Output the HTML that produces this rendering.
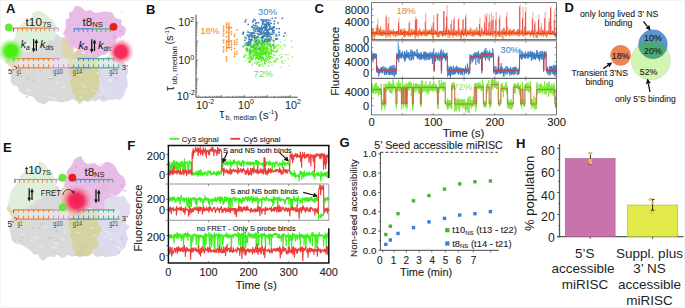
<!DOCTYPE html>
<html><head><meta charset="utf-8"><title>Figure</title>
<style>
html,body{margin:0;padding:0;background:#fff;}
#fig{position:relative;width:685px;height:308px;overflow:hidden;background:#fff;}
svg{position:absolute;left:0;top:0;}
svg text{font-family:"Liberation Sans", sans-serif;}
</style></head><body>
<div id="fig">
<svg width="685" height="308" viewBox="0 0 685 308">
<rect x="0.5" y="0.5" width="684" height="307" fill="none" stroke="#f4f4f4" stroke-width="1"/>
<defs>
<filter id="soft" x="-20%" y="-20%" width="140%" height="140%"><feGaussianBlur stdDeviation="0.7"/></filter>
<radialGradient id="gg"><stop offset="0" stop-color="#46f010"/><stop offset="0.45" stop-color="#4cee18"/><stop offset="0.72" stop-color="#86f06a" stop-opacity="0.6"/><stop offset="1" stop-color="#d0f8c8" stop-opacity="0"/></radialGradient>
<radialGradient id="rg"><stop offset="0" stop-color="#f42658"/><stop offset="0.45" stop-color="#f4305e"/><stop offset="0.74" stop-color="#f6849e" stop-opacity="0.55"/><stop offset="1" stop-color="#fac0cc" stop-opacity="0"/></radialGradient>
<radialGradient id="rg2"><stop offset="0" stop-color="#f01e52"/><stop offset="0.42" stop-color="#f22a5a"/><stop offset="0.7" stop-color="#f46a8a" stop-opacity="0.6"/><stop offset="1" stop-color="#f8b0c0" stop-opacity="0"/></radialGradient>
</defs>
<g transform="translate(0,0) translate(0,6) scale(1,1.0) translate(0,-6)" filter="url(#soft)">
<path d="M12.0,62.0 C11.8,60.4 11.7,58.5 12.5,57.3 C13.4,56.0 16.4,56.0 17.1,54.6 C17.9,53.1 16.4,49.5 17.3,48.6 C18.1,47.6 20.8,49.0 22.3,48.6 C23.8,48.2 24.9,47.2 26.1,46.2 C27.3,45.3 28.1,43.7 29.4,43.0 C30.7,42.3 32.7,42.6 34.2,41.9 C35.6,41.3 36.5,39.7 37.9,39.2 C39.3,38.6 41.1,39.3 42.4,38.7 C43.7,38.0 44.5,35.7 45.8,35.1 C47.0,34.5 48.6,35.0 50.0,34.9 C51.3,34.8 52.5,34.7 53.8,34.6 C55.1,34.5 56.6,33.9 57.7,34.4 C58.8,34.8 59.4,36.7 60.4,37.3 C61.4,37.9 63.1,37.3 63.9,38.1 C64.6,38.9 64.2,41.0 64.9,42.2 C65.5,43.3 67.0,44.0 67.7,45.2 C68.4,46.3 68.4,47.8 69.1,49.0 C69.8,50.3 70.7,52.3 71.8,52.8 C72.9,53.3 74.5,51.7 75.6,52.0 C76.8,52.3 77.6,54.0 78.7,54.5 C79.8,54.9 81.0,54.7 82.3,54.6 C83.5,54.5 84.9,53.7 86.1,53.7 C87.3,53.8 88.4,54.2 89.5,54.7 C90.7,55.1 91.7,55.8 92.8,56.4 C93.8,56.9 94.8,57.4 96.0,57.9 C97.2,58.3 98.7,58.6 100.0,58.8 C101.3,59.0 102.7,59.6 104.0,59.2 C105.3,58.8 106.7,56.5 108.0,56.3 C109.3,56.1 110.8,57.5 112.0,57.9 C113.2,58.4 113.9,58.7 115.1,59.1 C116.4,59.5 118.3,59.7 119.6,60.3 C121.0,60.9 122.2,61.6 123.3,62.6 C124.4,63.5 125.7,64.7 126.4,66.0 C127.1,67.2 128.0,68.6 127.7,69.9 C127.5,71.3 125.0,72.8 124.8,74.1 C124.7,75.5 126.5,76.7 126.9,78.0 C127.2,79.3 127.3,80.8 126.9,81.9 C126.4,83.1 124.5,83.7 124.1,84.9 C123.7,86.1 124.5,87.8 124.5,89.2 C124.4,90.6 124.2,91.8 123.7,93.0 C123.1,94.2 122.2,95.7 121.1,96.3 C120.0,96.9 118.2,95.9 117.0,96.4 C115.8,97.0 115.1,99.1 113.9,99.7 C112.7,100.2 111.1,99.6 109.8,99.8 C108.4,100.0 107.2,100.7 106.0,101.0 C104.8,101.4 103.6,102.0 102.4,101.7 C101.3,101.4 100.3,99.3 99.1,99.2 C97.9,99.2 96.6,101.2 95.4,101.4 C94.3,101.6 93.4,100.5 92.2,100.6 C91.0,100.7 89.7,102.0 88.3,102.0 C86.8,102.0 85.1,100.6 83.7,100.9 C82.3,101.3 81.0,104.1 79.7,104.1 C78.5,104.1 77.5,101.7 76.3,100.9 C75.0,100.2 73.7,99.5 72.4,99.5 C71.0,99.6 69.5,100.9 68.2,101.3 C66.9,101.6 65.8,101.6 64.7,101.8 C63.5,102.0 62.4,102.4 61.2,102.3 C60.0,102.3 58.7,101.6 57.5,101.4 C56.3,101.2 55.3,101.2 53.8,101.2 C52.4,101.2 50.3,100.7 48.7,101.3 C47.0,101.8 45.2,104.2 43.8,104.5 C42.4,104.8 41.5,103.5 40.3,103.0 C39.2,102.6 37.8,102.5 36.8,101.7 C35.8,101.0 35.3,99.3 34.4,98.3 C33.5,97.4 32.4,96.6 31.2,96.1 C30.0,95.6 28.4,95.8 27.1,95.4 C25.8,95.1 24.6,94.5 23.4,93.9 C22.1,93.3 20.3,92.9 19.4,91.7 C18.4,90.5 18.5,87.8 17.4,86.6 C16.4,85.5 14.2,86.0 13.1,85.0 C11.9,83.9 10.9,81.9 10.6,80.3 C10.3,78.6 11.2,76.6 11.3,75.0 C11.3,73.4 10.7,72.1 11.0,70.6 C11.4,69.2 13.2,67.9 13.4,66.5 C13.5,65.0 12.1,63.5 12.0,62.0 Z" fill="#dadada" stroke="none" stroke-width="1" />
<path d="M98.1,62.7 C99.0,62.1 100.5,62.4 101.6,61.8 C102.7,61.3 103.6,59.7 104.8,59.6 C106.0,59.4 107.5,61.1 108.8,60.9 C110.0,60.8 110.9,59.0 112.1,58.7 C113.3,58.4 114.7,58.8 115.8,59.3 C117.0,59.9 118.1,61.4 119.1,61.9 C120.1,62.4 121.0,62.0 121.8,62.6 C122.6,63.2 123.2,64.7 124.1,65.6 C124.9,66.6 126.1,67.4 126.8,68.5 C127.4,69.5 128.2,70.8 128.2,72.0 C128.2,73.3 126.9,74.6 126.7,75.9 C126.6,77.3 127.1,78.6 127.3,80.0 C127.5,81.3 127.8,82.7 127.8,84.0 C127.7,85.3 127.3,86.6 126.8,87.9 C126.3,89.2 125.6,90.5 125.0,91.9 C124.5,93.2 124.3,94.8 123.5,96.1 C122.7,97.4 121.3,99.0 120.1,99.5 C118.8,100.1 117.3,99.3 116.0,99.2 C114.6,99.1 113.2,98.9 111.9,99.1 C110.5,99.2 109.3,99.7 107.9,100.0 C106.6,100.4 105.1,101.3 104.0,101.0 C102.8,100.7 101.9,99.3 101.2,98.3 C100.5,97.3 100.1,96.1 99.8,94.9 C99.4,93.7 99.9,92.1 99.2,91.0 C98.6,89.8 96.1,89.1 95.7,88.0 C95.4,86.8 97.1,85.5 97.2,84.3 C97.4,83.1 96.5,81.8 96.7,80.5 C96.9,79.3 98.3,78.1 98.6,76.9 C98.9,75.7 98.8,74.4 98.8,73.2 C98.8,71.9 98.9,70.7 98.6,69.5 C98.3,68.2 96.8,66.8 96.7,65.7 C96.6,64.5 97.3,63.3 98.1,62.7 Z" fill="#dcdbee" stroke="none" stroke-width="1" />
<path d="M69.3,55.2 C70.2,54.5 71.7,54.4 72.9,53.8 C74.0,53.1 74.9,51.6 76.1,51.1 C77.3,50.6 78.8,50.4 80.1,50.8 C81.3,51.2 82.3,53.1 83.6,53.6 C84.9,54.2 86.5,53.9 87.9,54.2 C89.3,54.5 90.8,55.1 92.0,55.6 C93.2,56.1 94.1,56.3 95.0,57.2 C96.0,58.2 97.4,59.7 97.7,61.1 C98.0,62.5 96.7,64.3 96.9,65.8 C97.0,67.2 98.2,68.5 98.7,69.8 C99.2,71.2 100.0,72.7 100.0,74.0 C100.1,75.3 99.4,76.4 99.2,77.6 C99.0,78.8 99.1,80.0 99.1,81.2 C99.0,82.5 98.9,83.7 98.9,84.9 C98.9,86.1 99.3,87.5 99.0,88.6 C98.6,89.7 97.4,90.4 96.6,91.5 C95.7,92.6 94.9,94.2 94.0,95.3 C93.0,96.5 91.9,97.6 90.7,98.4 C89.6,99.3 88.3,100.3 87.1,100.4 C85.8,100.5 84.7,98.9 83.5,99.2 C82.2,99.4 80.7,101.6 79.5,101.7 C78.4,101.9 77.3,100.7 76.6,99.8 C75.9,98.9 76.0,97.4 75.3,96.3 C74.6,95.2 72.9,94.5 72.4,93.4 C71.8,92.3 72.2,90.8 72.0,89.6 C71.8,88.4 71.5,87.2 71.1,86.0 C70.7,84.7 69.6,83.5 69.7,82.1 C69.7,80.7 71.5,79.2 71.4,77.8 C71.3,76.5 69.2,75.4 68.9,74.1 C68.5,72.8 69.2,71.3 69.4,70.0 C69.6,68.7 70.4,67.3 70.2,66.0 C70.1,64.7 68.9,63.3 68.5,62.0 C68.1,60.7 67.6,59.1 67.7,58.0 C67.8,56.9 68.5,55.9 69.3,55.2 Z" fill="#d5d3a0" stroke="none" stroke-width="1" />
<path d="M61.5,39.3 C62.3,37.9 64.9,36.5 67.0,36.5 C69.1,36.4 73.0,37.9 73.9,38.9 C74.9,40.0 72.5,41.5 72.5,42.7 C72.5,44.0 73.7,45.1 73.9,46.3 C74.1,47.5 73.8,48.6 73.8,49.9 C73.7,51.2 73.9,52.9 73.6,54.1 C73.3,55.4 72.8,56.6 72.0,57.3 C71.2,58.1 69.7,58.6 68.5,58.7 C67.3,58.9 65.9,58.8 64.9,58.0 C63.9,57.3 63.1,55.7 62.5,54.3 C62.0,53.0 61.6,51.6 61.5,50.0 C61.4,48.4 61.9,46.8 61.9,45.0 C61.9,43.2 60.6,40.7 61.5,39.3 Z" fill="#dfd5b2" stroke="none" stroke-width="1" />
<path d="M14.0,41.9 C13.9,40.3 14.1,39.5 14.4,38.2 C14.6,37.0 15.3,35.8 15.6,34.7 C16.0,33.5 15.9,32.5 16.6,31.4 C17.2,30.3 18.9,29.5 19.7,28.3 C20.4,27.1 20.4,25.4 21.2,24.3 C22.1,23.2 23.4,22.4 24.7,21.7 C26.0,21.0 27.7,20.8 28.9,20.1 C30.1,19.4 31.2,18.9 31.9,17.6 C32.7,16.3 32.0,13.6 33.4,12.5 C34.8,11.4 38.2,10.8 40.2,11.0 C42.2,11.3 43.8,12.9 45.4,14.1 C47.0,15.2 48.5,17.1 49.8,18.1 C51.1,19.1 52.4,19.3 53.3,20.2 C54.2,21.1 54.6,22.3 55.2,23.5 C55.7,24.7 56.3,25.8 56.5,27.1 C56.8,28.3 56.9,29.2 56.7,30.9 C56.4,32.5 55.7,35.5 55.0,37.0 C54.3,38.5 53.5,39.3 52.4,39.9 C51.3,40.6 49.6,40.0 48.3,40.8 C47.0,41.6 46.0,43.7 44.6,44.7 C43.2,45.6 41.0,45.5 39.7,46.3 C38.5,47.1 38.3,49.1 37.1,49.5 C36.0,49.8 34.0,48.0 32.8,48.4 C31.6,48.7 31.2,50.9 30.1,51.6 C29.0,52.3 27.4,52.7 26.1,52.7 C24.9,52.6 23.8,51.5 22.5,51.3 C21.2,51.0 19.6,51.6 18.3,51.1 C17.0,50.5 15.5,49.7 14.8,48.2 C14.1,46.7 14.1,43.6 14.0,41.9 Z" fill="#dfefdb" stroke="none" stroke-width="1" />
<path d="M75.0,6.4 C76.1,5.7 78.4,6.1 79.7,6.5 C80.9,6.8 81.7,7.9 82.7,8.6 C83.8,9.4 84.6,10.7 85.9,10.9 C87.2,11.2 89.2,9.8 90.5,10.1 C91.9,10.3 92.5,12.1 94.0,12.5 C95.5,12.9 97.8,12.6 99.8,12.4 C101.8,12.2 103.7,11.5 105.8,11.6 C107.9,11.7 110.9,12.1 112.4,13.0 C113.8,13.8 113.5,15.7 114.2,16.6 C115.0,17.5 115.5,17.9 116.7,18.5 C117.9,19.0 120.7,19.0 121.5,20.0 C122.3,21.0 120.6,23.0 121.3,24.3 C121.9,25.6 124.7,26.3 125.4,27.7 C126.1,29.1 125.9,31.3 125.5,32.7 C125.1,34.0 124.2,35.1 123.1,35.8 C122.0,36.6 120.1,36.5 118.9,37.3 C117.7,38.2 116.6,39.6 115.8,41.0 C115.0,42.4 115.1,44.3 114.0,45.8 C112.8,47.3 109.9,48.6 108.8,49.9 C107.7,51.1 108.1,52.5 107.4,53.3 C106.7,54.1 105.9,54.2 104.7,54.7 C103.5,55.1 101.7,55.3 100.3,55.9 C98.8,56.5 97.6,57.7 96.0,58.0 C94.4,58.2 92.4,57.9 90.7,57.4 C89.1,56.9 87.2,56.0 85.9,55.1 C84.7,54.2 84.5,52.4 83.3,52.1 C82.1,51.7 79.8,53.4 78.7,52.8 C77.7,52.3 77.9,50.0 76.8,49.0 C75.7,48.0 73.6,47.6 72.1,46.8 C70.6,46.0 68.5,45.2 67.7,44.1 C66.9,43.0 67.7,41.6 67.4,40.5 C67.2,39.3 66.7,38.3 65.9,37.2 C65.2,36.1 63.2,35.2 63.1,33.8 C63.0,32.4 65.0,30.7 65.4,29.0 C65.9,27.4 65.8,25.4 65.9,23.9 C65.9,22.4 65.2,21.1 65.8,20.0 C66.4,19.0 68.9,18.8 69.4,17.6 C69.9,16.5 68.2,14.4 68.8,13.2 C69.4,12.0 71.9,11.7 72.9,10.5 C73.9,9.4 73.9,7.0 75.0,6.4 Z" fill="#e7bce6" stroke="none" stroke-width="1" />
</g>
<g transform="translate(0,0) translate(0,6) scale(1,1.0) translate(0,-6)" filter="url(#soft)" opacity="0.6">
<ellipse cx="93.9" cy="90.1" rx="2.4" ry="0.6" fill="#f0f0f0"/>
<ellipse cx="89.8" cy="96.7" rx="1.7" ry="0.8" fill="#c6c6c6"/>
<ellipse cx="80.6" cy="91.2" rx="1.2" ry="0.7" fill="#f0f0f0"/>
<ellipse cx="84.3" cy="71.2" rx="1.1" ry="0.8" fill="#c6c6c6"/>
<ellipse cx="40.0" cy="92.5" rx="2.2" ry="0.7" fill="#f0f0f0"/>
<ellipse cx="32.6" cy="80.7" rx="1.8" ry="1.0" fill="#c6c6c6"/>
<ellipse cx="57.5" cy="82.5" rx="1.5" ry="0.8" fill="#f0f0f0"/>
<ellipse cx="82.6" cy="77.8" rx="1.6" ry="1.0" fill="#c6c6c6"/>
<ellipse cx="49.6" cy="79.7" rx="1.4" ry="0.8" fill="#f0f0f0"/>
<ellipse cx="41.6" cy="78.5" rx="2.1" ry="0.7" fill="#c6c6c6"/>
<ellipse cx="82.4" cy="84.5" rx="1.3" ry="0.8" fill="#f0f0f0"/>
<ellipse cx="52.4" cy="78.9" rx="1.2" ry="1.0" fill="#c6c6c6"/>
<ellipse cx="81.6" cy="74.7" rx="1.1" ry="0.9" fill="#f0f0f0"/>
<ellipse cx="58.4" cy="73.9" rx="1.2" ry="1.3" fill="#c6c6c6"/>
<ellipse cx="101.3" cy="87.8" rx="1.6" ry="1.3" fill="#f0f0f0"/>
<ellipse cx="77.4" cy="87.3" rx="1.4" ry="1.0" fill="#c6c6c6"/>
<ellipse cx="86.5" cy="91.8" rx="2.0" ry="1.2" fill="#f0f0f0"/>
<ellipse cx="26.9" cy="96.8" rx="1.9" ry="0.8" fill="#c6c6c6"/>
<ellipse cx="97.7" cy="73.6" rx="1.2" ry="1.3" fill="#f0f0f0"/>
<ellipse cx="103.3" cy="97.5" rx="1.4" ry="0.9" fill="#c6c6c6"/>
<ellipse cx="50.9" cy="97.3" rx="2.4" ry="1.1" fill="#f0f0f0"/>
<ellipse cx="21.3" cy="76.7" rx="2.0" ry="0.9" fill="#c6c6c6"/>
<ellipse cx="28.3" cy="98.2" rx="1.2" ry="0.7" fill="#f0f0f0"/>
<ellipse cx="76.5" cy="76.7" rx="1.5" ry="0.8" fill="#c6c6c6"/>
<ellipse cx="64.1" cy="87.6" rx="2.3" ry="0.9" fill="#f0f0f0"/>
<ellipse cx="88.6" cy="91.2" rx="1.7" ry="0.7" fill="#c6c6c6"/>
<ellipse cx="110.1" cy="81.0" rx="2.4" ry="0.9" fill="#f0f0f0"/>
<ellipse cx="86.9" cy="91.9" rx="1.7" ry="0.8" fill="#c6c6c6"/>
<ellipse cx="100.7" cy="95.0" rx="1.4" ry="0.8" fill="#f0f0f0"/>
<ellipse cx="40.6" cy="71.1" rx="1.5" ry="0.9" fill="#c6c6c6"/>
<ellipse cx="110.1" cy="79.7" rx="2.1" ry="1.0" fill="#f0f0f0"/>
<ellipse cx="97.2" cy="75.9" rx="1.4" ry="0.7" fill="#c6c6c6"/>
<ellipse cx="85.2" cy="86.9" rx="2.2" ry="0.7" fill="#f0f0f0"/>
<ellipse cx="116.0" cy="78.1" rx="2.4" ry="0.9" fill="#c6c6c6"/>
<ellipse cx="28.5" cy="90.3" rx="2.4" ry="1.3" fill="#f0f0f0"/>
<ellipse cx="51.7" cy="95.7" rx="2.4" ry="0.7" fill="#c6c6c6"/>
<ellipse cx="119.1" cy="74.2" rx="1.1" ry="0.6" fill="#f0f0f0"/>
<ellipse cx="50.0" cy="78.9" rx="2.0" ry="1.0" fill="#c6c6c6"/>
<ellipse cx="81.1" cy="97.2" rx="1.4" ry="0.9" fill="#f0f0f0"/>
<ellipse cx="28.0" cy="78.3" rx="1.8" ry="1.3" fill="#c6c6c6"/>
<ellipse cx="103.2" cy="91.0" rx="1.9" ry="1.1" fill="#f0f0f0"/>
<ellipse cx="61.3" cy="72.1" rx="2.1" ry="0.8" fill="#c6c6c6"/>
<ellipse cx="39.7" cy="77.3" rx="2.1" ry="0.9" fill="#f0f0f0"/>
<ellipse cx="96.9" cy="89.2" rx="2.5" ry="1.3" fill="#c6c6c6"/>
<ellipse cx="54.4" cy="98.7" rx="1.5" ry="1.0" fill="#f0f0f0"/>
<ellipse cx="89.4" cy="54.2" rx="1.8" ry="1.2" fill="#f2d4f0"/>
<ellipse cx="120.5" cy="37.5" rx="1.1" ry="1.0" fill="#d8a8d8"/>
<ellipse cx="108.9" cy="47.4" rx="1.8" ry="1.0" fill="#f2d4f0"/>
<ellipse cx="88.2" cy="33.4" rx="1.6" ry="1.2" fill="#d8a8d8"/>
<ellipse cx="101.6" cy="54.5" rx="1.1" ry="0.8" fill="#f2d4f0"/>
<ellipse cx="101.3" cy="42.6" rx="2.1" ry="0.6" fill="#d8a8d8"/>
<ellipse cx="107.0" cy="45.2" rx="1.2" ry="1.2" fill="#f2d4f0"/>
<ellipse cx="79.2" cy="26.8" rx="1.4" ry="1.1" fill="#d8a8d8"/>
<ellipse cx="121.3" cy="12.2" rx="1.3" ry="0.8" fill="#f2d4f0"/>
<ellipse cx="113.8" cy="35.1" rx="1.9" ry="0.8" fill="#d8a8d8"/>
<ellipse cx="80.0" cy="26.7" rx="1.3" ry="0.7" fill="#f2d4f0"/>
<ellipse cx="102.0" cy="19.3" rx="1.0" ry="0.9" fill="#d8a8d8"/>
<ellipse cx="82.1" cy="49.1" rx="1.5" ry="0.6" fill="#f2d4f0"/>
<ellipse cx="71.9" cy="16.0" rx="1.2" ry="0.9" fill="#d8a8d8"/>
<ellipse cx="112.0" cy="31.9" rx="1.3" ry="0.8" fill="#f2d4f0"/>
<ellipse cx="120.9" cy="30.9" rx="1.8" ry="1.2" fill="#d8a8d8"/>
<ellipse cx="110.2" cy="28.5" rx="1.7" ry="0.9" fill="#f2d4f0"/>
<ellipse cx="74.4" cy="40.9" rx="1.7" ry="0.7" fill="#d8a8d8"/>
<ellipse cx="117.3" cy="36.1" rx="1.8" ry="1.0" fill="#f2d4f0"/>
<ellipse cx="122.4" cy="41.2" rx="1.4" ry="0.6" fill="#d8a8d8"/>
<ellipse cx="93.8" cy="8.2" rx="1.2" ry="0.7" fill="#f2d4f0"/>
<ellipse cx="114.8" cy="36.7" rx="2.1" ry="1.1" fill="#d8a8d8"/>
<ellipse cx="73.5" cy="52.6" rx="1.5" ry="0.8" fill="#f2d4f0"/>
<ellipse cx="101.9" cy="48.1" rx="1.4" ry="1.0" fill="#d8a8d8"/>
<ellipse cx="90.8" cy="31.8" rx="1.1" ry="1.1" fill="#f2d4f0"/>
</g>
<line x1="12.70" y1="28.20" x2="50.50" y2="28.20" stroke="#e8823c" stroke-width="1.2" />
<line x1="50.50" y1="28.20" x2="58.50" y2="28.20" stroke="#d792cc" stroke-width="1.2" />
<line x1="13.40" y1="28.20" x2="13.40" y2="31.40" stroke="#e8823c" stroke-width="1.0" />
<line x1="17.90" y1="28.20" x2="17.90" y2="31.40" stroke="#e8823c" stroke-width="1.0" />
<line x1="22.40" y1="28.20" x2="22.40" y2="31.40" stroke="#e8823c" stroke-width="1.0" />
<line x1="26.90" y1="28.20" x2="26.90" y2="31.40" stroke="#e8823c" stroke-width="1.0" />
<line x1="31.40" y1="28.20" x2="31.40" y2="31.40" stroke="#e8823c" stroke-width="1.0" />
<line x1="35.90" y1="28.20" x2="35.90" y2="31.40" stroke="#e8823c" stroke-width="1.0" />
<line x1="40.40" y1="28.20" x2="40.40" y2="31.40" stroke="#e8823c" stroke-width="1.0" />
<line x1="44.90" y1="28.20" x2="44.90" y2="31.40" stroke="#e8823c" stroke-width="1.0" />
<line x1="49.40" y1="28.20" x2="49.40" y2="31.40" stroke="#e8823c" stroke-width="1.0" />
<line x1="53.90" y1="28.20" x2="53.90" y2="31.40" stroke="#d792cc" stroke-width="1.0" />
<line x1="58.40" y1="28.20" x2="58.40" y2="31.40" stroke="#d792cc" stroke-width="1.0" />
<line x1="73.60" y1="28.80" x2="93.00" y2="28.80" stroke="#4a8ad0" stroke-width="1.2" />
<line x1="93.00" y1="28.80" x2="111.60" y2="28.80" stroke="#4fb08a" stroke-width="1.2" />
<line x1="74.20" y1="28.80" x2="74.20" y2="32.00" stroke="#4a8ad0" stroke-width="1.0" />
<line x1="78.70" y1="28.80" x2="78.70" y2="32.00" stroke="#4a8ad0" stroke-width="1.0" />
<line x1="83.20" y1="28.80" x2="83.20" y2="32.00" stroke="#4a8ad0" stroke-width="1.0" />
<line x1="87.70" y1="28.80" x2="87.70" y2="32.00" stroke="#4a8ad0" stroke-width="1.0" />
<line x1="92.20" y1="28.80" x2="92.20" y2="32.00" stroke="#4a8ad0" stroke-width="1.0" />
<line x1="96.70" y1="28.80" x2="96.70" y2="32.00" stroke="#4fb08a" stroke-width="1.0" />
<line x1="101.20" y1="28.80" x2="101.20" y2="32.00" stroke="#4fb08a" stroke-width="1.0" />
<line x1="105.70" y1="28.80" x2="105.70" y2="32.00" stroke="#4fb08a" stroke-width="1.0" />
<line x1="110.20" y1="28.80" x2="110.20" y2="32.00" stroke="#4fb08a" stroke-width="1.0" />
<line x1="13.40" y1="28.20" x2="13.40" y2="31.40" stroke="#6a5ac0" stroke-width="1" />
<circle cx="8.80" cy="27.40" r="3.90" fill="#66e83a" />
<circle cx="113.50" cy="26.80" r="3.90" fill="#ec1c1c" />
<text x="25.60" y="26.00" font-size="11.8" text-anchor="start" fill="#1a1a1a" font-weight="normal" font-style="normal" >t10</text>
<text x="42.40" y="27.00" font-size="7.6" text-anchor="start" fill="#1a1a1a" font-weight="normal" font-style="normal" >7S</text>
<text x="82.60" y="26.00" font-size="11.8" text-anchor="start" fill="#1a1a1a" font-weight="normal" font-style="normal" >t8</text>
<text x="92.20" y="27.00" font-size="7.6" text-anchor="start" fill="#1a1a1a" font-weight="normal" font-style="normal" >NS</text>
<text x="20.40" y="48.30" font-size="11.0" text-anchor="start" fill="#111" font-weight="normal" font-style="italic" >k</text>
<text x="25.70" y="49.50" font-size="7.2" text-anchor="start" fill="#111" font-weight="normal" font-style="italic" >a</text>
<line x1="33.60" y1="38.90" x2="33.60" y2="49.10" stroke="#111" stroke-width="1.25" />
<path d="M31.80,48.60 L35.40,48.60 L33.60,52.60 Z" fill="#111" stroke="none" stroke-width="1" />
<line x1="36.40" y1="50.80" x2="36.40" y2="42.40" stroke="#111" stroke-width="1.25" />
<path d="M34.60,42.90 L38.20,42.90 L36.40,38.90 Z" fill="#111" stroke="none" stroke-width="1" />
<text x="40.00" y="48.30" font-size="11.0" text-anchor="start" fill="#111" font-weight="normal" font-style="italic" >k</text>
<text x="45.40" y="50.20" font-size="7" fill="#111" font-style="italic" textLength="8.4" lengthAdjust="spacingAndGlyphs">dis</text>
<text x="78.50" y="48.60" font-size="11.0" text-anchor="start" fill="#111" font-weight="normal" font-style="italic" >k</text>
<text x="83.80" y="49.80" font-size="7.2" text-anchor="start" fill="#111" font-weight="normal" font-style="italic" >a</text>
<line x1="91.70" y1="39.20" x2="91.70" y2="49.40" stroke="#111" stroke-width="1.25" />
<path d="M89.90,48.90 L93.50,48.90 L91.70,52.90 Z" fill="#111" stroke="none" stroke-width="1" />
<line x1="94.50" y1="51.10" x2="94.50" y2="42.70" stroke="#111" stroke-width="1.25" />
<path d="M92.70,43.20 L96.30,43.20 L94.50,39.20 Z" fill="#111" stroke="none" stroke-width="1" />
<text x="98.10" y="48.60" font-size="11.0" text-anchor="start" fill="#111" font-weight="normal" font-style="italic" >k</text>
<text x="103.50" y="50.50" font-size="7" fill="#111" font-style="italic" textLength="8.4" lengthAdjust="spacingAndGlyphs">dis</text>
<rect x="17.50" y="58.60" width="102.00" height="9.20" fill="#ffffff" opacity="0.3"/>
<g filter="url(#soft)">
<path d="M7.2,61.2 L17.6,69.8" stroke="#eadab4" stroke-width="4.6" stroke-linecap="round"/>
<ellipse cx="20.4" cy="71.6" rx="4.0" ry="3.0" fill="#eadab4"/>
</g>
<line x1="13.30" y1="58.60" x2="52.40" y2="58.60" stroke="#e8823c" stroke-width="1.3" />
<line x1="52.40" y1="58.60" x2="59.50" y2="58.60" stroke="#d792cc" stroke-width="1.3" />
<line x1="13.60" y1="58.60" x2="13.60" y2="61.20" stroke="#e8823c" stroke-width="1.0" />
<line x1="18.60" y1="58.60" x2="18.60" y2="61.20" stroke="#e8823c" stroke-width="1.0" />
<line x1="23.60" y1="58.60" x2="23.60" y2="61.20" stroke="#e8823c" stroke-width="1.0" />
<line x1="28.60" y1="58.60" x2="28.60" y2="61.20" stroke="#e8823c" stroke-width="1.0" />
<line x1="33.60" y1="58.60" x2="33.60" y2="61.20" stroke="#e8823c" stroke-width="1.0" />
<line x1="38.60" y1="58.60" x2="38.60" y2="61.20" stroke="#e8823c" stroke-width="1.0" />
<line x1="43.60" y1="58.60" x2="43.60" y2="61.20" stroke="#e8823c" stroke-width="1.0" />
<line x1="48.60" y1="58.60" x2="48.60" y2="61.20" stroke="#e8823c" stroke-width="1.0" />
<line x1="53.60" y1="58.60" x2="53.60" y2="61.20" stroke="#d792cc" stroke-width="1.0" />
<line x1="58.60" y1="58.60" x2="58.60" y2="61.20" stroke="#d792cc" stroke-width="1.0" />
<line x1="77.30" y1="58.60" x2="91.60" y2="58.60" stroke="#4a8ad0" stroke-width="1.3" />
<line x1="91.60" y1="58.60" x2="115.00" y2="58.60" stroke="#4fb08a" stroke-width="1.3" />
<line x1="78.50" y1="58.60" x2="78.50" y2="61.20" stroke="#4a8ad0" stroke-width="1.0" />
<line x1="83.50" y1="58.60" x2="83.50" y2="61.20" stroke="#4a8ad0" stroke-width="1.0" />
<line x1="88.50" y1="58.60" x2="88.50" y2="61.20" stroke="#4a8ad0" stroke-width="1.0" />
<line x1="93.50" y1="58.60" x2="93.50" y2="61.20" stroke="#4fb08a" stroke-width="1.0" />
<line x1="98.50" y1="58.60" x2="98.50" y2="61.20" stroke="#4fb08a" stroke-width="1.0" />
<line x1="103.50" y1="58.60" x2="103.50" y2="61.20" stroke="#4fb08a" stroke-width="1.0" />
<line x1="108.50" y1="58.60" x2="108.50" y2="61.20" stroke="#4fb08a" stroke-width="1.0" />
<line x1="113.50" y1="58.60" x2="113.50" y2="61.20" stroke="#4fb08a" stroke-width="1.0" />
<line x1="17.80" y1="67.80" x2="49.60" y2="67.80" stroke="#e8823c" stroke-width="1.3" />
<line x1="49.60" y1="67.80" x2="69.60" y2="67.80" stroke="#d792cc" stroke-width="1.3" />
<line x1="69.60" y1="67.80" x2="90.80" y2="67.80" stroke="#4a8ad0" stroke-width="1.3" />
<line x1="90.80" y1="67.80" x2="119.30" y2="67.80" stroke="#4fb08a" stroke-width="1.3" />
<line x1="18.60" y1="67.80" x2="18.60" y2="64.20" stroke="#e8823c" stroke-width="1.0" />
<line x1="23.60" y1="67.80" x2="23.60" y2="64.20" stroke="#e8823c" stroke-width="1.0" />
<line x1="28.60" y1="67.80" x2="28.60" y2="64.20" stroke="#e8823c" stroke-width="1.0" />
<line x1="33.60" y1="67.80" x2="33.60" y2="64.20" stroke="#e8823c" stroke-width="1.0" />
<line x1="38.60" y1="67.80" x2="38.60" y2="64.20" stroke="#e8823c" stroke-width="1.0" />
<line x1="43.60" y1="67.80" x2="43.60" y2="64.20" stroke="#e8823c" stroke-width="1.0" />
<line x1="48.60" y1="67.80" x2="48.60" y2="64.20" stroke="#e8823c" stroke-width="1.0" />
<line x1="53.60" y1="67.80" x2="53.60" y2="64.20" stroke="#d792cc" stroke-width="1.0" />
<line x1="58.60" y1="67.80" x2="58.60" y2="64.20" stroke="#d792cc" stroke-width="1.0" />
<line x1="63.60" y1="67.80" x2="63.60" y2="64.20" stroke="#d792cc" stroke-width="1.0" />
<line x1="68.60" y1="67.80" x2="68.60" y2="64.20" stroke="#d792cc" stroke-width="1.0" />
<line x1="73.60" y1="67.80" x2="73.60" y2="64.20" stroke="#4a8ad0" stroke-width="1.0" />
<line x1="78.60" y1="67.80" x2="78.60" y2="64.20" stroke="#4a8ad0" stroke-width="1.0" />
<line x1="83.60" y1="67.80" x2="83.60" y2="64.20" stroke="#4a8ad0" stroke-width="1.0" />
<line x1="88.60" y1="67.80" x2="88.60" y2="64.20" stroke="#4a8ad0" stroke-width="1.0" />
<line x1="93.60" y1="67.80" x2="93.60" y2="64.20" stroke="#4fb08a" stroke-width="1.0" />
<line x1="98.60" y1="67.80" x2="98.60" y2="64.20" stroke="#4fb08a" stroke-width="1.0" />
<line x1="103.60" y1="67.80" x2="103.60" y2="64.20" stroke="#4fb08a" stroke-width="1.0" />
<line x1="108.60" y1="67.80" x2="108.60" y2="64.20" stroke="#4fb08a" stroke-width="1.0" />
<line x1="113.60" y1="67.80" x2="113.60" y2="64.20" stroke="#4fb08a" stroke-width="1.0" />
<line x1="118.60" y1="67.80" x2="118.60" y2="64.20" stroke="#4fb08a" stroke-width="1.0" />
<line x1="13.60" y1="58.60" x2="13.60" y2="61.20" stroke="#5a4ab0" stroke-width="1.1" />
<path d="M14.0,66.00 L17.4,67.80 M15.4,69.40 L17.4,67.80" fill="none" stroke="#5a4aa8" stroke-width="1.0" />
<text x="8.0" y="73.80" font-size="7.8" fill="#2a2a2a">5’</text>
<text x="16.4" y="73.60" font-size="6.4" fill="#444" textLength="5.0" lengthAdjust="spacingAndGlyphs">g1</text>
<text x="53.2" y="73.60" font-size="6.4" fill="#444" textLength="9.6" lengthAdjust="spacingAndGlyphs">g10</text>
<text x="72.8" y="73.60" font-size="6.4" fill="#444" textLength="9.4" lengthAdjust="spacingAndGlyphs">g14</text>
<text x="109.2" y="73.60" font-size="6.4" fill="#444" textLength="9.2" lengthAdjust="spacingAndGlyphs">g21</text>
<text x="121.8" y="69.60" font-size="7.8" fill="#2a2a2a">3’</text>
<circle cx="11.0" cy="51.2" r="13.5" fill="url(#gg)"/>
<circle cx="120.8" cy="51.8" r="13.5" fill="url(#rg)"/>
<text x="6.10" y="12.80" font-size="13.0" text-anchor="start" fill="#111" font-weight="bold" font-style="normal" >A</text>
<g transform="translate(0,151.3) translate(0,6) scale(1,1.04) translate(0,-6)" filter="url(#soft)">
<path d="M12.9,62.5 C13.6,61.1 14.0,59.7 14.8,58.4 C15.5,57.1 16.9,56.1 17.5,54.7 C18.0,53.3 17.2,51.0 17.9,49.9 C18.7,48.7 20.7,48.7 21.9,47.9 C23.2,47.1 24.3,45.9 25.5,45.1 C26.8,44.2 27.8,43.2 29.3,42.7 C30.7,42.2 32.7,42.5 34.2,42.1 C35.7,41.6 37.0,40.8 38.3,39.9 C39.6,38.9 40.6,37.3 41.9,36.5 C43.1,35.6 44.3,34.9 45.7,34.6 C47.0,34.3 48.4,34.7 49.9,34.5 C51.3,34.2 53.1,33.1 54.4,33.1 C55.7,33.0 56.9,33.3 57.8,34.1 C58.8,34.9 59.2,37.1 60.3,37.7 C61.3,38.3 63.2,37.3 64.3,37.8 C65.5,38.3 66.6,39.6 67.4,40.7 C68.2,41.8 68.7,43.0 69.0,44.4 C69.3,45.8 68.6,47.8 69.1,49.0 C69.6,50.2 70.9,51.4 72.0,51.8 C73.1,52.3 74.6,51.4 75.8,51.6 C76.9,51.7 78.1,51.9 79.1,52.7 C80.1,53.4 80.8,55.5 81.9,56.2 C82.9,56.9 84.1,57.0 85.4,56.9 C86.6,56.7 88.1,55.5 89.4,55.4 C90.6,55.3 91.7,55.5 92.8,56.2 C93.9,56.9 94.8,58.8 96.0,59.4 C97.2,59.9 98.7,59.6 100.0,59.4 C101.3,59.2 102.7,58.2 104.0,58.0 C105.3,57.9 106.7,58.2 108.0,58.4 C109.3,58.7 110.6,59.7 112.0,59.6 C113.4,59.5 114.8,57.8 116.1,57.8 C117.5,57.9 119.1,58.7 120.1,59.8 C121.0,60.9 120.8,63.4 121.8,64.5 C122.7,65.5 125.2,65.1 125.8,66.0 C126.4,66.9 125.4,68.7 125.5,70.0 C125.5,71.4 126.2,72.7 126.2,74.0 C126.2,75.4 125.5,76.8 125.6,78.1 C125.6,79.4 126.7,80.6 126.5,81.8 C126.3,83.0 124.6,83.8 124.3,85.0 C124.0,86.2 124.9,88.0 124.7,89.3 C124.4,90.6 123.6,91.6 122.9,92.7 C122.3,93.7 121.8,94.9 120.9,95.6 C119.9,96.3 118.5,96.8 117.2,97.0 C115.9,97.2 114.2,96.6 113.0,97.0 C111.7,97.4 110.8,98.5 109.6,99.4 C108.5,100.3 107.1,102.0 105.9,102.2 C104.7,102.4 103.7,100.7 102.5,100.6 C101.3,100.5 100.1,101.7 98.9,101.7 C97.7,101.8 96.7,101.5 95.5,100.9 C94.2,100.4 92.9,98.4 91.6,98.5 C90.4,98.6 89.4,100.9 88.1,101.3 C86.7,101.6 84.9,100.3 83.6,100.4 C82.3,100.5 81.5,101.8 80.3,101.8 C79.1,101.8 77.8,100.5 76.4,100.4 C75.0,100.3 73.3,101.6 71.9,101.5 C70.5,101.4 69.2,99.9 68.0,100.0 C66.8,100.2 65.9,101.8 64.7,102.2 C63.6,102.7 62.5,103.1 61.2,102.7 C60.0,102.3 58.5,100.0 57.3,99.8 C56.0,99.7 55.4,101.5 54.0,101.8 C52.5,102.1 50.5,101.0 48.7,101.7 C46.9,102.3 44.7,105.3 43.2,105.5 C41.8,105.8 41.0,104.4 40.1,103.4 C39.2,102.4 38.8,100.5 37.8,99.8 C36.7,99.1 34.9,99.9 33.8,99.3 C32.7,98.7 32.1,97.2 31.1,96.3 C30.1,95.4 29.0,94.7 28.0,94.0 C26.9,93.2 26.0,92.6 24.8,91.9 C23.6,91.2 22.1,90.4 20.6,89.9 C19.1,89.4 17.3,89.6 15.8,88.9 C14.3,88.1 12.6,86.7 11.8,85.2 C10.9,83.8 11.1,82.0 10.7,80.3 C10.3,78.5 9.5,76.5 9.3,74.9 C9.1,73.2 9.5,72.0 9.6,70.5 C9.8,69.1 9.8,67.6 10.3,66.2 C10.9,64.9 12.2,63.8 12.9,62.5 Z" fill="#dadada" stroke="none" stroke-width="1" />
<path d="M97.7,60.7 C98.5,60.0 100.2,61.0 101.5,61.1 C102.7,61.3 104.1,62.0 105.2,61.6 C106.4,61.2 107.2,59.1 108.3,58.7 C109.4,58.3 110.6,59.3 111.9,59.3 C113.2,59.3 114.8,58.4 116.0,58.7 C117.2,59.0 118.0,60.8 119.2,61.3 C120.4,61.9 122.1,61.3 123.2,61.9 C124.3,62.5 125.5,63.5 125.8,64.8 C126.1,66.0 124.4,68.1 125.0,69.3 C125.6,70.5 129.1,71.0 129.4,72.1 C129.7,73.2 127.5,74.6 127.0,76.0 C126.4,77.3 126.0,78.6 126.2,79.9 C126.5,81.3 128.2,82.7 128.3,84.1 C128.3,85.4 127.1,86.4 126.7,87.8 C126.2,89.2 126.3,91.0 125.5,92.2 C124.8,93.4 123.0,94.2 122.0,95.1 C121.1,96.1 120.8,96.9 119.8,97.8 C118.9,98.7 117.4,100.1 116.1,100.6 C114.9,101.2 113.5,100.9 112.1,101.1 C110.8,101.3 109.4,101.8 108.1,101.7 C106.9,101.6 105.7,101.3 104.7,100.6 C103.7,100.0 102.7,98.9 102.0,97.9 C101.4,96.8 101.4,95.4 100.8,94.4 C100.1,93.3 98.6,92.7 98.0,91.7 C97.4,90.6 97.3,89.2 97.2,88.0 C97.1,86.8 97.5,85.5 97.5,84.3 C97.4,83.1 97.1,81.8 97.0,80.6 C96.9,79.3 97.0,78.1 97.0,76.8 C96.9,75.6 96.6,74.3 96.9,73.1 C97.2,71.9 98.9,70.7 98.9,69.5 C98.9,68.2 97.0,67.1 96.8,65.7 C96.7,64.2 97.0,61.5 97.7,60.7 Z" fill="#dcdbee" stroke="none" stroke-width="1" />
<path d="M68.9,53.8 C69.7,52.8 71.3,52.7 72.5,52.5 C73.8,52.4 75.4,53.0 76.6,52.9 C77.8,52.7 78.4,52.1 79.7,51.8 C81.0,51.6 83.1,50.8 84.4,51.4 C85.7,51.9 86.3,54.5 87.6,55.2 C88.8,55.9 90.4,55.2 92.0,55.4 C93.6,55.7 96.1,55.8 97.1,56.7 C98.1,57.7 98.1,59.5 98.2,61.0 C98.2,62.5 97.1,64.2 97.2,65.7 C97.3,67.2 98.0,68.4 98.7,69.8 C99.4,71.2 101.1,72.9 101.4,74.2 C101.7,75.6 100.9,76.6 100.4,77.8 C100.0,78.9 99.3,80.0 98.6,81.2 C98.0,82.3 96.7,83.3 96.7,84.6 C96.7,85.8 98.5,87.2 98.6,88.6 C98.8,89.9 98.4,91.6 97.5,92.5 C96.6,93.5 94.2,93.3 93.1,94.4 C92.1,95.5 92.2,97.8 91.2,98.9 C90.1,100.0 88.3,100.7 87.0,101.0 C85.7,101.4 84.5,101.0 83.3,101.1 C82.1,101.1 81.0,101.4 79.6,101.3 C78.2,101.2 75.4,101.3 74.8,100.4 C74.1,99.6 76.1,97.3 75.7,96.2 C75.3,95.0 72.7,94.6 72.1,93.5 C71.6,92.4 72.3,90.8 72.3,89.5 C72.3,88.2 72.7,87.1 72.3,85.8 C71.9,84.6 70.3,83.4 70.0,82.1 C69.7,80.7 70.6,79.3 70.5,77.9 C70.4,76.6 69.8,75.3 69.5,74.0 C69.2,72.7 68.8,71.3 68.5,70.0 C68.3,68.7 67.7,67.3 68.0,66.0 C68.2,64.7 70.1,63.3 70.1,62.0 C70.1,60.7 68.3,59.4 68.1,58.0 C67.9,56.6 68.2,54.7 68.9,53.8 Z" fill="#d5d3a0" stroke="none" stroke-width="1" />
<path d="M62.2,40.3 C63.0,38.8 65.5,36.1 67.3,35.9 C69.0,35.7 71.7,37.9 72.7,39.0 C73.8,40.2 73.5,41.4 73.6,42.6 C73.7,43.9 73.0,45.1 73.2,46.4 C73.3,47.6 74.6,48.9 74.4,50.1 C74.3,51.4 72.8,52.4 72.4,53.9 C72.0,55.3 72.7,58.1 72.0,58.7 C71.3,59.4 69.6,57.8 68.5,57.7 C67.4,57.6 66.2,58.5 65.3,57.9 C64.5,57.2 64.1,55.2 63.4,53.9 C62.7,52.6 61.1,51.5 60.9,50.0 C60.8,48.5 62.4,46.7 62.6,45.0 C62.8,43.4 61.4,41.8 62.2,40.3 Z" fill="#dfd5b2" stroke="none" stroke-width="1" />
<path d="M16.2,42.1 C16.5,40.5 16.8,39.7 16.9,38.5 C17.0,37.3 16.9,35.9 17.0,34.8 C17.0,33.7 16.7,32.9 17.1,31.8 C17.5,30.7 18.6,29.4 19.1,28.0 C19.7,26.5 19.8,24.6 20.5,23.3 C21.3,22.1 22.5,21.2 23.7,20.4 C24.9,19.6 26.2,19.0 27.5,18.4 C28.8,17.9 30.4,17.7 31.6,17.2 C32.7,16.7 33.0,16.4 34.5,15.2 C36.0,14.0 38.6,10.4 40.5,10.1 C42.3,9.9 44.4,12.2 45.8,13.7 C47.2,15.1 47.8,17.6 49.0,18.7 C50.2,19.8 52.3,19.4 53.0,20.3 C53.7,21.3 52.8,23.2 53.3,24.3 C53.9,25.4 55.8,26.0 56.4,27.1 C56.9,28.2 56.9,29.3 56.6,30.9 C56.4,32.5 55.7,35.5 54.8,36.8 C53.9,38.1 52.2,37.6 51.3,38.6 C50.4,39.7 50.7,42.1 49.5,42.8 C48.2,43.6 45.3,42.5 43.7,43.1 C42.1,43.7 41.1,45.8 39.8,46.5 C38.6,47.2 37.3,46.8 36.3,47.4 C35.2,48.0 34.6,49.4 33.5,50.2 C32.5,51.0 31.4,51.8 30.1,52.2 C28.9,52.6 27.6,52.7 26.2,52.7 C24.8,52.8 23.0,52.8 21.7,52.4 C20.5,52.0 19.8,51.2 18.7,50.5 C17.6,49.7 15.5,49.5 15.1,48.2 C14.6,46.8 15.8,43.7 16.2,42.1 Z" fill="#dfefdb" stroke="none" stroke-width="1" />
<path d="M75.1,7.3 C76.4,6.4 79.5,4.8 80.8,5.0 C82.1,5.2 82.0,7.5 82.8,8.6 C83.6,9.7 84.5,10.9 85.7,11.5 C86.8,12.2 88.4,12.3 89.8,12.3 C91.2,12.3 92.2,11.2 94.0,11.6 C95.8,11.9 98.5,14.8 100.5,14.6 C102.6,14.4 104.3,10.6 106.3,10.3 C108.3,9.9 111.2,11.6 112.7,12.4 C114.2,13.2 114.6,14.1 115.3,15.0 C116.1,16.0 116.5,17.0 117.2,18.1 C117.8,19.3 118.3,20.7 119.3,21.7 C120.2,22.7 121.7,23.1 122.7,24.1 C123.6,25.1 124.6,26.3 125.1,27.8 C125.6,29.2 125.8,31.3 125.6,32.7 C125.3,34.1 124.4,35.1 123.6,36.2 C122.8,37.3 121.9,38.4 120.9,39.4 C119.8,40.5 118.7,41.8 117.2,42.5 C115.7,43.2 112.8,42.5 111.6,43.9 C110.5,45.3 111.2,49.5 110.3,50.8 C109.3,52.2 106.6,51.3 105.8,52.2 C104.9,53.0 105.9,55.2 105.0,56.0 C104.1,56.8 102.0,56.8 100.5,57.1 C99.0,57.3 97.6,58.0 96.1,57.6 C94.6,57.3 93.1,55.5 91.5,54.9 C89.8,54.4 87.8,54.7 86.2,54.5 C84.7,54.4 83.6,54.2 82.3,54.0 C81.1,53.8 79.6,54.0 78.6,53.2 C77.6,52.4 77.4,50.6 76.4,49.4 C75.4,48.3 74.2,47.1 72.6,46.2 C71.0,45.4 68.1,45.2 67.0,44.3 C66.0,43.4 66.7,41.9 66.2,40.9 C65.8,39.8 64.5,39.0 64.1,37.9 C63.8,36.7 64.0,35.4 64.2,33.9 C64.3,32.5 64.5,30.6 64.9,28.9 C65.2,27.3 66.0,25.6 66.3,24.1 C66.6,22.7 66.4,21.6 66.7,20.4 C67.0,19.3 67.5,18.1 68.3,17.2 C69.1,16.3 70.7,16.1 71.5,15.0 C72.2,13.9 72.5,11.9 73.1,10.6 C73.7,9.4 73.8,8.3 75.1,7.3 Z" fill="#e7bce6" stroke="none" stroke-width="1" />
</g>
<g transform="translate(0,151.3) translate(0,6) scale(1,1.04) translate(0,-6)" filter="url(#soft)" opacity="0.6">
<ellipse cx="119.1" cy="93.0" rx="1.2" ry="0.9" fill="#f0f0f0"/>
<ellipse cx="79.5" cy="89.9" rx="1.4" ry="1.1" fill="#c6c6c6"/>
<ellipse cx="31.4" cy="86.4" rx="1.9" ry="1.1" fill="#f0f0f0"/>
<ellipse cx="80.9" cy="98.4" rx="2.1" ry="1.1" fill="#c6c6c6"/>
<ellipse cx="45.2" cy="73.1" rx="2.4" ry="0.6" fill="#f0f0f0"/>
<ellipse cx="33.3" cy="73.9" rx="1.4" ry="1.2" fill="#c6c6c6"/>
<ellipse cx="109.6" cy="79.3" rx="1.8" ry="1.2" fill="#f0f0f0"/>
<ellipse cx="27.6" cy="81.0" rx="1.8" ry="0.7" fill="#c6c6c6"/>
<ellipse cx="63.1" cy="84.8" rx="1.7" ry="1.1" fill="#f0f0f0"/>
<ellipse cx="21.0" cy="86.2" rx="2.1" ry="1.1" fill="#c6c6c6"/>
<ellipse cx="53.5" cy="92.8" rx="1.9" ry="1.0" fill="#f0f0f0"/>
<ellipse cx="89.7" cy="91.7" rx="1.2" ry="0.9" fill="#c6c6c6"/>
<ellipse cx="117.5" cy="92.2" rx="2.4" ry="0.9" fill="#f0f0f0"/>
<ellipse cx="121.9" cy="84.0" rx="1.6" ry="1.2" fill="#c6c6c6"/>
<ellipse cx="77.8" cy="78.5" rx="2.2" ry="0.6" fill="#f0f0f0"/>
<ellipse cx="54.8" cy="96.5" rx="1.0" ry="1.2" fill="#c6c6c6"/>
<ellipse cx="93.8" cy="95.5" rx="1.2" ry="0.7" fill="#f0f0f0"/>
<ellipse cx="83.0" cy="91.7" rx="2.2" ry="0.8" fill="#c6c6c6"/>
<ellipse cx="56.8" cy="88.6" rx="2.0" ry="1.0" fill="#f0f0f0"/>
<ellipse cx="56.9" cy="85.9" rx="2.3" ry="0.7" fill="#c6c6c6"/>
<ellipse cx="35.3" cy="83.0" rx="1.8" ry="1.0" fill="#f0f0f0"/>
<ellipse cx="40.0" cy="73.5" rx="1.3" ry="0.6" fill="#c6c6c6"/>
<ellipse cx="21.5" cy="98.1" rx="1.4" ry="1.2" fill="#f0f0f0"/>
<ellipse cx="113.3" cy="87.1" rx="1.4" ry="1.0" fill="#c6c6c6"/>
<ellipse cx="41.5" cy="92.0" rx="2.2" ry="0.7" fill="#f0f0f0"/>
<ellipse cx="81.7" cy="96.3" rx="2.5" ry="1.0" fill="#c6c6c6"/>
<ellipse cx="105.5" cy="82.5" rx="2.5" ry="0.8" fill="#f0f0f0"/>
<ellipse cx="41.2" cy="70.2" rx="2.1" ry="1.0" fill="#c6c6c6"/>
<ellipse cx="120.2" cy="95.1" rx="1.6" ry="1.1" fill="#f0f0f0"/>
<ellipse cx="22.0" cy="83.5" rx="2.1" ry="1.0" fill="#c6c6c6"/>
<ellipse cx="106.6" cy="77.5" rx="1.9" ry="0.7" fill="#f0f0f0"/>
<ellipse cx="102.0" cy="97.2" rx="1.4" ry="0.7" fill="#c6c6c6"/>
<ellipse cx="91.7" cy="74.4" rx="1.8" ry="0.8" fill="#f0f0f0"/>
<ellipse cx="87.0" cy="92.1" rx="1.6" ry="1.0" fill="#c6c6c6"/>
<ellipse cx="94.2" cy="81.1" rx="1.9" ry="0.9" fill="#f0f0f0"/>
<ellipse cx="50.3" cy="83.7" rx="2.4" ry="1.0" fill="#c6c6c6"/>
<ellipse cx="119.0" cy="87.1" rx="1.3" ry="0.9" fill="#f0f0f0"/>
<ellipse cx="88.1" cy="79.9" rx="1.3" ry="1.2" fill="#c6c6c6"/>
<ellipse cx="57.3" cy="91.1" rx="1.3" ry="0.6" fill="#f0f0f0"/>
<ellipse cx="118.6" cy="97.7" rx="1.7" ry="1.0" fill="#c6c6c6"/>
<ellipse cx="64.5" cy="77.8" rx="1.2" ry="1.3" fill="#f0f0f0"/>
<ellipse cx="56.7" cy="76.8" rx="1.4" ry="1.3" fill="#c6c6c6"/>
<ellipse cx="22.1" cy="80.2" rx="1.5" ry="0.9" fill="#f0f0f0"/>
<ellipse cx="38.5" cy="74.8" rx="1.6" ry="1.1" fill="#c6c6c6"/>
<ellipse cx="111.3" cy="84.6" rx="2.0" ry="1.2" fill="#f0f0f0"/>
<ellipse cx="120.2" cy="37.7" rx="1.4" ry="0.7" fill="#f2d4f0"/>
<ellipse cx="103.7" cy="37.6" rx="1.8" ry="0.6" fill="#d8a8d8"/>
<ellipse cx="103.5" cy="11.9" rx="2.0" ry="0.9" fill="#f2d4f0"/>
<ellipse cx="124.8" cy="38.1" rx="2.1" ry="0.8" fill="#d8a8d8"/>
<ellipse cx="78.3" cy="46.7" rx="2.1" ry="1.1" fill="#f2d4f0"/>
<ellipse cx="102.7" cy="26.0" rx="2.1" ry="0.7" fill="#d8a8d8"/>
<ellipse cx="81.9" cy="29.9" rx="1.2" ry="1.0" fill="#f2d4f0"/>
<ellipse cx="104.2" cy="33.3" rx="2.0" ry="0.6" fill="#d8a8d8"/>
<ellipse cx="100.0" cy="22.9" rx="1.1" ry="0.8" fill="#f2d4f0"/>
<ellipse cx="102.1" cy="35.7" rx="1.5" ry="0.7" fill="#d8a8d8"/>
<ellipse cx="103.2" cy="12.4" rx="1.2" ry="1.1" fill="#f2d4f0"/>
<ellipse cx="70.9" cy="15.0" rx="1.3" ry="0.8" fill="#d8a8d8"/>
<ellipse cx="111.2" cy="41.1" rx="2.1" ry="1.0" fill="#f2d4f0"/>
<ellipse cx="87.4" cy="48.7" rx="2.2" ry="1.0" fill="#d8a8d8"/>
<ellipse cx="81.6" cy="14.1" rx="1.3" ry="1.0" fill="#f2d4f0"/>
<ellipse cx="121.1" cy="33.2" rx="1.2" ry="1.1" fill="#d8a8d8"/>
<ellipse cx="88.9" cy="14.7" rx="1.0" ry="0.7" fill="#f2d4f0"/>
<ellipse cx="102.4" cy="25.2" rx="1.8" ry="0.8" fill="#d8a8d8"/>
<ellipse cx="111.3" cy="41.7" rx="1.8" ry="0.8" fill="#f2d4f0"/>
<ellipse cx="76.0" cy="14.5" rx="1.1" ry="1.2" fill="#d8a8d8"/>
<ellipse cx="100.9" cy="53.2" rx="1.6" ry="0.8" fill="#f2d4f0"/>
<ellipse cx="100.6" cy="12.7" rx="1.9" ry="0.6" fill="#d8a8d8"/>
<ellipse cx="85.7" cy="42.3" rx="1.9" ry="0.9" fill="#f2d4f0"/>
<ellipse cx="86.1" cy="17.2" rx="2.0" ry="0.9" fill="#d8a8d8"/>
<ellipse cx="96.2" cy="49.7" rx="1.2" ry="1.1" fill="#f2d4f0"/>
</g>
<g filter="url(#soft)">
<path d="M104.1,201.2 C104.5,200.2 105.8,199.0 106.9,198.4 C107.9,197.8 109.4,198.2 110.6,197.6 C111.8,197.1 112.9,195.3 114.0,195.1 C115.2,194.9 116.4,196.3 117.7,196.5 C118.9,196.7 120.2,196.1 121.3,196.2 C122.5,196.2 123.8,195.9 124.7,196.7 C125.7,197.5 126.2,199.6 127.1,201.0 C128.0,202.4 129.7,203.7 130.2,205.0 C130.7,206.3 130.1,207.5 130.1,208.7 C130.1,209.9 130.5,211.3 130.2,212.4 C130.0,213.5 129.6,214.5 128.8,215.4 C128.0,216.2 126.6,217.0 125.5,217.5 C124.3,218.1 123.1,218.1 121.8,218.5 C120.5,218.9 119.0,220.2 117.7,219.9 C116.4,219.7 115.6,217.4 114.2,217.0 C112.9,216.6 110.9,217.7 109.6,217.4 C108.4,217.0 107.7,215.8 107.0,214.9 C106.3,213.9 106.2,212.6 105.7,211.5 C105.2,210.4 104.1,209.3 103.9,208.2 C103.7,207.0 104.4,205.7 104.5,204.5 C104.5,203.3 103.7,202.2 104.1,201.2 Z" fill="#dedcee" stroke="none" stroke-width="1" />
</g>
<g filter="url(#soft)">
<path d="M8.2,206.0 C7.5,204.6 8.6,202.6 8.9,201.0 C9.1,199.4 9.3,197.7 9.7,196.3 C10.0,194.8 10.5,193.5 10.9,192.2 C11.4,190.8 11.6,189.5 12.4,188.4 C13.1,187.2 14.3,186.4 15.2,185.2 C16.1,184.0 16.6,181.7 17.8,181.2 C19.0,180.7 21.0,182.3 22.3,182.1 C23.6,182.0 24.5,180.2 25.7,180.3 C27.0,180.3 28.4,181.5 29.6,182.4 C30.7,183.4 32.3,184.8 32.7,186.0 C33.2,187.2 32.6,188.3 32.3,189.5 C32.0,190.7 31.1,191.8 31.0,193.0 C30.9,194.2 31.3,195.2 31.6,196.5 C31.9,197.8 33.0,199.3 32.9,200.5 C32.8,201.8 31.9,203.0 31.1,204.0 C30.4,205.1 29.4,206.1 28.5,207.0 C27.6,207.8 26.9,208.2 25.7,209.1 C24.5,210.0 22.8,212.0 21.3,212.5 C19.8,213.1 18.1,212.9 16.7,212.3 C15.3,211.8 14.2,210.2 12.8,209.2 C11.4,208.1 8.9,207.4 8.2,206.0 Z" fill="#dfefdb" stroke="none" stroke-width="1" />
</g>
<line x1="14.30" y1="179.50" x2="52.00" y2="179.50" stroke="#e8823c" stroke-width="1.2" />
<line x1="52.00" y1="179.50" x2="59.80" y2="179.50" stroke="#d792cc" stroke-width="1.2" />
<line x1="14.90" y1="179.50" x2="14.90" y2="182.70" stroke="#e8823c" stroke-width="1.0" />
<line x1="19.50" y1="179.50" x2="19.50" y2="182.70" stroke="#e8823c" stroke-width="1.0" />
<line x1="24.10" y1="179.50" x2="24.10" y2="182.70" stroke="#e8823c" stroke-width="1.0" />
<line x1="28.70" y1="179.50" x2="28.70" y2="182.70" stroke="#e8823c" stroke-width="1.0" />
<line x1="33.30" y1="179.50" x2="33.30" y2="182.70" stroke="#e8823c" stroke-width="1.0" />
<line x1="37.90" y1="179.50" x2="37.90" y2="182.70" stroke="#e8823c" stroke-width="1.0" />
<line x1="42.50" y1="179.50" x2="42.50" y2="182.70" stroke="#e8823c" stroke-width="1.0" />
<line x1="47.10" y1="179.50" x2="47.10" y2="182.70" stroke="#e8823c" stroke-width="1.0" />
<line x1="51.70" y1="179.50" x2="51.70" y2="182.70" stroke="#e8823c" stroke-width="1.0" />
<line x1="56.30" y1="179.50" x2="56.30" y2="182.70" stroke="#d792cc" stroke-width="1.0" />
<line x1="75.40" y1="179.50" x2="95.00" y2="179.50" stroke="#4a8ad0" stroke-width="1.2" />
<line x1="95.00" y1="179.50" x2="113.00" y2="179.50" stroke="#4fb08a" stroke-width="1.2" />
<line x1="76.00" y1="179.50" x2="76.00" y2="182.70" stroke="#4a8ad0" stroke-width="1.0" />
<line x1="80.60" y1="179.50" x2="80.60" y2="182.70" stroke="#4a8ad0" stroke-width="1.0" />
<line x1="85.20" y1="179.50" x2="85.20" y2="182.70" stroke="#4a8ad0" stroke-width="1.0" />
<line x1="89.80" y1="179.50" x2="89.80" y2="182.70" stroke="#4a8ad0" stroke-width="1.0" />
<line x1="94.40" y1="179.50" x2="94.40" y2="182.70" stroke="#4a8ad0" stroke-width="1.0" />
<line x1="99.00" y1="179.50" x2="99.00" y2="182.70" stroke="#4fb08a" stroke-width="1.0" />
<line x1="103.60" y1="179.50" x2="103.60" y2="182.70" stroke="#4fb08a" stroke-width="1.0" />
<line x1="108.20" y1="179.50" x2="108.20" y2="182.70" stroke="#4fb08a" stroke-width="1.0" />
<line x1="112.80" y1="179.50" x2="112.80" y2="182.70" stroke="#4fb08a" stroke-width="1.0" />
<line x1="14.90" y1="179.50" x2="14.90" y2="182.70" stroke="#6a5ac0" stroke-width="1" />
<text x="25.00" y="173.90" font-size="11.8" text-anchor="start" fill="#1a1a1a" font-weight="normal" font-style="normal" >t10</text>
<text x="41.80" y="174.90" font-size="7.6" text-anchor="start" fill="#1a1a1a" font-weight="normal" font-style="normal" >7S</text>
<text x="84.40" y="176.00" font-size="11.8" text-anchor="start" fill="#1a1a1a" font-weight="normal" font-style="normal" >t8</text>
<text x="94.00" y="177.00" font-size="7.6" text-anchor="start" fill="#1a1a1a" font-weight="normal" font-style="normal" >NS</text>
<rect x="17.50" y="209.90" width="102.00" height="9.20" fill="#ffffff" opacity="0.3"/>
<g filter="url(#soft)">
<path d="M8.8,208.5 L18.2,221.8" stroke="#eadab4" stroke-width="4.6" stroke-linecap="round"/>
<ellipse cx="21.2" cy="223.4" rx="4.2" ry="3.2" fill="#eadab4"/>
</g>
<line x1="13.30" y1="209.90" x2="52.40" y2="209.90" stroke="#e8823c" stroke-width="1.3" />
<line x1="52.40" y1="209.90" x2="59.50" y2="209.90" stroke="#d792cc" stroke-width="1.3" />
<line x1="13.60" y1="209.90" x2="13.60" y2="212.50" stroke="#e8823c" stroke-width="1.0" />
<line x1="18.60" y1="209.90" x2="18.60" y2="212.50" stroke="#e8823c" stroke-width="1.0" />
<line x1="23.60" y1="209.90" x2="23.60" y2="212.50" stroke="#e8823c" stroke-width="1.0" />
<line x1="28.60" y1="209.90" x2="28.60" y2="212.50" stroke="#e8823c" stroke-width="1.0" />
<line x1="33.60" y1="209.90" x2="33.60" y2="212.50" stroke="#e8823c" stroke-width="1.0" />
<line x1="38.60" y1="209.90" x2="38.60" y2="212.50" stroke="#e8823c" stroke-width="1.0" />
<line x1="43.60" y1="209.90" x2="43.60" y2="212.50" stroke="#e8823c" stroke-width="1.0" />
<line x1="48.60" y1="209.90" x2="48.60" y2="212.50" stroke="#e8823c" stroke-width="1.0" />
<line x1="53.60" y1="209.90" x2="53.60" y2="212.50" stroke="#d792cc" stroke-width="1.0" />
<line x1="58.60" y1="209.90" x2="58.60" y2="212.50" stroke="#d792cc" stroke-width="1.0" />
<line x1="77.30" y1="209.90" x2="91.60" y2="209.90" stroke="#4a8ad0" stroke-width="1.3" />
<line x1="91.60" y1="209.90" x2="115.00" y2="209.90" stroke="#4fb08a" stroke-width="1.3" />
<line x1="78.50" y1="209.90" x2="78.50" y2="212.50" stroke="#4a8ad0" stroke-width="1.0" />
<line x1="83.50" y1="209.90" x2="83.50" y2="212.50" stroke="#4a8ad0" stroke-width="1.0" />
<line x1="88.50" y1="209.90" x2="88.50" y2="212.50" stroke="#4a8ad0" stroke-width="1.0" />
<line x1="93.50" y1="209.90" x2="93.50" y2="212.50" stroke="#4fb08a" stroke-width="1.0" />
<line x1="98.50" y1="209.90" x2="98.50" y2="212.50" stroke="#4fb08a" stroke-width="1.0" />
<line x1="103.50" y1="209.90" x2="103.50" y2="212.50" stroke="#4fb08a" stroke-width="1.0" />
<line x1="108.50" y1="209.90" x2="108.50" y2="212.50" stroke="#4fb08a" stroke-width="1.0" />
<line x1="113.50" y1="209.90" x2="113.50" y2="212.50" stroke="#4fb08a" stroke-width="1.0" />
<line x1="17.80" y1="219.10" x2="49.60" y2="219.10" stroke="#e8823c" stroke-width="1.3" />
<line x1="49.60" y1="219.10" x2="69.60" y2="219.10" stroke="#d792cc" stroke-width="1.3" />
<line x1="69.60" y1="219.10" x2="90.80" y2="219.10" stroke="#4a8ad0" stroke-width="1.3" />
<line x1="90.80" y1="219.10" x2="119.30" y2="219.10" stroke="#4fb08a" stroke-width="1.3" />
<line x1="18.60" y1="219.10" x2="18.60" y2="215.50" stroke="#e8823c" stroke-width="1.0" />
<line x1="23.60" y1="219.10" x2="23.60" y2="215.50" stroke="#e8823c" stroke-width="1.0" />
<line x1="28.60" y1="219.10" x2="28.60" y2="215.50" stroke="#e8823c" stroke-width="1.0" />
<line x1="33.60" y1="219.10" x2="33.60" y2="215.50" stroke="#e8823c" stroke-width="1.0" />
<line x1="38.60" y1="219.10" x2="38.60" y2="215.50" stroke="#e8823c" stroke-width="1.0" />
<line x1="43.60" y1="219.10" x2="43.60" y2="215.50" stroke="#e8823c" stroke-width="1.0" />
<line x1="48.60" y1="219.10" x2="48.60" y2="215.50" stroke="#e8823c" stroke-width="1.0" />
<line x1="53.60" y1="219.10" x2="53.60" y2="215.50" stroke="#d792cc" stroke-width="1.0" />
<line x1="58.60" y1="219.10" x2="58.60" y2="215.50" stroke="#d792cc" stroke-width="1.0" />
<line x1="63.60" y1="219.10" x2="63.60" y2="215.50" stroke="#d792cc" stroke-width="1.0" />
<line x1="68.60" y1="219.10" x2="68.60" y2="215.50" stroke="#d792cc" stroke-width="1.0" />
<line x1="73.60" y1="219.10" x2="73.60" y2="215.50" stroke="#4a8ad0" stroke-width="1.0" />
<line x1="78.60" y1="219.10" x2="78.60" y2="215.50" stroke="#4a8ad0" stroke-width="1.0" />
<line x1="83.60" y1="219.10" x2="83.60" y2="215.50" stroke="#4a8ad0" stroke-width="1.0" />
<line x1="88.60" y1="219.10" x2="88.60" y2="215.50" stroke="#4a8ad0" stroke-width="1.0" />
<line x1="93.60" y1="219.10" x2="93.60" y2="215.50" stroke="#4fb08a" stroke-width="1.0" />
<line x1="98.60" y1="219.10" x2="98.60" y2="215.50" stroke="#4fb08a" stroke-width="1.0" />
<line x1="103.60" y1="219.10" x2="103.60" y2="215.50" stroke="#4fb08a" stroke-width="1.0" />
<line x1="108.60" y1="219.10" x2="108.60" y2="215.50" stroke="#4fb08a" stroke-width="1.0" />
<line x1="113.60" y1="219.10" x2="113.60" y2="215.50" stroke="#4fb08a" stroke-width="1.0" />
<line x1="118.60" y1="219.10" x2="118.60" y2="215.50" stroke="#4fb08a" stroke-width="1.0" />
<line x1="13.60" y1="209.90" x2="13.60" y2="212.50" stroke="#5a4ab0" stroke-width="1.1" />
<path d="M14.0,217.30 L17.4,219.10 M15.4,220.70 L17.4,219.10" fill="none" stroke="#5a4aa8" stroke-width="1.0" />
<text x="7.4" y="226.50" font-size="8.2" fill="#2a2a2a">5’</text>
<text x="17.599999999999998" y="226.30" font-size="6.4" fill="#444" textLength="5.0" lengthAdjust="spacingAndGlyphs">g1</text>
<text x="53.2" y="226.30" font-size="6.4" fill="#444" textLength="9.6" lengthAdjust="spacingAndGlyphs">g10</text>
<text x="72.8" y="226.30" font-size="6.4" fill="#444" textLength="9.4" lengthAdjust="spacingAndGlyphs">g14</text>
<text x="109.2" y="226.30" font-size="6.4" fill="#444" textLength="9.2" lengthAdjust="spacingAndGlyphs">g21</text>
<text x="121.8" y="220.90" font-size="7.8" fill="#2a2a2a">3’</text>
<g filter="url(#soft)">
<path d="M61.0,189.0 C61.8,187.3 64.8,186.5 66.0,187.0 C67.2,187.5 68.2,190.0 68.0,192.0 C67.8,194.0 66.2,198.2 65.0,199.0 C63.8,199.8 61.7,198.7 61.0,197.0 C60.3,195.3 60.2,190.7 61.0,189.0 Z" fill="#e8d8b4" stroke="none" stroke-width="1" />
</g>
<circle cx="76.6" cy="200.8" r="16.5" fill="url(#rg2)"/>
<circle cx="62.40" cy="177.70" r="3.90" fill="#66e83a" />
<circle cx="72.30" cy="177.70" r="3.90" fill="#ec1c1c" />
<circle cx="62.70" cy="207.30" r="3.90" fill="#66e83a" />
<line x1="29.20" y1="188.20" x2="29.20" y2="198.30" stroke="#111" stroke-width="1.25" />
<path d="M27.40,197.80 L31.00,197.80 L29.20,201.80 Z" fill="#111" stroke="none" stroke-width="1" />
<line x1="32.00" y1="200.00" x2="32.00" y2="191.70" stroke="#111" stroke-width="1.25" />
<path d="M30.20,192.20 L33.80,192.20 L32.00,188.20 Z" fill="#111" stroke="none" stroke-width="1" />
<line x1="96.00" y1="189.60" x2="96.00" y2="200.10" stroke="#111" stroke-width="1.25" />
<path d="M94.20,199.60 L97.80,199.60 L96.00,203.60 Z" fill="#111" stroke="none" stroke-width="1" />
<line x1="98.80" y1="201.80" x2="98.80" y2="193.10" stroke="#111" stroke-width="1.25" />
<path d="M97.00,193.60 L100.60,193.60 L98.80,189.60 Z" fill="#111" stroke="none" stroke-width="1" />
<text x="40.8" y="195.5" font-size="8.6" fill="#1a1a1a" textLength="20.2" lengthAdjust="spacingAndGlyphs">FRET</text>
<path d="M62.8,195 C63.5,189.5 70,187.5 72.8,192" fill="none" stroke="#222" stroke-width="0.8" />
<path d="M71.0,191.2 L74.2,194.2 L74.4,190.4 Z" fill="#5a1a3a" stroke="none" stroke-width="1" />
<text x="3.00" y="151.90" font-size="13.0" text-anchor="start" fill="#111" font-weight="bold" font-style="normal" >E</text>
<text x="146.10" y="13.80" font-size="13.0" text-anchor="start" fill="#111" font-weight="bold" font-style="normal" >B</text>
<line x1="196.00" y1="14.60" x2="196.00" y2="97.20" stroke="#333" stroke-width="0.9" />
<line x1="196.00" y1="97.20" x2="297.60" y2="97.20" stroke="#333" stroke-width="0.9" />
<line x1="198.60" y1="97.20" x2="198.60" y2="94.80" stroke="#555" stroke-width="0.6" />
<line x1="196.00" y1="91.94" x2="197.40" y2="91.94" stroke="#555" stroke-width="0.6" />
<line x1="205.52" y1="97.20" x2="205.52" y2="95.80" stroke="#555" stroke-width="0.6" />
<line x1="196.00" y1="88.63" x2="197.40" y2="88.63" stroke="#555" stroke-width="0.6" />
<line x1="209.57" y1="97.20" x2="209.57" y2="95.80" stroke="#555" stroke-width="0.6" />
<line x1="196.00" y1="86.28" x2="197.40" y2="86.28" stroke="#555" stroke-width="0.6" />
<line x1="212.45" y1="97.20" x2="212.45" y2="95.80" stroke="#555" stroke-width="0.6" />
<line x1="196.00" y1="84.46" x2="197.40" y2="84.46" stroke="#555" stroke-width="0.6" />
<line x1="214.68" y1="97.20" x2="214.68" y2="95.80" stroke="#555" stroke-width="0.6" />
<line x1="196.00" y1="82.97" x2="197.40" y2="82.97" stroke="#555" stroke-width="0.6" />
<line x1="216.50" y1="97.20" x2="216.50" y2="95.80" stroke="#555" stroke-width="0.6" />
<line x1="196.00" y1="81.71" x2="197.40" y2="81.71" stroke="#555" stroke-width="0.6" />
<line x1="218.04" y1="97.20" x2="218.04" y2="95.80" stroke="#555" stroke-width="0.6" />
<line x1="196.00" y1="80.62" x2="197.40" y2="80.62" stroke="#555" stroke-width="0.6" />
<line x1="219.37" y1="97.20" x2="219.37" y2="95.80" stroke="#555" stroke-width="0.6" />
<line x1="196.00" y1="79.66" x2="197.40" y2="79.66" stroke="#555" stroke-width="0.6" />
<line x1="220.55" y1="97.20" x2="220.55" y2="95.80" stroke="#555" stroke-width="0.6" />
<line x1="196.00" y1="78.80" x2="198.40" y2="78.80" stroke="#555" stroke-width="0.6" />
<line x1="221.60" y1="97.20" x2="221.60" y2="94.80" stroke="#555" stroke-width="0.6" />
<line x1="196.00" y1="73.14" x2="197.40" y2="73.14" stroke="#555" stroke-width="0.6" />
<line x1="228.52" y1="97.20" x2="228.52" y2="95.80" stroke="#555" stroke-width="0.6" />
<line x1="196.00" y1="69.83" x2="197.40" y2="69.83" stroke="#555" stroke-width="0.6" />
<line x1="232.57" y1="97.20" x2="232.57" y2="95.80" stroke="#555" stroke-width="0.6" />
<line x1="196.00" y1="67.48" x2="197.40" y2="67.48" stroke="#555" stroke-width="0.6" />
<line x1="235.45" y1="97.20" x2="235.45" y2="95.80" stroke="#555" stroke-width="0.6" />
<line x1="196.00" y1="65.66" x2="197.40" y2="65.66" stroke="#555" stroke-width="0.6" />
<line x1="237.68" y1="97.20" x2="237.68" y2="95.80" stroke="#555" stroke-width="0.6" />
<line x1="196.00" y1="64.17" x2="197.40" y2="64.17" stroke="#555" stroke-width="0.6" />
<line x1="239.50" y1="97.20" x2="239.50" y2="95.80" stroke="#555" stroke-width="0.6" />
<line x1="196.00" y1="62.91" x2="197.40" y2="62.91" stroke="#555" stroke-width="0.6" />
<line x1="241.04" y1="97.20" x2="241.04" y2="95.80" stroke="#555" stroke-width="0.6" />
<line x1="196.00" y1="61.82" x2="197.40" y2="61.82" stroke="#555" stroke-width="0.6" />
<line x1="242.37" y1="97.20" x2="242.37" y2="95.80" stroke="#555" stroke-width="0.6" />
<line x1="196.00" y1="60.86" x2="197.40" y2="60.86" stroke="#555" stroke-width="0.6" />
<line x1="243.55" y1="97.20" x2="243.55" y2="95.80" stroke="#555" stroke-width="0.6" />
<line x1="196.00" y1="60.00" x2="198.40" y2="60.00" stroke="#555" stroke-width="0.6" />
<line x1="244.60" y1="97.20" x2="244.60" y2="94.80" stroke="#555" stroke-width="0.6" />
<line x1="196.00" y1="54.34" x2="197.40" y2="54.34" stroke="#555" stroke-width="0.6" />
<line x1="251.52" y1="97.20" x2="251.52" y2="95.80" stroke="#555" stroke-width="0.6" />
<line x1="196.00" y1="51.03" x2="197.40" y2="51.03" stroke="#555" stroke-width="0.6" />
<line x1="255.57" y1="97.20" x2="255.57" y2="95.80" stroke="#555" stroke-width="0.6" />
<line x1="196.00" y1="48.68" x2="197.40" y2="48.68" stroke="#555" stroke-width="0.6" />
<line x1="258.45" y1="97.20" x2="258.45" y2="95.80" stroke="#555" stroke-width="0.6" />
<line x1="196.00" y1="46.86" x2="197.40" y2="46.86" stroke="#555" stroke-width="0.6" />
<line x1="260.68" y1="97.20" x2="260.68" y2="95.80" stroke="#555" stroke-width="0.6" />
<line x1="196.00" y1="45.37" x2="197.40" y2="45.37" stroke="#555" stroke-width="0.6" />
<line x1="262.50" y1="97.20" x2="262.50" y2="95.80" stroke="#555" stroke-width="0.6" />
<line x1="196.00" y1="44.11" x2="197.40" y2="44.11" stroke="#555" stroke-width="0.6" />
<line x1="264.04" y1="97.20" x2="264.04" y2="95.80" stroke="#555" stroke-width="0.6" />
<line x1="196.00" y1="43.02" x2="197.40" y2="43.02" stroke="#555" stroke-width="0.6" />
<line x1="265.37" y1="97.20" x2="265.37" y2="95.80" stroke="#555" stroke-width="0.6" />
<line x1="196.00" y1="42.06" x2="197.40" y2="42.06" stroke="#555" stroke-width="0.6" />
<line x1="266.55" y1="97.20" x2="266.55" y2="95.80" stroke="#555" stroke-width="0.6" />
<line x1="196.00" y1="41.20" x2="198.40" y2="41.20" stroke="#555" stroke-width="0.6" />
<line x1="267.60" y1="97.20" x2="267.60" y2="94.80" stroke="#555" stroke-width="0.6" />
<line x1="196.00" y1="35.54" x2="197.40" y2="35.54" stroke="#555" stroke-width="0.6" />
<line x1="274.52" y1="97.20" x2="274.52" y2="95.80" stroke="#555" stroke-width="0.6" />
<line x1="196.00" y1="32.23" x2="197.40" y2="32.23" stroke="#555" stroke-width="0.6" />
<line x1="278.57" y1="97.20" x2="278.57" y2="95.80" stroke="#555" stroke-width="0.6" />
<line x1="196.00" y1="29.88" x2="197.40" y2="29.88" stroke="#555" stroke-width="0.6" />
<line x1="281.45" y1="97.20" x2="281.45" y2="95.80" stroke="#555" stroke-width="0.6" />
<line x1="196.00" y1="28.06" x2="197.40" y2="28.06" stroke="#555" stroke-width="0.6" />
<line x1="283.68" y1="97.20" x2="283.68" y2="95.80" stroke="#555" stroke-width="0.6" />
<line x1="196.00" y1="26.57" x2="197.40" y2="26.57" stroke="#555" stroke-width="0.6" />
<line x1="285.50" y1="97.20" x2="285.50" y2="95.80" stroke="#555" stroke-width="0.6" />
<line x1="196.00" y1="25.31" x2="197.40" y2="25.31" stroke="#555" stroke-width="0.6" />
<line x1="287.04" y1="97.20" x2="287.04" y2="95.80" stroke="#555" stroke-width="0.6" />
<line x1="196.00" y1="24.22" x2="197.40" y2="24.22" stroke="#555" stroke-width="0.6" />
<line x1="288.37" y1="97.20" x2="288.37" y2="95.80" stroke="#555" stroke-width="0.6" />
<line x1="196.00" y1="23.26" x2="197.40" y2="23.26" stroke="#555" stroke-width="0.6" />
<line x1="289.55" y1="97.20" x2="289.55" y2="95.80" stroke="#555" stroke-width="0.6" />
<line x1="196.00" y1="22.40" x2="198.40" y2="22.40" stroke="#555" stroke-width="0.6" />
<line x1="290.60" y1="97.20" x2="290.60" y2="94.80" stroke="#555" stroke-width="0.6" />
<text x="194.20" y="26.20" font-size="10.8" fill="#222" stroke="none" text-anchor="end">10<tspan font-size="7" dy="-4.2">2</tspan></text>
<text x="194.20" y="63.90" font-size="10.8" fill="#222" stroke="none" text-anchor="end">10<tspan font-size="7" dy="-4.2">0</tspan></text>
<text x="195.00" y="99.60" font-size="10.8" fill="#222" stroke="none" text-anchor="end">10<tspan font-size="7" dy="-4.2">-2</tspan></text>
<text x="196.0" y="108.6" font-size="10.8" fill="#222" stroke="none">10<tspan font-size="7" dy="-4.2">-2</tspan></text>
<text x="238.0" y="108.6" font-size="10.8" fill="#222" stroke="none">10<tspan font-size="7" dy="-4.2">0</tspan></text>
<text x="285.0" y="108.6" font-size="10.8" fill="#222" stroke="none">10<tspan font-size="7" dy="-4.2">2</tspan></text>
<text x="219.6" y="117.6" font-size="12" fill="#222" stroke="none">τ</text>
<text x="225.6" y="119.8" font-size="7.2" fill="#222" stroke="none" textLength="31.2" lengthAdjust="spacingAndGlyphs">b, median</text>
<text x="258.8" y="119.1" font-size="11.8" fill="#222" stroke="none">(s<tspan font-size="6.2" dy="-4.8">-1</tspan><tspan dy="4.8">)</tspan></text>
<g transform="translate(173.6,91.0) rotate(-90)">
<text x="0" y="0" font-size="12" fill="#222" stroke="none">τ</text>
<text x="6.4" y="2.9" font-size="8" fill="#222" stroke="none" textLength="38.4" lengthAdjust="spacingAndGlyphs">ub, median</text>
<text x="46.4" y="-0.2" font-size="11" fill="#222" stroke="none">(s<tspan font-size="6" dy="-4.4">-1</tspan><tspan dy="4.4">)</tspan></text>
</g>
<rect x="222.8" y="25.8" width="1.5" height="1.5" fill="#eb8a2e"/>
<rect x="222.8" y="28.1" width="1.5" height="1.5" fill="#eb8a2e"/>
<rect x="222.8" y="30.4" width="1.5" height="1.5" fill="#eb8a2e"/>
<rect x="222.8" y="32.6" width="1.5" height="1.5" fill="#eb8a2e"/>
<rect x="222.8" y="34.9" width="1.5" height="1.5" fill="#eb8a2e"/>
<rect x="222.8" y="39.5" width="1.5" height="1.5" fill="#eb8a2e"/>
<rect x="222.8" y="41.8" width="1.5" height="1.5" fill="#eb8a2e"/>
<rect x="222.8" y="46.4" width="1.5" height="1.5" fill="#eb8a2e"/>
<rect x="222.8" y="48.7" width="1.5" height="1.5" fill="#eb8a2e"/>
<rect x="222.8" y="51.0" width="1.5" height="1.5" fill="#eb8a2e"/>
<rect x="225.8" y="22.1" width="1.5" height="1.5" fill="#eb8a2e"/>
<rect x="225.8" y="24.1" width="1.5" height="1.5" fill="#eb8a2e"/>
<rect x="225.8" y="26.1" width="1.5" height="1.5" fill="#eb8a2e"/>
<rect x="225.8" y="30.1" width="1.5" height="1.5" fill="#eb8a2e"/>
<rect x="225.8" y="32.0" width="1.5" height="1.5" fill="#eb8a2e"/>
<rect x="225.8" y="36.0" width="1.5" height="1.5" fill="#eb8a2e"/>
<rect x="225.8" y="40.0" width="1.5" height="1.5" fill="#eb8a2e"/>
<rect x="225.8" y="42.0" width="1.5" height="1.5" fill="#eb8a2e"/>
<rect x="225.8" y="44.0" width="1.5" height="1.5" fill="#eb8a2e"/>
<rect x="225.8" y="46.0" width="1.5" height="1.5" fill="#eb8a2e"/>
<rect x="225.8" y="48.0" width="1.5" height="1.5" fill="#eb8a2e"/>
<rect x="225.8" y="50.0" width="1.5" height="1.5" fill="#eb8a2e"/>
<rect x="225.8" y="56.0" width="1.5" height="1.5" fill="#eb8a2e"/>
<rect x="225.8" y="58.0" width="1.5" height="1.5" fill="#eb8a2e"/>
<rect x="225.8" y="60.0" width="1.5" height="1.5" fill="#eb8a2e"/>
<rect x="228.1" y="22.8" width="1.5" height="1.5" fill="#eb8a2e"/>
<rect x="228.1" y="24.2" width="1.5" height="1.5" fill="#eb8a2e"/>
<rect x="228.1" y="25.8" width="1.5" height="1.5" fill="#eb8a2e"/>
<rect x="228.1" y="27.2" width="1.5" height="1.5" fill="#eb8a2e"/>
<rect x="228.1" y="28.8" width="1.5" height="1.5" fill="#eb8a2e"/>
<rect x="228.1" y="30.2" width="1.5" height="1.5" fill="#eb8a2e"/>
<rect x="228.1" y="31.8" width="1.5" height="1.5" fill="#eb8a2e"/>
<rect x="228.1" y="33.2" width="1.5" height="1.5" fill="#eb8a2e"/>
<rect x="228.1" y="34.8" width="1.5" height="1.5" fill="#eb8a2e"/>
<rect x="228.1" y="36.2" width="1.5" height="1.5" fill="#eb8a2e"/>
<rect x="228.1" y="37.8" width="1.5" height="1.5" fill="#eb8a2e"/>
<rect x="228.1" y="39.2" width="1.5" height="1.5" fill="#eb8a2e"/>
<rect x="228.1" y="40.8" width="1.5" height="1.5" fill="#eb8a2e"/>
<rect x="228.1" y="42.2" width="1.5" height="1.5" fill="#eb8a2e"/>
<rect x="228.1" y="43.8" width="1.5" height="1.5" fill="#eb8a2e"/>
<rect x="228.1" y="45.2" width="1.5" height="1.5" fill="#eb8a2e"/>
<rect x="228.1" y="46.8" width="1.5" height="1.5" fill="#eb8a2e"/>
<rect x="230.7" y="26.8" width="1.5" height="1.5" fill="#eb8a2e"/>
<rect x="230.7" y="31.1" width="1.5" height="1.5" fill="#eb8a2e"/>
<rect x="230.7" y="33.4" width="1.5" height="1.5" fill="#eb8a2e"/>
<rect x="230.7" y="40.0" width="1.5" height="1.5" fill="#eb8a2e"/>
<rect x="230.7" y="42.2" width="1.5" height="1.5" fill="#eb8a2e"/>
<rect x="230.7" y="44.4" width="1.5" height="1.5" fill="#eb8a2e"/>
<rect x="230.7" y="46.6" width="1.5" height="1.5" fill="#eb8a2e"/>
<rect x="230.7" y="48.8" width="1.5" height="1.5" fill="#eb8a2e"/>
<rect x="233.8" y="33.8" width="1.5" height="1.5" fill="#eb8a2e"/>
<rect x="233.8" y="35.8" width="1.5" height="1.5" fill="#eb8a2e"/>
<rect x="233.8" y="39.8" width="1.5" height="1.5" fill="#eb8a2e"/>
<rect x="233.8" y="41.8" width="1.5" height="1.5" fill="#eb8a2e"/>
<rect x="233.8" y="43.8" width="1.5" height="1.5" fill="#eb8a2e"/>
<rect x="233.8" y="47.8" width="1.5" height="1.5" fill="#eb8a2e"/>
<rect x="233.8" y="51.8" width="1.5" height="1.5" fill="#eb8a2e"/>
<rect x="233.8" y="53.8" width="1.5" height="1.5" fill="#eb8a2e"/>
<rect x="233.8" y="55.8" width="1.5" height="1.5" fill="#eb8a2e"/>
<rect x="236.2" y="29.2" width="1.5" height="1.5" fill="#eb8a2e"/>
<rect x="236.2" y="38.8" width="1.5" height="1.5" fill="#eb8a2e"/>
<rect x="236.2" y="41.2" width="1.5" height="1.5" fill="#eb8a2e"/>
<rect x="236.2" y="43.6" width="1.5" height="1.5" fill="#eb8a2e"/>
<rect x="236.2" y="50.8" width="1.5" height="1.5" fill="#eb8a2e"/>
<rect x="236.2" y="53.2" width="1.5" height="1.5" fill="#eb8a2e"/>
<rect x="226.00" y="27.40" width="5.00" height="1.20" fill="#eb8a2e" />
<rect x="226.50" y="40.80" width="4.00" height="1.20" fill="#eb8a2e" />
<rect x="226.50" y="47.00" width="4.00" height="1.20" fill="#eb8a2e" />
<rect x="246.6" y="30.0" width="1.3" height="1.3" fill="#96f06c"/>
<rect x="253.7" y="47.2" width="1.3" height="1.3" fill="#96f06c"/>
<rect x="256.6" y="41.9" width="1.3" height="1.3" fill="#96f06c"/>
<rect x="274.4" y="57.8" width="1.3" height="1.3" fill="#96f06c"/>
<rect x="273.1" y="40.7" width="1.3" height="1.3" fill="#96f06c"/>
<rect x="265.1" y="47.4" width="1.3" height="1.3" fill="#96f06c"/>
<rect x="247.1" y="57.1" width="1.3" height="1.3" fill="#96f06c"/>
<rect x="265.2" y="44.8" width="1.3" height="1.3" fill="#96f06c"/>
<rect x="281.2" y="56.0" width="1.3" height="1.3" fill="#96f06c"/>
<rect x="274.5" y="59.9" width="1.3" height="1.3" fill="#96f06c"/>
<rect x="272.8" y="37.7" width="1.3" height="1.3" fill="#96f06c"/>
<rect x="259.5" y="58.2" width="1.3" height="1.3" fill="#96f06c"/>
<rect x="255.0" y="49.5" width="1.3" height="1.3" fill="#96f06c"/>
<rect x="268.9" y="62.1" width="1.3" height="1.3" fill="#96f06c"/>
<rect x="279.8" y="57.2" width="1.3" height="1.3" fill="#96f06c"/>
<rect x="261.9" y="57.4" width="1.3" height="1.3" fill="#96f06c"/>
<rect x="270.5" y="47.7" width="1.3" height="1.3" fill="#96f06c"/>
<rect x="280.5" y="53.6" width="1.3" height="1.3" fill="#96f06c"/>
<rect x="255.1" y="60.5" width="1.3" height="1.3" fill="#96f06c"/>
<rect x="261.1" y="54.5" width="1.3" height="1.3" fill="#96f06c"/>
<rect x="245.9" y="48.9" width="1.3" height="1.3" fill="#96f06c"/>
<rect x="252.8" y="40.4" width="1.3" height="1.3" fill="#96f06c"/>
<rect x="262.3" y="51.2" width="1.3" height="1.3" fill="#96f06c"/>
<rect x="277.4" y="48.0" width="1.3" height="1.3" fill="#96f06c"/>
<rect x="270.3" y="36.9" width="1.3" height="1.3" fill="#96f06c"/>
<rect x="266.5" y="45.4" width="1.3" height="1.3" fill="#96f06c"/>
<rect x="270.1" y="50.7" width="1.3" height="1.3" fill="#96f06c"/>
<rect x="247.5" y="32.4" width="1.3" height="1.3" fill="#96f06c"/>
<rect x="251.9" y="55.7" width="1.3" height="1.3" fill="#96f06c"/>
<rect x="269.2" y="52.7" width="1.3" height="1.3" fill="#96f06c"/>
<rect x="256.6" y="46.1" width="1.3" height="1.3" fill="#96f06c"/>
<rect x="256.8" y="52.2" width="1.3" height="1.3" fill="#96f06c"/>
<rect x="262.0" y="38.4" width="1.3" height="1.3" fill="#96f06c"/>
<rect x="253.5" y="50.3" width="1.3" height="1.3" fill="#96f06c"/>
<rect x="264.9" y="48.4" width="1.3" height="1.3" fill="#96f06c"/>
<rect x="291.3" y="46.7" width="1.3" height="1.3" fill="#96f06c"/>
<rect x="265.5" y="40.1" width="1.3" height="1.3" fill="#96f06c"/>
<rect x="259.7" y="53.7" width="1.3" height="1.3" fill="#96f06c"/>
<rect x="270.8" y="47.6" width="1.3" height="1.3" fill="#96f06c"/>
<rect x="268.8" y="49.5" width="1.3" height="1.3" fill="#96f06c"/>
<rect x="291.7" y="56.5" width="1.3" height="1.3" fill="#96f06c"/>
<rect x="263.3" y="33.4" width="1.3" height="1.3" fill="#96f06c"/>
<rect x="248.7" y="61.2" width="1.3" height="1.3" fill="#96f06c"/>
<rect x="274.4" y="50.3" width="1.3" height="1.3" fill="#96f06c"/>
<rect x="273.1" y="47.8" width="1.3" height="1.3" fill="#96f06c"/>
<rect x="247.7" y="51.5" width="1.3" height="1.3" fill="#96f06c"/>
<rect x="281.2" y="48.5" width="1.3" height="1.3" fill="#96f06c"/>
<rect x="276.6" y="44.2" width="1.3" height="1.3" fill="#96f06c"/>
<rect x="249.8" y="61.6" width="1.3" height="1.3" fill="#96f06c"/>
<rect x="282.8" y="62.8" width="1.3" height="1.3" fill="#96f06c"/>
<rect x="258.7" y="38.6" width="1.3" height="1.3" fill="#96f06c"/>
<rect x="250.0" y="47.0" width="1.3" height="1.3" fill="#96f06c"/>
<rect x="271.0" y="53.6" width="1.3" height="1.3" fill="#96f06c"/>
<rect x="246.8" y="50.8" width="1.3" height="1.3" fill="#96f06c"/>
<rect x="264.2" y="49.8" width="1.3" height="1.3" fill="#96f06c"/>
<rect x="263.7" y="47.2" width="1.3" height="1.3" fill="#96f06c"/>
<rect x="271.1" y="50.1" width="1.3" height="1.3" fill="#96f06c"/>
<rect x="266.7" y="42.8" width="1.3" height="1.3" fill="#96f06c"/>
<rect x="268.7" y="47.9" width="1.3" height="1.3" fill="#96f06c"/>
<rect x="260.8" y="57.3" width="1.3" height="1.3" fill="#96f06c"/>
<rect x="262.1" y="48.1" width="1.3" height="1.3" fill="#96f06c"/>
<rect x="266.5" y="48.9" width="1.3" height="1.3" fill="#96f06c"/>
<rect x="258.6" y="32.9" width="1.3" height="1.3" fill="#96f06c"/>
<rect x="286.1" y="34.8" width="1.3" height="1.3" fill="#96f06c"/>
<rect x="259.9" y="54.9" width="1.3" height="1.3" fill="#96f06c"/>
<rect x="268.6" y="54.1" width="1.3" height="1.3" fill="#96f06c"/>
<rect x="273.2" y="60.4" width="1.3" height="1.3" fill="#96f06c"/>
<rect x="251.8" y="51.0" width="1.3" height="1.3" fill="#96f06c"/>
<rect x="259.7" y="44.1" width="1.3" height="1.3" fill="#96f06c"/>
<rect x="267.4" y="62.1" width="1.3" height="1.3" fill="#96f06c"/>
<rect x="255.5" y="42.6" width="1.3" height="1.3" fill="#96f06c"/>
<rect x="272.7" y="53.9" width="1.3" height="1.3" fill="#96f06c"/>
<rect x="287.5" y="58.3" width="1.3" height="1.3" fill="#96f06c"/>
<rect x="266.8" y="46.0" width="1.3" height="1.3" fill="#96f06c"/>
<rect x="266.6" y="47.4" width="1.3" height="1.3" fill="#96f06c"/>
<rect x="247.6" y="49.1" width="1.3" height="1.3" fill="#96f06c"/>
<rect x="261.9" y="46.9" width="1.3" height="1.3" fill="#96f06c"/>
<rect x="258.8" y="64.2" width="1.3" height="1.3" fill="#96f06c"/>
<rect x="272.4" y="57.4" width="1.3" height="1.3" fill="#96f06c"/>
<rect x="256.7" y="39.8" width="1.3" height="1.3" fill="#96f06c"/>
<rect x="260.6" y="51.2" width="1.3" height="1.3" fill="#96f06c"/>
<rect x="259.9" y="47.3" width="1.3" height="1.3" fill="#96f06c"/>
<rect x="275.5" y="51.7" width="1.3" height="1.3" fill="#96f06c"/>
<rect x="252.2" y="45.1" width="1.3" height="1.3" fill="#96f06c"/>
<rect x="256.1" y="50.6" width="1.3" height="1.3" fill="#96f06c"/>
<rect x="250.0" y="47.4" width="1.3" height="1.3" fill="#96f06c"/>
<rect x="272.3" y="49.3" width="1.3" height="1.3" fill="#96f06c"/>
<rect x="253.0" y="43.5" width="1.3" height="1.3" fill="#96f06c"/>
<rect x="265.5" y="53.3" width="1.3" height="1.3" fill="#96f06c"/>
<rect x="274.0" y="47.7" width="1.3" height="1.3" fill="#96f06c"/>
<rect x="248.2" y="61.8" width="1.3" height="1.3" fill="#96f06c"/>
<rect x="267.6" y="52.7" width="1.3" height="1.3" fill="#96f06c"/>
<rect x="267.7" y="39.7" width="1.3" height="1.3" fill="#96f06c"/>
<rect x="260.2" y="51.3" width="1.3" height="1.3" fill="#96f06c"/>
<rect x="276.4" y="49.5" width="1.3" height="1.3" fill="#96f06c"/>
<rect x="268.2" y="60.6" width="1.3" height="1.3" fill="#96f06c"/>
<rect x="281.1" y="61.1" width="1.3" height="1.3" fill="#96f06c"/>
<rect x="275.3" y="36.6" width="1.3" height="1.3" fill="#96f06c"/>
<rect x="274.2" y="54.4" width="1.3" height="1.3" fill="#96f06c"/>
<rect x="257.7" y="54.3" width="1.3" height="1.3" fill="#96f06c"/>
<rect x="269.0" y="44.8" width="1.3" height="1.3" fill="#96f06c"/>
<rect x="262.5" y="46.6" width="1.3" height="1.3" fill="#96f06c"/>
<rect x="266.8" y="45.2" width="1.3" height="1.3" fill="#96f06c"/>
<rect x="270.5" y="31.7" width="1.3" height="1.3" fill="#96f06c"/>
<rect x="260.6" y="33.8" width="1.3" height="1.3" fill="#96f06c"/>
<rect x="258.2" y="53.7" width="1.3" height="1.3" fill="#96f06c"/>
<rect x="264.3" y="48.0" width="1.3" height="1.3" fill="#96f06c"/>
<rect x="264.8" y="63.1" width="1.3" height="1.3" fill="#96f06c"/>
<rect x="250.7" y="57.0" width="1.3" height="1.3" fill="#96f06c"/>
<rect x="245.8" y="44.8" width="1.3" height="1.3" fill="#96f06c"/>
<rect x="266.0" y="41.3" width="1.3" height="1.3" fill="#96f06c"/>
<rect x="266.5" y="55.6" width="1.3" height="1.3" fill="#96f06c"/>
<rect x="249.7" y="48.3" width="1.3" height="1.3" fill="#96f06c"/>
<rect x="259.5" y="31.5" width="1.3" height="1.3" fill="#96f06c"/>
<rect x="261.8" y="41.8" width="1.3" height="1.3" fill="#96f06c"/>
<rect x="280.1" y="41.1" width="1.3" height="1.3" fill="#96f06c"/>
<rect x="284.4" y="44.2" width="1.3" height="1.3" fill="#96f06c"/>
<rect x="287.3" y="53.9" width="1.3" height="1.3" fill="#96f06c"/>
<rect x="269.4" y="56.3" width="1.3" height="1.3" fill="#96f06c"/>
<rect x="274.8" y="61.6" width="1.3" height="1.3" fill="#96f06c"/>
<rect x="284.8" y="45.9" width="1.3" height="1.3" fill="#96f06c"/>
<rect x="259.4" y="55.8" width="1.3" height="1.3" fill="#96f06c"/>
<rect x="268.5" y="50.0" width="1.3" height="1.3" fill="#96f06c"/>
<rect x="259.8" y="43.2" width="1.3" height="1.3" fill="#96f06c"/>
<rect x="260.6" y="52.5" width="1.3" height="1.3" fill="#96f06c"/>
<rect x="242.8" y="55.6" width="1.3" height="1.3" fill="#96f06c"/>
<rect x="246.5" y="47.6" width="1.3" height="1.3" fill="#96f06c"/>
<rect x="256.4" y="45.7" width="1.3" height="1.3" fill="#96f06c"/>
<rect x="251.4" y="38.6" width="1.3" height="1.3" fill="#96f06c"/>
<rect x="261.2" y="39.2" width="1.3" height="1.3" fill="#96f06c"/>
<rect x="256.1" y="44.0" width="1.3" height="1.3" fill="#96f06c"/>
<rect x="260.8" y="51.7" width="1.3" height="1.3" fill="#96f06c"/>
<rect x="245.9" y="49.0" width="1.3" height="1.3" fill="#96f06c"/>
<rect x="249.4" y="48.6" width="1.3" height="1.3" fill="#96f06c"/>
<rect x="268.2" y="53.3" width="1.3" height="1.3" fill="#96f06c"/>
<rect x="269.1" y="42.6" width="1.3" height="1.3" fill="#96f06c"/>
<rect x="274.5" y="44.9" width="1.3" height="1.3" fill="#96f06c"/>
<rect x="268.1" y="55.3" width="1.3" height="1.3" fill="#96f06c"/>
<rect x="260.3" y="37.4" width="1.3" height="1.3" fill="#96f06c"/>
<rect x="271.3" y="38.9" width="1.3" height="1.3" fill="#96f06c"/>
<rect x="253.2" y="39.0" width="1.3" height="1.3" fill="#96f06c"/>
<rect x="274.0" y="47.5" width="1.3" height="1.3" fill="#96f06c"/>
<rect x="288.7" y="65.1" width="1.3" height="1.3" fill="#96f06c"/>
<rect x="257.1" y="49.6" width="1.3" height="1.3" fill="#96f06c"/>
<rect x="270.0" y="57.0" width="1.3" height="1.3" fill="#96f06c"/>
<rect x="264.3" y="39.1" width="1.3" height="1.3" fill="#96f06c"/>
<rect x="272.9" y="54.4" width="1.3" height="1.3" fill="#96f06c"/>
<rect x="247.9" y="45.6" width="1.3" height="1.3" fill="#96f06c"/>
<rect x="267.1" y="48.9" width="1.3" height="1.3" fill="#96f06c"/>
<rect x="270.2" y="56.1" width="1.3" height="1.3" fill="#96f06c"/>
<rect x="270.4" y="47.9" width="1.3" height="1.3" fill="#96f06c"/>
<rect x="247.7" y="54.4" width="1.3" height="1.3" fill="#96f06c"/>
<rect x="280.7" y="66.7" width="1.3" height="1.3" fill="#96f06c"/>
<rect x="263.5" y="48.6" width="1.3" height="1.3" fill="#96f06c"/>
<rect x="281.2" y="61.8" width="1.3" height="1.3" fill="#96f06c"/>
<rect x="267.9" y="55.3" width="1.3" height="1.3" fill="#96f06c"/>
<rect x="254.7" y="54.1" width="1.3" height="1.3" fill="#96f06c"/>
<rect x="253.9" y="47.6" width="1.3" height="1.3" fill="#96f06c"/>
<rect x="262.4" y="44.7" width="1.3" height="1.3" fill="#96f06c"/>
<rect x="267.8" y="48.3" width="1.3" height="1.3" fill="#96f06c"/>
<rect x="259.1" y="52.7" width="1.3" height="1.3" fill="#96f06c"/>
<rect x="272.1" y="56.5" width="1.3" height="1.3" fill="#96f06c"/>
<rect x="254.1" y="49.1" width="1.3" height="1.3" fill="#96f06c"/>
<rect x="259.8" y="41.0" width="1.3" height="1.3" fill="#96f06c"/>
<rect x="245.8" y="48.0" width="1.3" height="1.3" fill="#96f06c"/>
<rect x="262.6" y="46.8" width="1.3" height="1.3" fill="#96f06c"/>
<rect x="259.0" y="65.7" width="1.3" height="1.3" fill="#96f06c"/>
<rect x="252.5" y="47.4" width="1.3" height="1.3" fill="#96f06c"/>
<rect x="254.6" y="47.7" width="1.3" height="1.3" fill="#96f06c"/>
<rect x="263.4" y="58.7" width="1.3" height="1.3" fill="#96f06c"/>
<rect x="246.8" y="48.7" width="1.3" height="1.3" fill="#96f06c"/>
<rect x="283.2" y="44.3" width="1.3" height="1.3" fill="#96f06c"/>
<rect x="261.7" y="40.9" width="1.3" height="1.3" fill="#96f06c"/>
<rect x="277.9" y="44.6" width="1.3" height="1.3" fill="#96f06c"/>
<rect x="264.7" y="57.9" width="1.3" height="1.3" fill="#96f06c"/>
<rect x="274.7" y="46.4" width="1.3" height="1.3" fill="#96f06c"/>
<rect x="268.6" y="32.7" width="1.3" height="1.3" fill="#96f06c"/>
<rect x="277.2" y="50.5" width="1.3" height="1.3" fill="#96f06c"/>
<rect x="276.8" y="58.4" width="1.3" height="1.3" fill="#96f06c"/>
<rect x="260.3" y="47.5" width="1.3" height="1.3" fill="#96f06c"/>
<rect x="253.3" y="30.2" width="1.3" height="1.3" fill="#96f06c"/>
<rect x="262.2" y="50.2" width="1.3" height="1.3" fill="#96f06c"/>
<rect x="250.8" y="55.3" width="1.3" height="1.3" fill="#96f06c"/>
<rect x="265.0" y="52.9" width="1.3" height="1.3" fill="#96f06c"/>
<rect x="254.6" y="33.0" width="1.3" height="1.3" fill="#96f06c"/>
<rect x="273.1" y="54.3" width="1.3" height="1.3" fill="#96f06c"/>
<rect x="262.5" y="45.1" width="1.3" height="1.3" fill="#96f06c"/>
<rect x="260.5" y="47.6" width="1.3" height="1.3" fill="#96f06c"/>
<rect x="257.7" y="30.7" width="1.3" height="1.3" fill="#96f06c"/>
<rect x="273.2" y="35.4" width="1.3" height="1.3" fill="#96f06c"/>
<rect x="259.8" y="46.1" width="1.3" height="1.3" fill="#96f06c"/>
<rect x="266.9" y="34.3" width="1.3" height="1.3" fill="#96f06c"/>
<rect x="278.3" y="54.8" width="1.3" height="1.3" fill="#96f06c"/>
<rect x="273.1" y="60.3" width="1.3" height="1.3" fill="#96f06c"/>
<rect x="267.8" y="60.7" width="1.3" height="1.3" fill="#96f06c"/>
<rect x="277.8" y="44.1" width="1.3" height="1.3" fill="#96f06c"/>
<rect x="262.8" y="51.5" width="1.3" height="1.3" fill="#96f06c"/>
<rect x="256.3" y="63.2" width="1.3" height="1.3" fill="#96f06c"/>
<rect x="256.1" y="63.1" width="1.3" height="1.3" fill="#96f06c"/>
<rect x="264.1" y="33.9" width="1.3" height="1.3" fill="#96f06c"/>
<rect x="290.6" y="40.2" width="1.3" height="1.3" fill="#96f06c"/>
<rect x="271.4" y="64.4" width="1.3" height="1.3" fill="#96f06c"/>
<rect x="257.6" y="37.9" width="1.3" height="1.3" fill="#96f06c"/>
<rect x="276.5" y="49.6" width="1.3" height="1.3" fill="#96f06c"/>
<rect x="249.3" y="39.3" width="1.3" height="1.3" fill="#96f06c"/>
<rect x="259.3" y="57.7" width="1.3" height="1.3" fill="#96f06c"/>
<rect x="260.6" y="54.9" width="1.3" height="1.3" fill="#96f06c"/>
<rect x="283.8" y="60.4" width="1.3" height="1.3" fill="#96f06c"/>
<rect x="281.3" y="60.1" width="1.3" height="1.3" fill="#96f06c"/>
<rect x="244.7" y="60.0" width="1.3" height="1.3" fill="#96f06c"/>
<rect x="267.9" y="47.9" width="1.3" height="1.3" fill="#96f06c"/>
<rect x="251.0" y="34.7" width="1.3" height="1.3" fill="#96f06c"/>
<rect x="250.7" y="48.8" width="1.3" height="1.3" fill="#96f06c"/>
<rect x="249.9" y="41.7" width="1.3" height="1.3" fill="#96f06c"/>
<rect x="256.6" y="55.0" width="1.3" height="1.3" fill="#96f06c"/>
<rect x="260.5" y="47.7" width="1.3" height="1.3" fill="#96f06c"/>
<rect x="279.9" y="46.1" width="1.3" height="1.3" fill="#96f06c"/>
<rect x="271.2" y="39.5" width="1.3" height="1.3" fill="#96f06c"/>
<rect x="267.9" y="50.1" width="1.3" height="1.3" fill="#96f06c"/>
<rect x="266.1" y="44.8" width="1.3" height="1.3" fill="#96f06c"/>
<rect x="251.6" y="46.3" width="1.3" height="1.3" fill="#96f06c"/>
<rect x="258.4" y="58.3" width="1.3" height="1.3" fill="#96f06c"/>
<rect x="274.9" y="38.2" width="1.3" height="1.3" fill="#96f06c"/>
<rect x="271.5" y="44.7" width="1.3" height="1.3" fill="#96f06c"/>
<rect x="269.5" y="44.7" width="1.3" height="1.3" fill="#96f06c"/>
<rect x="246.3" y="58.1" width="1.3" height="1.3" fill="#96f06c"/>
<rect x="269.4" y="38.0" width="1.3" height="1.3" fill="#96f06c"/>
<rect x="249.8" y="45.7" width="1.3" height="1.3" fill="#96f06c"/>
<rect x="271.4" y="62.2" width="1.3" height="1.3" fill="#96f06c"/>
<rect x="259.7" y="61.4" width="1.3" height="1.3" fill="#96f06c"/>
<rect x="278.0" y="45.1" width="1.3" height="1.3" fill="#96f06c"/>
<rect x="244.0" y="56.7" width="1.3" height="1.3" fill="#96f06c"/>
<rect x="281.2" y="56.1" width="1.3" height="1.3" fill="#96f06c"/>
<rect x="284.3" y="39.6" width="1.3" height="1.3" fill="#96f06c"/>
<rect x="266.4" y="46.6" width="1.3" height="1.3" fill="#96f06c"/>
<rect x="285.0" y="54.1" width="1.3" height="1.3" fill="#96f06c"/>
<rect x="253.2" y="56.1" width="1.3" height="1.3" fill="#96f06c"/>
<rect x="258.4" y="51.3" width="1.3" height="1.3" fill="#96f06c"/>
<rect x="267.9" y="41.2" width="1.3" height="1.3" fill="#52ea22"/>
<rect x="256.9" y="42.9" width="1.3" height="1.3" fill="#52ea22"/>
<rect x="260.7" y="59.3" width="1.3" height="1.3" fill="#52ea22"/>
<rect x="272.8" y="40.2" width="1.3" height="1.3" fill="#52ea22"/>
<rect x="255.1" y="54.6" width="1.3" height="1.3" fill="#52ea22"/>
<rect x="269.7" y="52.9" width="1.3" height="1.3" fill="#52ea22"/>
<rect x="253.9" y="52.2" width="1.3" height="1.3" fill="#52ea22"/>
<rect x="258.9" y="49.3" width="1.3" height="1.3" fill="#52ea22"/>
<rect x="254.0" y="52.7" width="1.3" height="1.3" fill="#52ea22"/>
<rect x="261.1" y="50.0" width="1.3" height="1.3" fill="#52ea22"/>
<rect x="257.5" y="43.0" width="1.3" height="1.3" fill="#52ea22"/>
<rect x="255.7" y="57.5" width="1.3" height="1.3" fill="#52ea22"/>
<rect x="257.7" y="42.1" width="1.3" height="1.3" fill="#52ea22"/>
<rect x="268.1" y="53.6" width="1.3" height="1.3" fill="#52ea22"/>
<rect x="273.3" y="50.9" width="1.3" height="1.3" fill="#52ea22"/>
<rect x="255.9" y="42.1" width="1.3" height="1.3" fill="#52ea22"/>
<rect x="268.0" y="65.4" width="1.3" height="1.3" fill="#52ea22"/>
<rect x="253.4" y="46.7" width="1.3" height="1.3" fill="#52ea22"/>
<rect x="263.1" y="45.7" width="1.3" height="1.3" fill="#52ea22"/>
<rect x="257.2" y="48.5" width="1.3" height="1.3" fill="#52ea22"/>
<rect x="260.3" y="56.8" width="1.3" height="1.3" fill="#52ea22"/>
<rect x="259.2" y="55.8" width="1.3" height="1.3" fill="#52ea22"/>
<rect x="256.1" y="52.4" width="1.3" height="1.3" fill="#52ea22"/>
<rect x="244.5" y="42.1" width="1.3" height="1.3" fill="#52ea22"/>
<rect x="264.4" y="47.1" width="1.3" height="1.3" fill="#52ea22"/>
<rect x="262.9" y="53.6" width="1.3" height="1.3" fill="#52ea22"/>
<rect x="268.0" y="55.2" width="1.3" height="1.3" fill="#52ea22"/>
<rect x="265.9" y="49.9" width="1.3" height="1.3" fill="#52ea22"/>
<rect x="254.3" y="46.3" width="1.3" height="1.3" fill="#52ea22"/>
<rect x="255.7" y="43.9" width="1.3" height="1.3" fill="#52ea22"/>
<rect x="255.3" y="50.0" width="1.3" height="1.3" fill="#52ea22"/>
<rect x="260.7" y="48.5" width="1.3" height="1.3" fill="#52ea22"/>
<rect x="245.9" y="50.1" width="1.3" height="1.3" fill="#52ea22"/>
<rect x="260.5" y="56.8" width="1.3" height="1.3" fill="#52ea22"/>
<rect x="262.9" y="46.8" width="1.3" height="1.3" fill="#52ea22"/>
<rect x="254.1" y="62.2" width="1.3" height="1.3" fill="#52ea22"/>
<rect x="264.1" y="61.1" width="1.3" height="1.3" fill="#52ea22"/>
<rect x="273.5" y="45.8" width="1.3" height="1.3" fill="#52ea22"/>
<rect x="261.6" y="53.2" width="1.3" height="1.3" fill="#52ea22"/>
<rect x="262.8" y="53.6" width="1.3" height="1.3" fill="#52ea22"/>
<rect x="260.4" y="51.5" width="1.3" height="1.3" fill="#52ea22"/>
<rect x="248.8" y="49.5" width="1.3" height="1.3" fill="#52ea22"/>
<rect x="253.9" y="51.2" width="1.3" height="1.3" fill="#52ea22"/>
<rect x="255.8" y="54.1" width="1.3" height="1.3" fill="#52ea22"/>
<rect x="264.6" y="52.3" width="1.3" height="1.3" fill="#52ea22"/>
<rect x="261.1" y="51.0" width="1.3" height="1.3" fill="#52ea22"/>
<rect x="256.0" y="49.5" width="1.3" height="1.3" fill="#52ea22"/>
<rect x="255.6" y="52.8" width="1.3" height="1.3" fill="#52ea22"/>
<rect x="259.1" y="53.9" width="1.3" height="1.3" fill="#52ea22"/>
<rect x="250.0" y="55.6" width="1.3" height="1.3" fill="#52ea22"/>
<rect x="253.8" y="46.2" width="1.3" height="1.3" fill="#52ea22"/>
<rect x="257.7" y="47.2" width="1.3" height="1.3" fill="#52ea22"/>
<rect x="261.0" y="47.2" width="1.3" height="1.3" fill="#52ea22"/>
<rect x="251.7" y="45.6" width="1.3" height="1.3" fill="#52ea22"/>
<rect x="267.9" y="50.8" width="1.3" height="1.3" fill="#52ea22"/>
<rect x="251.1" y="50.5" width="1.3" height="1.3" fill="#52ea22"/>
<rect x="248.4" y="60.9" width="1.3" height="1.3" fill="#52ea22"/>
<rect x="248.6" y="53.3" width="1.3" height="1.3" fill="#52ea22"/>
<rect x="262.7" y="42.1" width="1.3" height="1.3" fill="#52ea22"/>
<rect x="261.0" y="56.3" width="1.3" height="1.3" fill="#52ea22"/>
<rect x="262.2" y="52.0" width="1.3" height="1.3" fill="#52ea22"/>
<rect x="265.5" y="51.4" width="1.3" height="1.3" fill="#52ea22"/>
<rect x="261.3" y="49.8" width="1.3" height="1.3" fill="#52ea22"/>
<rect x="263.3" y="45.0" width="1.3" height="1.3" fill="#52ea22"/>
<rect x="264.4" y="47.6" width="1.3" height="1.3" fill="#52ea22"/>
<rect x="251.6" y="52.6" width="1.3" height="1.3" fill="#52ea22"/>
<rect x="270.5" y="56.1" width="1.3" height="1.3" fill="#52ea22"/>
<rect x="255.5" y="54.5" width="1.3" height="1.3" fill="#52ea22"/>
<rect x="255.9" y="49.8" width="1.3" height="1.3" fill="#52ea22"/>
<rect x="259.6" y="37.1" width="1.3" height="1.3" fill="#52ea22"/>
<rect x="260.3" y="44.5" width="1.3" height="1.3" fill="#52ea22"/>
<rect x="254.3" y="41.9" width="1.3" height="1.3" fill="#52ea22"/>
<rect x="248.7" y="45.0" width="1.3" height="1.3" fill="#52ea22"/>
<rect x="264.6" y="60.2" width="1.3" height="1.3" fill="#52ea22"/>
<rect x="258.8" y="56.8" width="1.3" height="1.3" fill="#52ea22"/>
<rect x="257.2" y="39.4" width="1.3" height="1.3" fill="#52ea22"/>
<rect x="260.0" y="53.1" width="1.3" height="1.3" fill="#52ea22"/>
<rect x="256.1" y="52.3" width="1.3" height="1.3" fill="#52ea22"/>
<rect x="262.9" y="45.5" width="1.3" height="1.3" fill="#52ea22"/>
<rect x="249.0" y="49.2" width="1.3" height="1.3" fill="#52ea22"/>
<rect x="257.6" y="48.5" width="1.3" height="1.3" fill="#52ea22"/>
<rect x="265.7" y="60.5" width="1.3" height="1.3" fill="#52ea22"/>
<rect x="256.2" y="54.6" width="1.3" height="1.3" fill="#52ea22"/>
<rect x="265.4" y="54.6" width="1.3" height="1.3" fill="#52ea22"/>
<rect x="266.1" y="48.2" width="1.3" height="1.3" fill="#52ea22"/>
<rect x="264.0" y="62.2" width="1.3" height="1.3" fill="#52ea22"/>
<rect x="264.5" y="46.9" width="1.3" height="1.3" fill="#52ea22"/>
<rect x="263.1" y="57.8" width="1.3" height="1.3" fill="#52ea22"/>
<rect x="261.5" y="47.2" width="1.3" height="1.3" fill="#52ea22"/>
<rect x="269.5" y="43.3" width="1.3" height="1.3" fill="#52ea22"/>
<rect x="262.4" y="50.4" width="1.3" height="1.3" fill="#52ea22"/>
<rect x="250.9" y="57.6" width="1.3" height="1.3" fill="#52ea22"/>
<rect x="261.4" y="43.7" width="1.3" height="1.3" fill="#52ea22"/>
<rect x="263.1" y="48.0" width="1.3" height="1.3" fill="#52ea22"/>
<rect x="246.1" y="46.5" width="1.3" height="1.3" fill="#52ea22"/>
<rect x="260.8" y="54.2" width="1.3" height="1.3" fill="#52ea22"/>
<rect x="260.1" y="50.8" width="1.3" height="1.3" fill="#52ea22"/>
<rect x="262.2" y="49.3" width="1.3" height="1.3" fill="#52ea22"/>
<rect x="267.0" y="51.4" width="1.3" height="1.3" fill="#52ea22"/>
<rect x="261.0" y="53.6" width="1.3" height="1.3" fill="#52ea22"/>
<rect x="251.8" y="46.4" width="1.3" height="1.3" fill="#52ea22"/>
<rect x="269.4" y="52.4" width="1.3" height="1.3" fill="#52ea22"/>
<rect x="257.1" y="52.5" width="1.3" height="1.3" fill="#52ea22"/>
<rect x="255.7" y="52.1" width="1.3" height="1.3" fill="#52ea22"/>
<rect x="254.5" y="52.1" width="1.3" height="1.3" fill="#52ea22"/>
<rect x="248.3" y="58.2" width="1.3" height="1.3" fill="#52ea22"/>
<rect x="255.5" y="41.3" width="1.3" height="1.3" fill="#52ea22"/>
<rect x="257.5" y="48.3" width="1.3" height="1.3" fill="#52ea22"/>
<rect x="260.0" y="43.9" width="1.3" height="1.3" fill="#52ea22"/>
<rect x="250.3" y="52.5" width="1.3" height="1.3" fill="#52ea22"/>
<rect x="256.9" y="51.6" width="1.3" height="1.3" fill="#52ea22"/>
<rect x="246.7" y="43.8" width="1.3" height="1.3" fill="#52ea22"/>
<rect x="262.1" y="50.3" width="1.3" height="1.3" fill="#52ea22"/>
<rect x="270.1" y="46.4" width="1.3" height="1.3" fill="#52ea22"/>
<rect x="253.8" y="45.3" width="1.3" height="1.3" fill="#52ea22"/>
<rect x="258.8" y="50.2" width="1.3" height="1.3" fill="#52ea22"/>
<rect x="264.7" y="51.3" width="1.3" height="1.3" fill="#52ea22"/>
<rect x="253.9" y="51.7" width="1.3" height="1.3" fill="#52ea22"/>
<rect x="276.9" y="57.9" width="1.3" height="1.3" fill="#52ea22"/>
<rect x="253.0" y="54.1" width="1.3" height="1.3" fill="#52ea22"/>
<rect x="257.8" y="61.7" width="1.3" height="1.3" fill="#52ea22"/>
<rect x="265.3" y="55.7" width="1.3" height="1.3" fill="#52ea22"/>
<rect x="260.3" y="50.3" width="1.3" height="1.3" fill="#52ea22"/>
<rect x="261.3" y="58.0" width="1.3" height="1.3" fill="#52ea22"/>
<rect x="262.6" y="48.5" width="1.3" height="1.3" fill="#52ea22"/>
<rect x="267.7" y="51.6" width="1.3" height="1.3" fill="#52ea22"/>
<rect x="258.5" y="45.9" width="1.3" height="1.3" fill="#52ea22"/>
<rect x="255.2" y="46.8" width="1.3" height="1.3" fill="#52ea22"/>
<rect x="262.9" y="49.3" width="1.3" height="1.3" fill="#52ea22"/>
<rect x="266.1" y="53.0" width="1.3" height="1.3" fill="#52ea22"/>
<rect x="261.5" y="36.1" width="1.3" height="1.3" fill="#52ea22"/>
<rect x="257.4" y="53.6" width="1.3" height="1.3" fill="#52ea22"/>
<rect x="269.9" y="61.2" width="1.3" height="1.3" fill="#52ea22"/>
<rect x="268.7" y="43.8" width="1.3" height="1.3" fill="#52ea22"/>
<rect x="244.1" y="53.8" width="1.3" height="1.3" fill="#52ea22"/>
<rect x="259.2" y="56.1" width="1.3" height="1.3" fill="#52ea22"/>
<rect x="258.1" y="51.8" width="1.3" height="1.3" fill="#52ea22"/>
<rect x="248.8" y="53.1" width="1.3" height="1.3" fill="#52ea22"/>
<rect x="256.0" y="52.5" width="1.3" height="1.3" fill="#52ea22"/>
<rect x="262.1" y="49.8" width="1.3" height="1.3" fill="#52ea22"/>
<rect x="261.2" y="50.4" width="1.3" height="1.3" fill="#52ea22"/>
<rect x="264.2" y="53.4" width="1.3" height="1.3" fill="#52ea22"/>
<rect x="255.3" y="47.1" width="1.3" height="1.3" fill="#52ea22"/>
<rect x="270.9" y="49.9" width="1.3" height="1.3" fill="#52ea22"/>
<rect x="265.7" y="52.8" width="1.3" height="1.3" fill="#52ea22"/>
<rect x="255.2" y="46.2" width="1.3" height="1.3" fill="#52ea22"/>
<rect x="259.8" y="52.0" width="1.3" height="1.3" fill="#52ea22"/>
<rect x="263.2" y="43.2" width="1.3" height="1.3" fill="#52ea22"/>
<rect x="255.0" y="49.9" width="1.3" height="1.3" fill="#52ea22"/>
<rect x="269.9" y="36.8" width="1.3" height="1.3" fill="#52ea22"/>
<rect x="262.0" y="47.4" width="1.3" height="1.3" fill="#52ea22"/>
<rect x="261.9" y="47.6" width="1.3" height="1.3" fill="#52ea22"/>
<rect x="261.5" y="59.6" width="1.3" height="1.3" fill="#52ea22"/>
<rect x="261.4" y="53.0" width="1.3" height="1.3" fill="#52ea22"/>
<rect x="261.5" y="46.1" width="1.3" height="1.3" fill="#52ea22"/>
<rect x="262.7" y="49.3" width="1.3" height="1.3" fill="#52ea22"/>
<rect x="253.5" y="50.3" width="1.3" height="1.3" fill="#52ea22"/>
<rect x="257.5" y="54.9" width="1.3" height="1.3" fill="#52ea22"/>
<rect x="258.7" y="47.4" width="1.3" height="1.3" fill="#52ea22"/>
<rect x="268.9" y="56.2" width="1.3" height="1.3" fill="#52ea22"/>
<rect x="267.6" y="54.0" width="1.3" height="1.3" fill="#52ea22"/>
<rect x="258.3" y="48.1" width="1.3" height="1.3" fill="#52ea22"/>
<rect x="257.1" y="56.0" width="1.3" height="1.3" fill="#52ea22"/>
<rect x="259.8" y="41.9" width="1.3" height="1.3" fill="#52ea22"/>
<rect x="258.7" y="42.3" width="1.3" height="1.3" fill="#52ea22"/>
<rect x="260.1" y="43.5" width="1.3" height="1.3" fill="#52ea22"/>
<rect x="250.4" y="51.2" width="1.3" height="1.3" fill="#52ea22"/>
<rect x="258.5" y="40.9" width="1.3" height="1.3" fill="#52ea22"/>
<rect x="264.1" y="63.0" width="1.3" height="1.3" fill="#52ea22"/>
<rect x="248.9" y="61.1" width="1.3" height="1.3" fill="#52ea22"/>
<rect x="254.3" y="47.6" width="1.3" height="1.3" fill="#52ea22"/>
<rect x="257.8" y="42.1" width="1.3" height="1.3" fill="#52ea22"/>
<rect x="267.8" y="53.4" width="1.3" height="1.3" fill="#52ea22"/>
<rect x="253.9" y="48.9" width="1.3" height="1.3" fill="#52ea22"/>
<rect x="248.7" y="48.5" width="1.3" height="1.3" fill="#52ea22"/>
<rect x="265.4" y="40.6" width="1.3" height="1.3" fill="#52ea22"/>
<rect x="256.0" y="51.4" width="1.3" height="1.3" fill="#52ea22"/>
<rect x="266.1" y="58.3" width="1.3" height="1.3" fill="#52ea22"/>
<rect x="255.9" y="46.2" width="1.3" height="1.3" fill="#52ea22"/>
<rect x="262.1" y="48.4" width="1.3" height="1.3" fill="#52ea22"/>
<rect x="256.9" y="56.8" width="1.3" height="1.3" fill="#52ea22"/>
<rect x="270.5" y="52.0" width="1.3" height="1.3" fill="#52ea22"/>
<rect x="257.7" y="53.8" width="1.3" height="1.3" fill="#52ea22"/>
<rect x="246.2" y="50.4" width="1.3" height="1.3" fill="#52ea22"/>
<rect x="251.8" y="64.4" width="1.3" height="1.3" fill="#52ea22"/>
<rect x="263.9" y="51.3" width="1.3" height="1.3" fill="#52ea22"/>
<rect x="257.7" y="35.9" width="1.3" height="1.3" fill="#52ea22"/>
<rect x="263.8" y="60.0" width="1.3" height="1.3" fill="#52ea22"/>
<rect x="254.0" y="54.5" width="1.3" height="1.3" fill="#52ea22"/>
<rect x="263.9" y="41.5" width="1.3" height="1.3" fill="#52ea22"/>
<rect x="265.4" y="58.4" width="1.3" height="1.3" fill="#52ea22"/>
<rect x="260.6" y="50.1" width="1.3" height="1.3" fill="#52ea22"/>
<rect x="264.4" y="41.6" width="1.3" height="1.3" fill="#52ea22"/>
<rect x="259.6" y="56.6" width="1.3" height="1.3" fill="#52ea22"/>
<rect x="250.6" y="56.3" width="1.3" height="1.3" fill="#52ea22"/>
<rect x="256.2" y="38.4" width="1.3" height="1.3" fill="#52ea22"/>
<rect x="258.3" y="44.9" width="1.3" height="1.3" fill="#52ea22"/>
<rect x="261.2" y="43.7" width="1.3" height="1.3" fill="#52ea22"/>
<rect x="266.1" y="46.2" width="1.3" height="1.3" fill="#52ea22"/>
<rect x="261.4" y="47.1" width="1.3" height="1.3" fill="#52ea22"/>
<rect x="256.8" y="57.4" width="1.3" height="1.3" fill="#52ea22"/>
<rect x="260.5" y="48.2" width="1.3" height="1.3" fill="#52ea22"/>
<rect x="250.5" y="57.2" width="1.3" height="1.3" fill="#52ea22"/>
<rect x="264.0" y="48.6" width="1.3" height="1.3" fill="#52ea22"/>
<rect x="260.7" y="44.5" width="1.3" height="1.3" fill="#52ea22"/>
<rect x="252.1" y="45.7" width="1.3" height="1.3" fill="#52ea22"/>
<rect x="261.4" y="52.2" width="1.3" height="1.3" fill="#52ea22"/>
<rect x="253.9" y="54.8" width="1.3" height="1.3" fill="#52ea22"/>
<rect x="264.3" y="51.5" width="1.3" height="1.3" fill="#52ea22"/>
<rect x="266.1" y="48.8" width="1.3" height="1.3" fill="#52ea22"/>
<rect x="258.2" y="53.2" width="1.3" height="1.3" fill="#52ea22"/>
<rect x="258.8" y="55.1" width="1.3" height="1.3" fill="#52ea22"/>
<rect x="250.5" y="58.8" width="1.3" height="1.3" fill="#52ea22"/>
<rect x="253.7" y="49.5" width="1.3" height="1.3" fill="#52ea22"/>
<rect x="249.6" y="54.0" width="1.3" height="1.3" fill="#52ea22"/>
<rect x="267.7" y="56.7" width="1.3" height="1.3" fill="#52ea22"/>
<rect x="264.7" y="41.5" width="1.3" height="1.3" fill="#52ea22"/>
<rect x="253.7" y="47.8" width="1.3" height="1.3" fill="#52ea22"/>
<rect x="252.6" y="57.0" width="1.3" height="1.3" fill="#52ea22"/>
<rect x="260.3" y="50.4" width="1.3" height="1.3" fill="#52ea22"/>
<rect x="262.3" y="45.0" width="1.3" height="1.3" fill="#52ea22"/>
<rect x="252.8" y="45.4" width="1.3" height="1.3" fill="#52ea22"/>
<rect x="262.4" y="52.5" width="1.3" height="1.3" fill="#52ea22"/>
<rect x="262.9" y="56.8" width="1.3" height="1.3" fill="#52ea22"/>
<rect x="249.8" y="47.2" width="1.3" height="1.3" fill="#52ea22"/>
<rect x="260.0" y="42.7" width="1.3" height="1.3" fill="#52ea22"/>
<rect x="255.4" y="56.4" width="1.3" height="1.3" fill="#52ea22"/>
<rect x="266.5" y="56.7" width="1.3" height="1.3" fill="#52ea22"/>
<rect x="259.3" y="49.3" width="1.3" height="1.3" fill="#52ea22"/>
<rect x="266.3" y="48.3" width="1.3" height="1.3" fill="#52ea22"/>
<rect x="261.3" y="58.2" width="1.3" height="1.3" fill="#52ea22"/>
<rect x="256.5" y="47.0" width="1.3" height="1.3" fill="#52ea22"/>
<rect x="258.9" y="54.0" width="1.3" height="1.3" fill="#52ea22"/>
<rect x="262.3" y="51.4" width="1.3" height="1.3" fill="#52ea22"/>
<rect x="262.8" y="41.2" width="1.3" height="1.3" fill="#52ea22"/>
<rect x="253.2" y="51.4" width="1.3" height="1.3" fill="#52ea22"/>
<rect x="252.7" y="42.7" width="1.3" height="1.3" fill="#52ea22"/>
<rect x="250.8" y="45.2" width="1.3" height="1.3" fill="#52ea22"/>
<rect x="257.8" y="44.6" width="1.3" height="1.3" fill="#52ea22"/>
<rect x="260.6" y="60.3" width="1.3" height="1.3" fill="#52ea22"/>
<rect x="258.0" y="57.9" width="1.3" height="1.3" fill="#52ea22"/>
<rect x="261.0" y="44.0" width="1.3" height="1.3" fill="#52ea22"/>
<rect x="257.3" y="44.8" width="1.3" height="1.3" fill="#52ea22"/>
<rect x="264.2" y="43.8" width="1.3" height="1.3" fill="#52ea22"/>
<rect x="268.0" y="53.9" width="1.3" height="1.3" fill="#52ea22"/>
<rect x="245.2" y="55.0" width="1.3" height="1.3" fill="#52ea22"/>
<rect x="269.6" y="45.9" width="1.3" height="1.3" fill="#52ea22"/>
<rect x="265.7" y="40.1" width="1.3" height="1.3" fill="#52ea22"/>
<rect x="260.7" y="40.9" width="1.3" height="1.3" fill="#52ea22"/>
<rect x="262.3" y="40.1" width="1.3" height="1.3" fill="#52ea22"/>
<rect x="274.6" y="47.0" width="1.3" height="1.3" fill="#52ea22"/>
<rect x="264.6" y="51.1" width="1.3" height="1.3" fill="#52ea22"/>
<rect x="256.8" y="54.1" width="1.3" height="1.3" fill="#52ea22"/>
<rect x="270.2" y="43.3" width="1.3" height="1.3" fill="#52ea22"/>
<rect x="262.8" y="52.5" width="1.3" height="1.3" fill="#52ea22"/>
<rect x="249.3" y="59.9" width="1.3" height="1.3" fill="#52ea22"/>
<rect x="272.3" y="45.0" width="1.3" height="1.3" fill="#52ea22"/>
<rect x="270.8" y="50.8" width="1.3" height="1.3" fill="#52ea22"/>
<rect x="257.9" y="59.2" width="1.3" height="1.3" fill="#52ea22"/>
<rect x="260.5" y="52.4" width="1.3" height="1.3" fill="#52ea22"/>
<rect x="269.3" y="58.0" width="1.3" height="1.3" fill="#52ea22"/>
<rect x="265.1" y="42.4" width="1.3" height="1.3" fill="#52ea22"/>
<rect x="248.3" y="57.0" width="1.3" height="1.3" fill="#52ea22"/>
<rect x="252.7" y="51.4" width="1.3" height="1.3" fill="#52ea22"/>
<rect x="251.7" y="49.4" width="1.3" height="1.3" fill="#52ea22"/>
<rect x="250.3" y="60.0" width="1.3" height="1.3" fill="#52ea22"/>
<rect x="252.1" y="49.8" width="1.3" height="1.3" fill="#52ea22"/>
<rect x="257.7" y="57.5" width="1.3" height="1.3" fill="#52ea22"/>
<rect x="249.3" y="50.3" width="1.3" height="1.3" fill="#52ea22"/>
<rect x="257.6" y="53.6" width="1.3" height="1.3" fill="#52ea22"/>
<rect x="262.2" y="47.8" width="1.3" height="1.3" fill="#52ea22"/>
<rect x="260.6" y="48.3" width="1.3" height="1.3" fill="#52ea22"/>
<rect x="262.2" y="49.9" width="1.3" height="1.3" fill="#52ea22"/>
<rect x="254.5" y="50.3" width="1.3" height="1.3" fill="#52ea22"/>
<rect x="261.5" y="63.6" width="1.3" height="1.3" fill="#52ea22"/>
<rect x="255.7" y="52.3" width="1.3" height="1.3" fill="#52ea22"/>
<rect x="268.9" y="38.4" width="1.3" height="1.3" fill="#52ea22"/>
<rect x="247.1" y="43.6" width="1.3" height="1.3" fill="#52ea22"/>
<rect x="258.2" y="64.7" width="1.3" height="1.3" fill="#52ea22"/>
<rect x="261.7" y="57.5" width="1.3" height="1.3" fill="#52ea22"/>
<rect x="257.5" y="36.2" width="1.3" height="1.3" fill="#52ea22"/>
<rect x="243.3" y="56.4" width="1.3" height="1.3" fill="#52ea22"/>
<rect x="260.3" y="43.0" width="1.3" height="1.3" fill="#52ea22"/>
<rect x="266.6" y="41.6" width="1.3" height="1.3" fill="#52ea22"/>
<rect x="266.7" y="58.9" width="1.3" height="1.3" fill="#52ea22"/>
<rect x="253.8" y="44.1" width="1.3" height="1.3" fill="#52ea22"/>
<rect x="264.7" y="44.1" width="1.3" height="1.3" fill="#52ea22"/>
<rect x="264.9" y="43.6" width="1.3" height="1.3" fill="#52ea22"/>
<rect x="264.5" y="51.0" width="1.3" height="1.3" fill="#52ea22"/>
<rect x="256.1" y="45.3" width="1.3" height="1.3" fill="#52ea22"/>
<rect x="260.6" y="39.5" width="1.3" height="1.3" fill="#52ea22"/>
<rect x="257.1" y="48.2" width="1.3" height="1.3" fill="#52ea22"/>
<rect x="263.6" y="43.2" width="1.3" height="1.3" fill="#52ea22"/>
<rect x="270.7" y="48.7" width="1.3" height="1.3" fill="#52ea22"/>
<rect x="251.3" y="58.5" width="1.3" height="1.3" fill="#52ea22"/>
<rect x="270.3" y="49.4" width="1.3" height="1.3" fill="#52ea22"/>
<rect x="252.9" y="50.6" width="1.3" height="1.3" fill="#52ea22"/>
<rect x="254.3" y="48.7" width="1.3" height="1.3" fill="#52ea22"/>
<rect x="269.6" y="52.8" width="1.3" height="1.3" fill="#52ea22"/>
<rect x="260.0" y="52.5" width="1.3" height="1.3" fill="#52ea22"/>
<rect x="268.5" y="32.3" width="1.6" height="1.6" fill="#3f7db8"/>
<rect x="275.2" y="33.8" width="1.6" height="1.6" fill="#3f7db8"/>
<rect x="269.1" y="27.1" width="1.6" height="1.6" fill="#3f7db8"/>
<rect x="264.9" y="33.6" width="1.6" height="1.6" fill="#3f7db8"/>
<rect x="254.9" y="22.5" width="1.6" height="1.6" fill="#3f7db8"/>
<rect x="266.1" y="40.6" width="1.6" height="1.6" fill="#3f7db8"/>
<rect x="253.4" y="34.7" width="1.6" height="1.6" fill="#3f7db8"/>
<rect x="271.8" y="33.3" width="1.6" height="1.6" fill="#3f7db8"/>
<rect x="242.6" y="45.7" width="1.6" height="1.6" fill="#3f7db8"/>
<rect x="253.6" y="36.1" width="1.6" height="1.6" fill="#3f7db8"/>
<rect x="254.7" y="24.7" width="1.6" height="1.6" fill="#3f7db8"/>
<rect x="266.0" y="32.1" width="1.6" height="1.6" fill="#3f7db8"/>
<rect x="268.1" y="35.6" width="1.6" height="1.6" fill="#3f7db8"/>
<rect x="262.4" y="32.4" width="1.6" height="1.6" fill="#3f7db8"/>
<rect x="251.3" y="25.9" width="1.6" height="1.6" fill="#3f7db8"/>
<rect x="264.9" y="38.4" width="1.6" height="1.6" fill="#3f7db8"/>
<rect x="258.6" y="27.2" width="1.6" height="1.6" fill="#3f7db8"/>
<rect x="258.1" y="33.9" width="1.6" height="1.6" fill="#3f7db8"/>
<rect x="249.4" y="50.6" width="1.6" height="1.6" fill="#3f7db8"/>
<rect x="262.4" y="36.6" width="1.6" height="1.6" fill="#3f7db8"/>
<rect x="258.8" y="27.5" width="1.6" height="1.6" fill="#3f7db8"/>
<rect x="262.9" y="26.4" width="1.6" height="1.6" fill="#3f7db8"/>
<rect x="273.5" y="29.8" width="1.6" height="1.6" fill="#3f7db8"/>
<rect x="270.1" y="38.0" width="1.6" height="1.6" fill="#3f7db8"/>
<rect x="270.3" y="22.4" width="1.6" height="1.6" fill="#3f7db8"/>
<rect x="266.5" y="36.7" width="1.6" height="1.6" fill="#3f7db8"/>
<rect x="261.1" y="28.1" width="1.6" height="1.6" fill="#3f7db8"/>
<rect x="252.2" y="20.4" width="1.6" height="1.6" fill="#3f7db8"/>
<rect x="247.4" y="23.7" width="1.6" height="1.6" fill="#3f7db8"/>
<rect x="253.4" y="32.4" width="1.6" height="1.6" fill="#3f7db8"/>
<rect x="261.9" y="23.4" width="1.6" height="1.6" fill="#3f7db8"/>
<rect x="267.1" y="33.3" width="1.6" height="1.6" fill="#3f7db8"/>
<rect x="255.1" y="39.7" width="1.6" height="1.6" fill="#3f7db8"/>
<rect x="266.3" y="33.6" width="1.6" height="1.6" fill="#3f7db8"/>
<rect x="252.3" y="35.6" width="1.6" height="1.6" fill="#3f7db8"/>
<rect x="263.0" y="30.7" width="1.6" height="1.6" fill="#3f7db8"/>
<rect x="248.5" y="34.1" width="1.6" height="1.6" fill="#3f7db8"/>
<rect x="246.7" y="44.1" width="1.6" height="1.6" fill="#3f7db8"/>
<rect x="260.0" y="27.5" width="1.6" height="1.6" fill="#3f7db8"/>
<rect x="275.7" y="35.2" width="1.6" height="1.6" fill="#3f7db8"/>
<rect x="251.9" y="34.9" width="1.6" height="1.6" fill="#3f7db8"/>
<rect x="266.5" y="22.4" width="1.6" height="1.6" fill="#3f7db8"/>
<rect x="275.0" y="38.5" width="1.6" height="1.6" fill="#3f7db8"/>
<rect x="257.7" y="21.9" width="1.6" height="1.6" fill="#3f7db8"/>
<rect x="256.6" y="43.6" width="1.6" height="1.6" fill="#3f7db8"/>
<rect x="260.3" y="27.9" width="1.6" height="1.6" fill="#3f7db8"/>
<rect x="268.3" y="23.7" width="1.6" height="1.6" fill="#3f7db8"/>
<rect x="255.4" y="39.7" width="1.6" height="1.6" fill="#3f7db8"/>
<rect x="253.0" y="46.7" width="1.6" height="1.6" fill="#3f7db8"/>
<rect x="264.5" y="34.9" width="1.6" height="1.6" fill="#3f7db8"/>
<rect x="262.0" y="41.8" width="1.6" height="1.6" fill="#3f7db8"/>
<rect x="254.1" y="40.7" width="1.6" height="1.6" fill="#3f7db8"/>
<rect x="256.6" y="33.1" width="1.6" height="1.6" fill="#3f7db8"/>
<rect x="257.3" y="35.9" width="1.6" height="1.6" fill="#3f7db8"/>
<rect x="244.1" y="39.6" width="1.6" height="1.6" fill="#3f7db8"/>
<rect x="268.1" y="21.6" width="1.6" height="1.6" fill="#3f7db8"/>
<rect x="267.2" y="30.4" width="1.6" height="1.6" fill="#3f7db8"/>
<rect x="263.5" y="23.3" width="1.6" height="1.6" fill="#3f7db8"/>
<rect x="253.6" y="27.2" width="1.6" height="1.6" fill="#3f7db8"/>
<rect x="250.9" y="39.1" width="1.6" height="1.6" fill="#3f7db8"/>
<rect x="278.2" y="31.5" width="1.6" height="1.6" fill="#3f7db8"/>
<rect x="269.0" y="27.7" width="1.6" height="1.6" fill="#3f7db8"/>
<rect x="263.5" y="32.2" width="1.6" height="1.6" fill="#3f7db8"/>
<rect x="254.3" y="19.5" width="1.6" height="1.6" fill="#3f7db8"/>
<rect x="261.0" y="32.4" width="1.6" height="1.6" fill="#3f7db8"/>
<rect x="244.4" y="21.1" width="1.6" height="1.6" fill="#3f7db8"/>
<rect x="255.3" y="27.6" width="1.6" height="1.6" fill="#3f7db8"/>
<rect x="248.2" y="38.3" width="1.6" height="1.6" fill="#3f7db8"/>
<rect x="257.2" y="30.2" width="1.6" height="1.6" fill="#3f7db8"/>
<rect x="261.0" y="42.9" width="1.6" height="1.6" fill="#3f7db8"/>
<rect x="263.6" y="25.6" width="1.6" height="1.6" fill="#3f7db8"/>
<rect x="253.2" y="18.7" width="1.6" height="1.6" fill="#3f7db8"/>
<rect x="267.6" y="22.1" width="1.6" height="1.6" fill="#3f7db8"/>
<rect x="255.7" y="37.1" width="1.6" height="1.6" fill="#3f7db8"/>
<rect x="250.7" y="34.0" width="1.6" height="1.6" fill="#3f7db8"/>
<rect x="271.1" y="27.9" width="1.6" height="1.6" fill="#3f7db8"/>
<rect x="265.0" y="38.7" width="1.6" height="1.6" fill="#3f7db8"/>
<rect x="261.2" y="39.6" width="1.6" height="1.6" fill="#3f7db8"/>
<rect x="267.4" y="23.6" width="1.6" height="1.6" fill="#3f7db8"/>
<rect x="265.8" y="23.8" width="1.6" height="1.6" fill="#3f7db8"/>
<rect x="247.2" y="42.1" width="1.6" height="1.6" fill="#3f7db8"/>
<rect x="264.8" y="29.0" width="1.6" height="1.6" fill="#3f7db8"/>
<rect x="264.7" y="24.0" width="1.6" height="1.6" fill="#3f7db8"/>
<rect x="266.1" y="23.4" width="1.6" height="1.6" fill="#3f7db8"/>
<rect x="265.3" y="27.8" width="1.6" height="1.6" fill="#3f7db8"/>
<rect x="250.7" y="34.9" width="1.6" height="1.6" fill="#3f7db8"/>
<rect x="252.9" y="29.0" width="1.6" height="1.6" fill="#3f7db8"/>
<rect x="269.4" y="19.5" width="1.6" height="1.6" fill="#3f7db8"/>
<rect x="258.2" y="41.6" width="1.6" height="1.6" fill="#3f7db8"/>
<rect x="271.5" y="17.6" width="1.6" height="1.6" fill="#3f7db8"/>
<rect x="261.0" y="33.0" width="1.6" height="1.6" fill="#3f7db8"/>
<rect x="245.0" y="19.1" width="1.6" height="1.6" fill="#3f7db8"/>
<rect x="264.0" y="24.0" width="1.6" height="1.6" fill="#3f7db8"/>
<rect x="255.5" y="24.9" width="1.6" height="1.6" fill="#3f7db8"/>
<rect x="272.4" y="44.3" width="1.6" height="1.6" fill="#3f7db8"/>
<rect x="267.7" y="19.5" width="1.6" height="1.6" fill="#3f7db8"/>
<rect x="263.7" y="35.3" width="1.6" height="1.6" fill="#3f7db8"/>
<rect x="265.7" y="25.8" width="1.6" height="1.6" fill="#3f7db8"/>
<rect x="263.4" y="27.4" width="1.6" height="1.6" fill="#3f7db8"/>
<rect x="276.5" y="38.1" width="1.6" height="1.6" fill="#3f7db8"/>
<rect x="256.1" y="27.6" width="1.6" height="1.6" fill="#3f7db8"/>
<rect x="268.5" y="24.0" width="1.6" height="1.6" fill="#3f7db8"/>
<rect x="253.4" y="44.3" width="1.6" height="1.6" fill="#3f7db8"/>
<rect x="260.3" y="18.8" width="1.6" height="1.6" fill="#3f7db8"/>
<rect x="262.0" y="36.4" width="1.6" height="1.6" fill="#3f7db8"/>
<rect x="271.8" y="31.2" width="1.6" height="1.6" fill="#3f7db8"/>
<rect x="260.7" y="32.6" width="1.6" height="1.6" fill="#3f7db8"/>
<rect x="262.0" y="21.9" width="1.6" height="1.6" fill="#3f7db8"/>
<rect x="264.9" y="28.4" width="1.6" height="1.6" fill="#3f7db8"/>
<rect x="250.2" y="34.8" width="1.6" height="1.6" fill="#3f7db8"/>
<rect x="276.1" y="38.2" width="1.6" height="1.6" fill="#3f7db8"/>
<rect x="248.3" y="35.2" width="1.6" height="1.6" fill="#3f7db8"/>
<rect x="261.0" y="28.0" width="1.6" height="1.6" fill="#3f7db8"/>
<rect x="274.7" y="17.2" width="1.6" height="1.6" fill="#3f7db8"/>
<rect x="262.4" y="20.8" width="1.6" height="1.6" fill="#3f7db8"/>
<rect x="262.8" y="20.9" width="1.6" height="1.6" fill="#3f7db8"/>
<rect x="265.9" y="21.3" width="1.6" height="1.6" fill="#3f7db8"/>
<rect x="271.9" y="29.2" width="1.6" height="1.6" fill="#3f7db8"/>
<rect x="268.0" y="28.8" width="1.6" height="1.6" fill="#3f7db8"/>
<rect x="265.8" y="23.4" width="1.6" height="1.6" fill="#3f7db8"/>
<rect x="270.0" y="36.3" width="1.6" height="1.6" fill="#3f7db8"/>
<rect x="266.5" y="40.4" width="1.6" height="1.6" fill="#3f7db8"/>
<rect x="272.9" y="39.9" width="1.6" height="1.6" fill="#3f7db8"/>
<rect x="268.3" y="28.5" width="1.6" height="1.6" fill="#3f7db8"/>
<rect x="248.4" y="43.6" width="1.6" height="1.6" fill="#3f7db8"/>
<rect x="266.7" y="22.2" width="1.6" height="1.6" fill="#3f7db8"/>
<rect x="265.8" y="34.1" width="1.6" height="1.6" fill="#3f7db8"/>
<rect x="269.1" y="40.3" width="1.6" height="1.6" fill="#3f7db8"/>
<rect x="247.3" y="31.4" width="1.6" height="1.6" fill="#3f7db8"/>
<rect x="281.5" y="17.5" width="1.6" height="1.6" fill="#3f7db8"/>
<rect x="261.4" y="37.5" width="1.6" height="1.6" fill="#3f7db8"/>
<rect x="264.3" y="39.0" width="1.6" height="1.6" fill="#3f7db8"/>
<rect x="272.1" y="30.3" width="1.6" height="1.6" fill="#3f7db8"/>
<rect x="260.9" y="27.2" width="1.6" height="1.6" fill="#3f7db8"/>
<rect x="248.8" y="50.3" width="1.6" height="1.6" fill="#3f7db8"/>
<rect x="245.9" y="42.5" width="1.6" height="1.6" fill="#3f7db8"/>
<rect x="242.6" y="31.6" width="1.6" height="1.6" fill="#3f7db8"/>
<rect x="251.6" y="32.5" width="1.6" height="1.6" fill="#3f7db8"/>
<rect x="242.6" y="32.1" width="1.6" height="1.6" fill="#3f7db8"/>
<rect x="249.1" y="41.1" width="1.6" height="1.6" fill="#3f7db8"/>
<rect x="267.8" y="38.8" width="1.6" height="1.6" fill="#3f7db8"/>
<rect x="269.9" y="45.5" width="1.6" height="1.6" fill="#3f7db8"/>
<rect x="254.1" y="34.9" width="1.6" height="1.6" fill="#3f7db8"/>
<rect x="264.8" y="39.1" width="1.6" height="1.6" fill="#3f7db8"/>
<rect x="271.5" y="26.8" width="1.6" height="1.6" fill="#3f7db8"/>
<rect x="266.9" y="34.2" width="1.6" height="1.6" fill="#3f7db8"/>
<rect x="272.9" y="27.1" width="1.6" height="1.6" fill="#3f7db8"/>
<rect x="248.6" y="38.6" width="1.6" height="1.6" fill="#3f7db8"/>
<rect x="268.3" y="35.2" width="1.6" height="1.6" fill="#3f7db8"/>
<rect x="271.0" y="28.3" width="1.6" height="1.6" fill="#3f7db8"/>
<rect x="261.4" y="28.6" width="1.6" height="1.6" fill="#3f7db8"/>
<rect x="263.3" y="19.2" width="1.6" height="1.6" fill="#3f7db8"/>
<rect x="265.1" y="19.5" width="1.6" height="1.6" fill="#3f7db8"/>
<rect x="263.6" y="33.2" width="1.6" height="1.6" fill="#3f7db8"/>
<rect x="248.2" y="44.4" width="1.6" height="1.6" fill="#3f7db8"/>
<rect x="261.1" y="29.9" width="1.6" height="1.6" fill="#3f7db8"/>
<rect x="255.1" y="43.1" width="1.6" height="1.6" fill="#3f7db8"/>
<rect x="264.2" y="29.3" width="1.6" height="1.6" fill="#3f7db8"/>
<rect x="268.6" y="39.0" width="1.6" height="1.6" fill="#3f7db8"/>
<rect x="269.0" y="28.5" width="1.6" height="1.6" fill="#3f7db8"/>
<rect x="251.2" y="32.0" width="1.6" height="1.6" fill="#3f7db8"/>
<rect x="268.8" y="23.4" width="1.6" height="1.6" fill="#3f7db8"/>
<rect x="278.4" y="27.9" width="1.6" height="1.6" fill="#3f7db8"/>
<rect x="252.9" y="31.7" width="1.6" height="1.6" fill="#3f7db8"/>
<rect x="263.7" y="40.2" width="1.6" height="1.6" fill="#3f7db8"/>
<rect x="267.8" y="38.6" width="1.6" height="1.6" fill="#3f7db8"/>
<rect x="266.2" y="28.7" width="1.6" height="1.6" fill="#3f7db8"/>
<rect x="269.4" y="25.5" width="1.6" height="1.6" fill="#3f7db8"/>
<rect x="256.6" y="30.8" width="1.6" height="1.6" fill="#3f7db8"/>
<rect x="273.2" y="31.9" width="1.6" height="1.6" fill="#3f7db8"/>
<rect x="269.0" y="33.1" width="1.6" height="1.6" fill="#3f7db8"/>
<rect x="244.5" y="44.1" width="1.6" height="1.6" fill="#3f7db8"/>
<rect x="258.8" y="27.8" width="1.6" height="1.6" fill="#3f7db8"/>
<rect x="265.0" y="25.1" width="1.6" height="1.6" fill="#3f7db8"/>
<rect x="249.4" y="42.3" width="1.6" height="1.6" fill="#3f7db8"/>
<rect x="259.4" y="31.3" width="1.6" height="1.6" fill="#3f7db8"/>
<rect x="248.5" y="36.3" width="1.6" height="1.6" fill="#3f7db8"/>
<rect x="261.0" y="36.2" width="1.6" height="1.6" fill="#3f7db8"/>
<rect x="263.7" y="40.7" width="1.6" height="1.6" fill="#3f7db8"/>
<rect x="250.3" y="39.1" width="1.6" height="1.6" fill="#3f7db8"/>
<rect x="247.0" y="44.3" width="1.6" height="1.6" fill="#3f7db8"/>
<rect x="261.1" y="32.9" width="1.6" height="1.6" fill="#3f7db8"/>
<rect x="261.8" y="23.0" width="1.6" height="1.6" fill="#3f7db8"/>
<rect x="278.3" y="34.1" width="1.6" height="1.6" fill="#3f7db8"/>
<rect x="254.3" y="30.6" width="1.6" height="1.6" fill="#3f7db8"/>
<rect x="250.3" y="34.8" width="1.6" height="1.6" fill="#3f7db8"/>
<rect x="261.1" y="19.9" width="1.6" height="1.6" fill="#3f7db8"/>
<rect x="269.5" y="33.7" width="1.6" height="1.6" fill="#3f7db8"/>
<rect x="258.1" y="39.6" width="1.6" height="1.6" fill="#3f7db8"/>
<rect x="265.2" y="31.8" width="1.6" height="1.6" fill="#3f7db8"/>
<rect x="262.1" y="19.2" width="1.6" height="1.6" fill="#3f7db8"/>
<rect x="267.4" y="31.2" width="1.6" height="1.6" fill="#3f7db8"/>
<rect x="266.8" y="38.9" width="1.6" height="1.6" fill="#3f7db8"/>
<rect x="254.4" y="38.5" width="1.6" height="1.6" fill="#3f7db8"/>
<rect x="254.9" y="47.6" width="1.6" height="1.6" fill="#3f7db8"/>
<rect x="264.4" y="32.4" width="1.6" height="1.6" fill="#3f7db8"/>
<rect x="259.7" y="27.6" width="1.6" height="1.6" fill="#3f7db8"/>
<rect x="258.8" y="28.3" width="1.6" height="1.6" fill="#3f7db8"/>
<rect x="258.4" y="29.3" width="1.6" height="1.6" fill="#3f7db8"/>
<rect x="250.4" y="32.7" width="1.6" height="1.6" fill="#3f7db8"/>
<rect x="284.3" y="32.3" width="1.6" height="1.6" fill="#3f7db8"/>
<rect x="247.6" y="35.8" width="1.6" height="1.6" fill="#3f7db8"/>
<rect x="260.4" y="33.3" width="1.6" height="1.6" fill="#3f7db8"/>
<rect x="260.9" y="25.2" width="1.6" height="1.6" fill="#3f7db8"/>
<rect x="266.3" y="30.5" width="1.6" height="1.6" fill="#3f7db8"/>
<rect x="247.8" y="43.6" width="1.6" height="1.6" fill="#3f7db8"/>
<rect x="265.4" y="27.1" width="1.6" height="1.6" fill="#3f7db8"/>
<rect x="266.8" y="34.6" width="1.6" height="1.6" fill="#3f7db8"/>
<rect x="270.9" y="33.6" width="1.6" height="1.6" fill="#3f7db8"/>
<rect x="260.6" y="29.9" width="1.6" height="1.6" fill="#3f7db8"/>
<rect x="246.5" y="34.4" width="1.6" height="1.6" fill="#3f7db8"/>
<rect x="247.5" y="42.4" width="1.6" height="1.6" fill="#3f7db8"/>
<rect x="266.9" y="43.2" width="1.6" height="1.6" fill="#3f7db8"/>
<rect x="255.6" y="22.0" width="1.6" height="1.6" fill="#3f7db8"/>
<rect x="250.1" y="44.1" width="1.6" height="1.6" fill="#3f7db8"/>
<rect x="268.0" y="32.1" width="1.6" height="1.6" fill="#3f7db8"/>
<rect x="257.9" y="29.7" width="1.6" height="1.6" fill="#3f7db8"/>
<rect x="259.9" y="30.9" width="1.6" height="1.6" fill="#3f7db8"/>
<rect x="253.5" y="37.2" width="1.6" height="1.6" fill="#3f7db8"/>
<rect x="250.7" y="46.4" width="1.6" height="1.6" fill="#3f7db8"/>
<rect x="255.0" y="29.0" width="1.6" height="1.6" fill="#3f7db8"/>
<rect x="254.3" y="24.9" width="1.6" height="1.6" fill="#3f7db8"/>
<rect x="266.4" y="35.8" width="1.6" height="1.6" fill="#3f7db8"/>
<rect x="266.6" y="22.2" width="1.6" height="1.6" fill="#3f7db8"/>
<rect x="273.3" y="26.0" width="1.6" height="1.6" fill="#3f7db8"/>
<rect x="259.9" y="32.4" width="1.6" height="1.6" fill="#3f7db8"/>
<rect x="250.1" y="41.6" width="1.6" height="1.6" fill="#3f7db8"/>
<rect x="262.3" y="27.5" width="1.6" height="1.6" fill="#3f7db8"/>
<rect x="250.1" y="40.0" width="1.6" height="1.6" fill="#3f7db8"/>
<rect x="245.5" y="37.7" width="1.6" height="1.6" fill="#3f7db8"/>
<rect x="268.4" y="38.6" width="1.6" height="1.6" fill="#3f7db8"/>
<rect x="273.2" y="26.0" width="1.6" height="1.6" fill="#3f7db8"/>
<rect x="251.2" y="36.4" width="1.6" height="1.6" fill="#3f7db8"/>
<rect x="246.4" y="48.6" width="1.6" height="1.6" fill="#3f7db8"/>
<rect x="247.5" y="44.0" width="1.6" height="1.6" fill="#3f7db8"/>
<rect x="262.1" y="35.4" width="1.6" height="1.6" fill="#3f7db8"/>
<rect x="254.5" y="36.8" width="1.6" height="1.6" fill="#3f7db8"/>
<rect x="257.3" y="41.0" width="1.6" height="1.6" fill="#3f7db8"/>
<rect x="251.9" y="21.1" width="1.6" height="1.6" fill="#3f7db8"/>
<rect x="273.6" y="20.3" width="1.6" height="1.6" fill="#3f7db8"/>
<rect x="258.0" y="30.2" width="1.6" height="1.6" fill="#3f7db8"/>
<rect x="283.1" y="35.3" width="1.6" height="1.6" fill="#3f7db8"/>
<rect x="258.6" y="47.8" width="1.6" height="1.6" fill="#3f7db8"/>
<rect x="258.8" y="33.6" width="1.6" height="1.6" fill="#3f7db8"/>
<rect x="252.6" y="26.8" width="1.6" height="1.6" fill="#3f7db8"/>
<rect x="257.0" y="27.9" width="1.6" height="1.6" fill="#3f7db8"/>
<rect x="256.3" y="36.0" width="1.6" height="1.6" fill="#3f7db8"/>
<rect x="251.5" y="26.4" width="1.6" height="1.6" fill="#3f7db8"/>
<rect x="264.6" y="26.9" width="1.6" height="1.6" fill="#3f7db8"/>
<rect x="266.9" y="31.8" width="1.6" height="1.6" fill="#3f7db8"/>
<rect x="265.6" y="29.4" width="1.6" height="1.6" fill="#3f7db8"/>
<rect x="250.9" y="38.5" width="1.6" height="1.6" fill="#3f7db8"/>
<rect x="247.8" y="40.5" width="1.6" height="1.6" fill="#3f7db8"/>
<rect x="266.2" y="29.7" width="1.6" height="1.6" fill="#3f7db8"/>
<rect x="242.3" y="33.3" width="1.6" height="1.6" fill="#3f7db8"/>
<rect x="264.6" y="23.9" width="1.6" height="1.6" fill="#3f7db8"/>
<rect x="264.3" y="20.5" width="1.6" height="1.6" fill="#3f7db8"/>
<rect x="252.7" y="24.4" width="1.6" height="1.6" fill="#3f7db8"/>
<rect x="268.8" y="40.5" width="1.6" height="1.6" fill="#3f7db8"/>
<rect x="257.8" y="42.1" width="1.6" height="1.6" fill="#3f7db8"/>
<rect x="249.4" y="38.8" width="1.6" height="1.6" fill="#3f7db8"/>
<rect x="244.3" y="36.5" width="1.6" height="1.6" fill="#3f7db8"/>
<rect x="256.9" y="26.2" width="1.6" height="1.6" fill="#3f7db8"/>
<rect x="266.1" y="32.5" width="1.6" height="1.6" fill="#3f7db8"/>
<rect x="255.2" y="40.7" width="1.6" height="1.6" fill="#3f7db8"/>
<rect x="265.7" y="24.8" width="1.6" height="1.6" fill="#3f7db8"/>
<rect x="266.3" y="26.2" width="1.6" height="1.6" fill="#3f7db8"/>
<rect x="262.5" y="35.0" width="1.6" height="1.6" fill="#3f7db8"/>
<rect x="270.6" y="28.4" width="1.6" height="1.6" fill="#3f7db8"/>
<rect x="275.8" y="27.8" width="1.6" height="1.6" fill="#3f7db8"/>
<rect x="259.0" y="29.8" width="1.6" height="1.6" fill="#3f7db8"/>
<rect x="268.3" y="24.8" width="1.6" height="1.6" fill="#3f7db8"/>
<rect x="265.5" y="23.9" width="1.6" height="1.6" fill="#3f7db8"/>
<rect x="261.2" y="36.5" width="1.6" height="1.6" fill="#3f7db8"/>
<rect x="266.0" y="19.0" width="1.6" height="1.6" fill="#3f7db8"/>
<rect x="249.3" y="32.0" width="1.6" height="1.6" fill="#3f7db8"/>
<rect x="262.2" y="36.0" width="1.6" height="1.6" fill="#3f7db8"/>
<rect x="273.4" y="23.0" width="1.6" height="1.6" fill="#3f7db8"/>
<rect x="277.1" y="22.1" width="1.6" height="1.6" fill="#3f7db8"/>
<rect x="257.7" y="30.6" width="1.6" height="1.6" fill="#3f7db8"/>
<rect x="258.6" y="55.4" width="1.3" height="1.3" fill="#52ea22"/>
<rect x="265.0" y="48.4" width="1.3" height="1.3" fill="#52ea22"/>
<rect x="259.7" y="64.5" width="1.3" height="1.3" fill="#52ea22"/>
<rect x="261.9" y="49.4" width="1.3" height="1.3" fill="#52ea22"/>
<rect x="272.9" y="50.6" width="1.3" height="1.3" fill="#52ea22"/>
<rect x="251.5" y="54.4" width="1.3" height="1.3" fill="#52ea22"/>
<rect x="252.9" y="47.6" width="1.3" height="1.3" fill="#52ea22"/>
<rect x="261.2" y="49.8" width="1.3" height="1.3" fill="#52ea22"/>
<rect x="253.8" y="47.3" width="1.3" height="1.3" fill="#52ea22"/>
<rect x="255.0" y="57.3" width="1.3" height="1.3" fill="#52ea22"/>
<rect x="254.1" y="47.2" width="1.3" height="1.3" fill="#52ea22"/>
<rect x="272.9" y="47.3" width="1.3" height="1.3" fill="#52ea22"/>
<rect x="269.1" y="58.1" width="1.3" height="1.3" fill="#52ea22"/>
<rect x="258.0" y="42.3" width="1.3" height="1.3" fill="#52ea22"/>
<rect x="262.1" y="54.4" width="1.3" height="1.3" fill="#52ea22"/>
<rect x="265.6" y="50.9" width="1.3" height="1.3" fill="#52ea22"/>
<rect x="267.2" y="58.6" width="1.3" height="1.3" fill="#52ea22"/>
<rect x="251.8" y="58.8" width="1.3" height="1.3" fill="#52ea22"/>
<rect x="260.2" y="47.2" width="1.3" height="1.3" fill="#52ea22"/>
<rect x="256.8" y="61.4" width="1.3" height="1.3" fill="#52ea22"/>
<rect x="265.7" y="40.1" width="1.3" height="1.3" fill="#52ea22"/>
<rect x="259.6" y="49.7" width="1.3" height="1.3" fill="#52ea22"/>
<rect x="257.8" y="47.5" width="1.3" height="1.3" fill="#52ea22"/>
<rect x="249.1" y="55.5" width="1.3" height="1.3" fill="#52ea22"/>
<rect x="252.6" y="48.4" width="1.3" height="1.3" fill="#52ea22"/>
<rect x="254.9" y="46.3" width="1.3" height="1.3" fill="#52ea22"/>
<rect x="264.1" y="52.7" width="1.3" height="1.3" fill="#52ea22"/>
<rect x="254.4" y="45.0" width="1.3" height="1.3" fill="#52ea22"/>
<rect x="255.8" y="56.1" width="1.3" height="1.3" fill="#52ea22"/>
<rect x="259.9" y="51.9" width="1.3" height="1.3" fill="#52ea22"/>
<rect x="256.8" y="49.0" width="1.3" height="1.3" fill="#52ea22"/>
<rect x="260.5" y="39.8" width="1.3" height="1.3" fill="#52ea22"/>
<rect x="270.0" y="45.9" width="1.3" height="1.3" fill="#52ea22"/>
<rect x="255.1" y="58.3" width="1.3" height="1.3" fill="#52ea22"/>
<rect x="260.5" y="50.7" width="1.3" height="1.3" fill="#52ea22"/>
<rect x="255.0" y="41.4" width="1.3" height="1.3" fill="#52ea22"/>
<rect x="260.3" y="57.4" width="1.3" height="1.3" fill="#52ea22"/>
<rect x="252.9" y="58.4" width="1.3" height="1.3" fill="#52ea22"/>
<rect x="251.3" y="46.2" width="1.3" height="1.3" fill="#52ea22"/>
<rect x="262.4" y="50.5" width="1.3" height="1.3" fill="#52ea22"/>
<rect x="263.7" y="46.2" width="1.3" height="1.3" fill="#52ea22"/>
<rect x="252.0" y="39.7" width="1.3" height="1.3" fill="#52ea22"/>
<rect x="250.8" y="44.3" width="1.3" height="1.3" fill="#52ea22"/>
<rect x="249.3" y="52.3" width="1.3" height="1.3" fill="#52ea22"/>
<rect x="254.5" y="39.0" width="1.3" height="1.3" fill="#52ea22"/>
<rect x="275.9" y="45.7" width="1.3" height="1.3" fill="#52ea22"/>
<rect x="250.5" y="57.7" width="1.3" height="1.3" fill="#52ea22"/>
<rect x="266.9" y="43.8" width="1.3" height="1.3" fill="#52ea22"/>
<rect x="249.0" y="44.7" width="1.3" height="1.3" fill="#52ea22"/>
<rect x="266.7" y="48.7" width="1.3" height="1.3" fill="#52ea22"/>
<rect x="253.5" y="50.3" width="1.3" height="1.3" fill="#52ea22"/>
<rect x="267.2" y="42.4" width="1.3" height="1.3" fill="#52ea22"/>
<rect x="256.4" y="42.5" width="1.3" height="1.3" fill="#52ea22"/>
<rect x="273.8" y="61.0" width="1.3" height="1.3" fill="#52ea22"/>
<rect x="265.5" y="49.7" width="1.3" height="1.3" fill="#52ea22"/>
<rect x="263.5" y="38.3" width="1.3" height="1.3" fill="#52ea22"/>
<rect x="260.9" y="42.8" width="1.3" height="1.3" fill="#52ea22"/>
<rect x="250.0" y="46.4" width="1.3" height="1.3" fill="#52ea22"/>
<rect x="256.6" y="53.8" width="1.3" height="1.3" fill="#52ea22"/>
<rect x="263.8" y="52.0" width="1.3" height="1.3" fill="#52ea22"/>
<rect x="252.6" y="54.4" width="1.3" height="1.3" fill="#52ea22"/>
<rect x="258.2" y="57.3" width="1.3" height="1.3" fill="#52ea22"/>
<rect x="252.8" y="34.5" width="1.3" height="1.3" fill="#52ea22"/>
<rect x="255.8" y="63.0" width="1.3" height="1.3" fill="#52ea22"/>
<rect x="262.2" y="49.4" width="1.3" height="1.3" fill="#52ea22"/>
<rect x="265.0" y="53.4" width="1.3" height="1.3" fill="#52ea22"/>
<rect x="262.1" y="47.5" width="1.3" height="1.3" fill="#52ea22"/>
<rect x="259.5" y="51.7" width="1.3" height="1.3" fill="#52ea22"/>
<rect x="254.6" y="44.0" width="1.3" height="1.3" fill="#52ea22"/>
<rect x="259.9" y="56.1" width="1.3" height="1.3" fill="#52ea22"/>
<rect x="263.4" y="53.4" width="1.3" height="1.3" fill="#52ea22"/>
<rect x="262.4" y="65.5" width="1.3" height="1.3" fill="#52ea22"/>
<rect x="260.8" y="56.5" width="1.3" height="1.3" fill="#52ea22"/>
<rect x="272.3" y="50.8" width="1.3" height="1.3" fill="#52ea22"/>
<rect x="260.8" y="56.6" width="1.3" height="1.3" fill="#52ea22"/>
<rect x="270.5" y="52.3" width="1.3" height="1.3" fill="#52ea22"/>
<rect x="261.5" y="51.0" width="1.3" height="1.3" fill="#52ea22"/>
<rect x="250.8" y="57.0" width="1.3" height="1.3" fill="#52ea22"/>
<rect x="257.3" y="40.5" width="1.3" height="1.3" fill="#52ea22"/>
<rect x="258.0" y="40.5" width="1.3" height="1.3" fill="#52ea22"/>
<rect x="252.2" y="50.6" width="1.3" height="1.3" fill="#52ea22"/>
<rect x="252.8" y="56.7" width="1.3" height="1.3" fill="#52ea22"/>
<rect x="249.0" y="52.1" width="1.3" height="1.3" fill="#52ea22"/>
<rect x="262.8" y="59.0" width="1.3" height="1.3" fill="#52ea22"/>
<rect x="265.3" y="51.9" width="1.3" height="1.3" fill="#52ea22"/>
<rect x="259.6" y="50.2" width="1.3" height="1.3" fill="#52ea22"/>
<rect x="266.8" y="46.7" width="1.3" height="1.3" fill="#52ea22"/>
<rect x="262.6" y="50.0" width="1.3" height="1.3" fill="#52ea22"/>
<rect x="260.7" y="49.0" width="1.3" height="1.3" fill="#52ea22"/>
<rect x="273.6" y="46.7" width="1.3" height="1.3" fill="#52ea22"/>
<rect x="260.8" y="52.2" width="1.3" height="1.3" fill="#52ea22"/>
<rect x="263.2" y="53.2" width="1.3" height="1.3" fill="#52ea22"/>
<rect x="262.0" y="56.3" width="1.3" height="1.3" fill="#52ea22"/>
<rect x="248.8" y="50.6" width="1.3" height="1.3" fill="#52ea22"/>
<rect x="250.7" y="51.9" width="1.3" height="1.3" fill="#52ea22"/>
<rect x="251.0" y="45.0" width="1.3" height="1.3" fill="#52ea22"/>
<rect x="258.7" y="58.7" width="1.3" height="1.3" fill="#52ea22"/>
<rect x="263.0" y="52.3" width="1.3" height="1.3" fill="#52ea22"/>
<rect x="268.6" y="45.1" width="1.3" height="1.3" fill="#52ea22"/>
<rect x="244.9" y="48.1" width="1.3" height="1.3" fill="#52ea22"/>
<rect x="257.2" y="57.7" width="1.3" height="1.3" fill="#52ea22"/>
<rect x="273.6" y="42.9" width="1.3" height="1.3" fill="#52ea22"/>
<rect x="275.9" y="59.7" width="1.3" height="1.3" fill="#52ea22"/>
<rect x="264.8" y="52.7" width="1.3" height="1.3" fill="#52ea22"/>
<rect x="275.6" y="51.0" width="1.3" height="1.3" fill="#52ea22"/>
<rect x="255.9" y="51.4" width="1.3" height="1.3" fill="#52ea22"/>
<rect x="249.8" y="53.3" width="1.3" height="1.3" fill="#52ea22"/>
<rect x="258.3" y="52.5" width="1.3" height="1.3" fill="#52ea22"/>
<rect x="261.5" y="44.4" width="1.3" height="1.3" fill="#52ea22"/>
<rect x="268.0" y="44.7" width="1.3" height="1.3" fill="#52ea22"/>
<rect x="265.1" y="41.3" width="1.3" height="1.3" fill="#52ea22"/>
<rect x="261.6" y="45.8" width="1.3" height="1.3" fill="#52ea22"/>
<rect x="259.4" y="46.8" width="1.3" height="1.3" fill="#52ea22"/>
<rect x="244.3" y="44.1" width="1.3" height="1.3" fill="#52ea22"/>
<rect x="259.6" y="54.2" width="1.3" height="1.3" fill="#52ea22"/>
<text x="200.20" y="33.60" font-size="9.6" text-anchor="start" fill="#e88a30" font-weight="normal" font-style="normal" stroke="none">18%</text>
<text x="257.80" y="15.20" font-size="9.6" text-anchor="start" fill="#4682bb" font-weight="normal" font-style="normal" stroke="none">30%</text>
<text x="253.60" y="77.20" font-size="9.6" text-anchor="start" fill="#7ada45" font-weight="normal" font-style="normal" stroke="none">72%</text>
<text x="314.40" y="13.40" font-size="13.0" text-anchor="start" fill="#111" font-weight="bold" font-style="normal" >C</text>
<text x="369.20" y="13.80" font-size="11.0" text-anchor="end" fill="#222" font-weight="normal" font-style="normal"  stroke="#222" stroke-width="0.1">8000</text>
<text x="369.20" y="26.40" font-size="11.0" text-anchor="end" fill="#222" font-weight="normal" font-style="normal"  stroke="#222" stroke-width="0.1">4000</text>
<text x="369.20" y="43.50" font-size="11.0" text-anchor="end" fill="#222" font-weight="normal" font-style="normal"  stroke="#222" stroke-width="0.1">0</text>
<text x="369.20" y="51.70" font-size="11.0" text-anchor="end" fill="#222" font-weight="normal" font-style="normal"  stroke="#222" stroke-width="0.1">8000</text>
<text x="369.20" y="66.10" font-size="11.0" text-anchor="end" fill="#222" font-weight="normal" font-style="normal"  stroke="#222" stroke-width="0.1">4000</text>
<text x="369.20" y="76.50" font-size="11.0" text-anchor="end" fill="#222" font-weight="normal" font-style="normal"  stroke="#222" stroke-width="0.1">0</text>
<text x="369.20" y="95.60" font-size="11.0" text-anchor="end" fill="#222" font-weight="normal" font-style="normal"  stroke="#222" stroke-width="0.1">4000</text>
<text x="369.20" y="110.00" font-size="11.0" text-anchor="end" fill="#222" font-weight="normal" font-style="normal"  stroke="#222" stroke-width="0.1">0</text>
<polyline points="371.60,36.88 371.73,28.14 371.86,35.26 372.00,31.92 372.13,32.14 372.26,32.59 372.39,29.16 372.53,32.56 372.66,31.36 372.79,39.31 372.92,33.43 373.05,32.33 373.19,32.47 373.32,31.73 373.45,28.96 373.58,32.26 373.72,33.92 373.85,32.55 373.98,34.82 374.11,32.62 374.24,33.05 374.38,38.86 374.51,34.04 374.64,32.04 374.77,32.65 374.91,34.03 375.04,36.68 375.17,32.49 375.30,32.54 375.43,34.90 375.57,31.32 375.70,32.45 375.83,34.68 375.96,34.10 376.10,33.17 376.23,34.27 376.36,27.63 376.49,34.94 376.63,31.18 376.76,29.83 376.89,33.53 377.02,34.33 377.15,32.15 377.29,30.95 377.42,33.05 377.55,32.90 377.68,35.67 377.82,33.16 377.95,33.37 378.08,35.11 378.21,32.61 378.34,27.42 378.48,34.11 378.61,34.11 378.74,32.59 378.87,31.51 379.01,33.44 379.14,28.26 379.27,34.31 379.40,35.91 379.53,29.89 379.67,33.12 379.80,33.51 379.93,34.44 380.06,29.14 380.20,31.26 380.33,34.35 380.46,35.20 380.59,26.53 380.72,32.05 380.86,33.62 380.99,31.84 381.12,36.02 381.25,30.74 381.39,33.67 381.52,31.01 381.65,35.67 381.78,32.96 381.91,30.93 382.05,29.74 382.18,36.20 382.31,34.43 382.44,34.43 382.58,35.16 382.71,33.66 382.84,31.79 382.97,31.48 383.10,31.48 383.24,35.60 383.37,30.23 383.50,31.87 383.63,29.71 383.77,33.43 383.90,34.09 384.03,30.63 384.16,29.71 384.29,32.99 384.43,35.31 384.56,34.44 384.69,33.41 384.82,32.40 384.96,33.56 385.09,32.54 385.22,33.98 385.35,31.49 385.48,33.26 385.62,32.79 385.75,34.03 385.88,33.43 386.01,37.85 386.15,35.85 386.28,35.84 386.41,29.12 386.54,32.35 386.68,31.84 386.81,30.69 386.94,27.78 387.07,35.23 387.20,35.03 387.34,30.53 387.47,31.14 387.60,31.48 387.73,33.08 387.87,34.22 388.00,36.89 388.13,32.62 388.26,34.46 388.39,32.39 388.53,32.63 388.66,34.41 388.79,35.60 388.92,30.95 389.06,32.63 389.19,31.45 389.32,35.86 389.45,34.25 389.58,32.42 389.72,29.89 389.85,33.92 389.98,31.67 390.11,31.23 390.25,36.13 390.38,37.68 390.51,32.53 390.64,31.94 390.77,30.77 390.91,30.46 391.04,34.00 391.17,34.62 391.30,33.02 391.44,33.63 391.57,33.22 391.70,33.26 391.83,30.10 391.96,32.13 392.10,33.21 392.23,31.51 392.36,32.09 392.49,31.44 392.63,32.37 392.76,34.62 392.89,32.23 393.02,32.71 393.15,34.55 393.29,34.23 393.42,36.22 393.55,29.03 393.68,34.63 393.82,32.08 393.95,33.26 394.08,34.59 394.21,35.06 394.34,34.97 394.48,33.29 394.61,32.57 394.74,32.46 394.87,32.73 395.01,34.52 395.14,31.95 395.27,37.11 395.40,34.94 395.53,37.13 395.67,32.95 395.80,32.27 395.93,33.32 396.06,34.40 396.20,31.88 396.33,33.72 396.46,32.97 396.59,36.07 396.73,31.74 396.86,34.99 396.99,31.78 397.12,31.17 397.25,31.65 397.39,30.74 397.52,33.28 397.65,34.52 397.78,33.31 397.92,34.19 398.05,36.10 398.18,33.51 398.31,33.37 398.44,34.03 398.58,29.94 398.71,34.44 398.84,25.89 398.97,34.24 399.11,32.97 399.24,35.14 399.37,32.87 399.50,31.44 399.63,35.44 399.77,31.94 399.90,32.66 400.03,33.08 400.16,32.74 400.30,32.64 400.43,31.42 400.56,32.64 400.69,28.94 400.82,32.70 400.96,32.31 401.09,35.13 401.22,35.41 401.35,29.29 401.49,33.28 401.62,32.76 401.75,31.01 401.88,34.01 402.01,32.12 402.15,29.64 402.28,33.68 402.41,32.72 402.54,33.20 402.68,30.66 402.81,34.17 402.94,34.40 403.07,30.82 403.20,31.75 403.34,32.85 403.47,31.92 403.60,36.31 403.73,33.40 403.87,31.08 404.00,28.08 404.13,35.08 404.26,37.36 404.39,32.66 404.53,29.87 404.66,33.98 404.79,32.92 404.92,37.33 405.06,31.99 405.19,34.41 405.32,33.30 405.45,34.18 405.58,30.76 405.72,36.36 405.85,32.77 405.98,34.90 406.11,31.22 406.25,31.61 406.38,34.07 406.51,34.87 406.64,34.43 406.78,33.07 406.91,34.36 407.04,33.05 407.17,34.59 407.30,34.13 407.44,32.81 407.57,32.19 407.70,35.44 407.83,33.45 407.97,32.32 408.10,34.37 408.23,36.61 408.36,32.60 408.49,32.82 408.63,32.74 408.76,35.32 408.89,29.51 409.02,33.70 409.16,35.27 409.29,31.45 409.42,35.78 409.55,34.02 409.68,31.96 409.82,33.39 409.95,32.71 410.08,31.93 410.21,36.47 410.35,31.30 410.48,36.50 410.61,32.85 410.74,34.89 410.87,33.08 411.01,28.74 411.14,31.91 411.27,33.36 411.40,30.81 411.54,30.44 411.67,33.70 411.80,31.77 411.93,29.78 412.06,31.70 412.20,34.64 412.33,32.10 412.46,34.78 412.59,35.90 412.73,33.06 412.86,30.85 412.99,29.32 413.12,32.95 413.25,34.67 413.39,33.51 413.52,34.04 413.65,32.16 413.78,33.57 413.92,32.10 414.05,32.38 414.18,30.54 414.31,30.01 414.44,32.08 414.58,30.90 414.71,31.18 414.84,34.27 414.97,32.80 415.11,38.54 415.24,36.67 415.37,31.80 415.50,34.48 415.64,33.68 415.77,31.70 415.90,37.19 416.03,31.53 416.16,27.19 416.30,34.51 416.43,31.83 416.56,35.82 416.69,31.77 416.83,30.76 416.96,35.94 417.09,30.96 417.22,33.39 417.35,35.01 417.49,33.22 417.62,32.85 417.75,33.19 417.88,34.59 418.02,31.47 418.15,34.16 418.28,34.10 418.41,37.43 418.54,30.10 418.68,31.26 418.81,34.40 418.94,32.25 419.07,30.26 419.21,33.39 419.34,35.22 419.47,31.75 419.60,32.82 419.73,28.15 419.87,31.31 420.00,35.92 420.13,31.71 420.26,31.67 420.40,30.69 420.53,34.10 420.66,33.34 420.79,30.74 420.92,34.27 421.06,33.49 421.19,34.43 421.32,31.78 421.45,36.30 421.59,33.87 421.72,32.78 421.85,32.01 421.98,32.53 422.11,33.47 422.25,32.49 422.38,31.13 422.51,34.10 422.64,35.56 422.78,34.55 422.91,32.88 423.04,29.37 423.17,29.88 423.30,34.50 423.44,33.31 423.57,34.06 423.70,32.10 423.83,32.28 423.97,31.21 424.10,35.59 424.23,33.30 424.36,32.06 424.49,30.47 424.63,32.71 424.76,35.74 424.89,33.88 425.02,31.62 425.16,35.72 425.29,35.71 425.42,34.86 425.55,34.50 425.69,35.20 425.82,34.03 425.95,34.47 426.08,31.52 426.21,35.85 426.35,33.44 426.48,36.85 426.61,29.12 426.74,34.34 426.88,34.86 427.01,32.35 427.14,30.51 427.27,34.42 427.40,34.10 427.54,31.97 427.67,32.73 427.80,34.94 427.93,35.43 428.07,33.19 428.20,33.15 428.33,33.38 428.46,34.97 428.59,31.00 428.73,30.47 428.86,33.24 428.99,30.90 429.12,31.88 429.26,33.16 429.39,33.92 429.52,30.96 429.65,34.52 429.78,29.63 429.92,34.04 430.05,30.00 430.18,30.58 430.31,34.22 430.45,32.23 430.58,31.49 430.71,32.15 430.84,33.88 430.97,32.90 431.11,32.94 431.24,35.00 431.37,31.64 431.50,33.94 431.64,30.41 431.77,35.22 431.90,34.88 432.03,35.45 432.16,32.94 432.30,28.79 432.43,34.62 432.56,32.25 432.69,37.60 432.83,34.38 432.96,31.67 433.09,32.84 433.22,32.77 433.35,38.46 433.49,37.92 433.62,32.81 433.75,33.03 433.88,28.66 434.02,33.40 434.15,32.99 434.28,30.96 434.41,34.49 434.54,30.03 434.68,32.59 434.81,33.26 434.94,30.63 435.07,34.63 435.21,35.01 435.34,30.37 435.47,30.33 435.60,34.14 435.74,32.94 435.87,30.70 436.00,32.44 436.13,32.80 436.26,32.73 436.40,34.57 436.53,33.73 436.66,36.36 436.79,35.61 436.93,34.29 437.06,35.05 437.19,35.09 437.32,34.34 437.45,30.67 437.59,34.63 437.72,33.14 437.85,37.29 437.98,33.18 438.12,37.39 438.25,33.63 438.38,36.19 438.51,33.71 438.64,32.49 438.78,33.59 438.91,32.16 439.04,33.31 439.17,32.99 439.31,35.93 439.44,36.65 439.57,32.23 439.70,33.07 439.83,32.62 439.97,34.28 440.10,30.76 440.23,31.68 440.36,32.92 440.50,34.04 440.63,32.91 440.76,32.05 440.89,31.35 441.02,34.53 441.16,35.74 441.29,33.61 441.42,33.36 441.55,33.84 441.69,31.21 441.82,32.41 441.95,32.49 442.08,33.56 442.21,33.63 442.35,30.69 442.48,35.14 442.61,36.22 442.74,31.74 442.88,33.76 443.01,36.69 443.14,34.49 443.27,30.19 443.40,36.06 443.54,32.11 443.67,32.19 443.80,33.15 443.93,32.26 444.07,32.73 444.20,34.70 444.33,31.36 444.46,34.45 444.59,32.08 444.73,29.74 444.86,35.47 444.99,34.10 445.12,32.96 445.26,35.21 445.39,29.56 445.52,32.86 445.65,36.28 445.79,34.86 445.92,28.77 446.05,26.67 446.18,28.86 446.31,35.02 446.45,32.10 446.58,32.59 446.71,34.16 446.84,31.32 446.98,33.40 447.11,34.50 447.24,33.89 447.37,33.75 447.50,31.86 447.64,33.98 447.77,32.19 447.90,35.48 448.03,37.88 448.17,31.59 448.30,28.87 448.43,32.19 448.56,33.72 448.69,35.00 448.83,35.05 448.96,31.51 449.09,31.49 449.22,35.41 449.36,30.92 449.49,35.07 449.62,32.57 449.75,34.46 449.88,37.79 450.02,34.48 450.15,34.56 450.28,31.12 450.41,33.57 450.55,33.03 450.68,33.59 450.81,35.34 450.94,32.48 451.07,31.65 451.21,31.62 451.34,32.41 451.47,34.43 451.60,31.45 451.74,35.20 451.87,33.55 452.00,32.57 452.13,30.47 452.26,29.78 452.40,34.31 452.53,29.65 452.66,36.02 452.79,36.13 452.93,33.64 453.06,33.93 453.19,37.59 453.32,35.34 453.45,31.29 453.59,32.97 453.72,32.70 453.85,32.71 453.98,28.51 454.12,34.44 454.25,31.53 454.38,33.31 454.51,32.74 454.65,34.66 454.78,32.44 454.91,29.66 455.04,34.01 455.17,35.67 455.31,32.39 455.44,35.60 455.57,33.50 455.70,31.99 455.84,35.90 455.97,31.44 456.10,34.93 456.23,32.05 456.36,33.33 456.50,30.66 456.63,31.41 456.76,36.85 456.89,33.36 457.03,33.07 457.16,32.16 457.29,33.85 457.42,30.35 457.55,30.87 457.69,32.70 457.82,31.41 457.95,31.67 458.08,32.86 458.22,32.74 458.35,32.58 458.48,36.16 458.61,33.50 458.74,35.34 458.88,32.95 459.01,32.04 459.14,30.24 459.27,32.34 459.41,28.55 459.54,31.89 459.67,34.45 459.80,36.08 459.93,34.83 460.07,31.36 460.20,33.94 460.33,31.50 460.46,34.56 460.60,32.79 460.73,37.95 460.86,37.89 460.99,34.75 461.12,40.52 461.26,29.42 461.39,32.37 461.52,37.21 461.65,36.28 461.79,31.95 461.92,33.15 462.05,30.27 462.18,32.62 462.31,34.69 462.45,32.84 462.58,30.30 462.71,30.33 462.84,33.70 462.98,34.52 463.11,34.13 463.24,33.49 463.37,30.58 463.50,36.35 463.64,32.89 463.77,32.72 463.90,34.39 464.03,28.89 464.17,32.88 464.30,32.74 464.43,33.71 464.56,35.56 464.70,33.90 464.83,29.52 464.96,32.36 465.09,33.39 465.22,33.28 465.36,30.57 465.49,29.84 465.62,34.04 465.75,33.65 465.89,32.96 466.02,29.72 466.15,36.37 466.28,27.49 466.41,32.31 466.55,36.97 466.68,32.70 466.81,33.44 466.94,30.76 467.08,35.58 467.21,30.54 467.34,33.48 467.47,33.26 467.60,31.00 467.74,34.69 467.87,30.31 468.00,31.70 468.13,35.15 468.27,32.22 468.40,33.89 468.53,34.76 468.66,32.44 468.79,31.97 468.93,32.02 469.06,32.95 469.19,34.54 469.32,29.07 469.46,33.77 469.59,33.54 469.72,31.40 469.85,34.64 469.98,31.03 470.12,35.24 470.25,35.83 470.38,30.92 470.51,32.90 470.65,29.99 470.78,32.03 470.91,27.61 471.04,32.31 471.17,31.98 471.31,33.25 471.44,36.01 471.57,33.54 471.70,32.39 471.84,32.90 471.97,32.54 472.10,31.42 472.23,29.58 472.36,33.13 472.50,36.10 472.63,33.90 472.76,31.99 472.89,36.13 473.03,32.18 473.16,31.82 473.29,30.70 473.42,31.17 473.55,32.53 473.69,36.80 473.82,32.61 473.95,31.04 474.08,31.85 474.22,32.58 474.35,29.75 474.48,33.24 474.61,34.33 474.75,33.61 474.88,35.72 475.01,30.55 475.14,29.77 475.27,35.44 475.41,35.08 475.54,30.07 475.67,32.22 475.80,33.28 475.94,34.04 476.07,33.40 476.20,32.05 476.33,33.37 476.46,33.30 476.60,32.91 476.73,29.48 476.86,27.31 476.99,31.50 477.13,29.89 477.26,33.48 477.39,34.36 477.52,33.50 477.65,32.30 477.79,33.13 477.92,35.22 478.05,31.62 478.18,34.75 478.32,34.34 478.45,33.50 478.58,35.76 478.71,31.64 478.84,34.79 478.98,31.23 479.11,31.54 479.24,30.99 479.37,33.85 479.51,31.21 479.64,33.10 479.77,33.58 479.90,35.03 480.03,36.49 480.17,35.98 480.30,36.12 480.43,34.07 480.56,37.12 480.70,33.19 480.83,30.02 480.96,35.83 481.09,33.19 481.22,31.03 481.36,31.75 481.49,27.51 481.62,32.68 481.75,30.96 481.89,35.82 482.02,34.26 482.15,29.85 482.28,30.13 482.41,31.92 482.55,29.34 482.68,32.79 482.81,32.92 482.94,31.53 483.08,31.96 483.21,33.95 483.34,35.70 483.47,35.84 483.61,33.07 483.74,34.63 483.87,31.60 484.00,33.78 484.13,31.18 484.27,34.13 484.40,30.65 484.53,31.17 484.66,32.98 484.80,34.06 484.93,30.27 485.06,31.98 485.19,33.26 485.32,33.44 485.46,28.01 485.59,33.18 485.72,32.49 485.85,35.67 485.99,34.06 486.12,30.48 486.25,28.82 486.38,33.19 486.51,35.25 486.65,33.33 486.78,34.68 486.91,32.08 487.04,30.41 487.18,35.60 487.31,33.19 487.44,34.30 487.57,30.38 487.70,33.34 487.84,31.81 487.97,34.53 488.10,31.90 488.23,31.85 488.37,31.89 488.50,35.40 488.63,33.05 488.76,31.56 488.89,31.06 489.03,31.02 489.16,35.78 489.29,28.46 489.42,31.38 489.56,34.21 489.69,35.24 489.82,32.72 489.95,34.49 490.08,34.44 490.22,34.87 490.35,33.09 490.48,36.14 490.61,33.41 490.75,35.94 490.88,30.94 491.01,34.83 491.14,30.65 491.27,30.20 491.41,34.00 491.54,31.75 491.67,34.08 491.80,31.03 491.94,32.38 492.07,33.09 492.20,30.92 492.33,33.41 492.46,34.76 492.60,35.05 492.73,34.07 492.86,36.98 492.99,34.74 493.13,33.07 493.26,34.91 493.39,34.20 493.52,30.22 493.66,27.33 493.79,31.83 493.92,31.05 494.05,36.42 494.18,33.37 494.32,31.24 494.45,30.90 494.58,34.06 494.71,31.53 494.85,32.01 494.98,32.94 495.11,33.29 495.24,33.31 495.37,33.34 495.51,35.60 495.64,36.36 495.77,29.99 495.90,38.03 496.04,33.38 496.17,36.44 496.30,33.96 496.43,31.65 496.56,33.55 496.70,33.35 496.83,34.76 496.96,34.34 497.09,31.23 497.23,32.92 497.36,34.53 497.49,34.45 497.62,32.50 497.75,32.61 497.89,32.85 498.02,31.04 498.15,30.70 498.28,36.12 498.42,32.39 498.55,33.32 498.68,31.72 498.81,35.61 498.94,36.47 499.08,32.73 499.21,34.12 499.34,31.71 499.47,36.50 499.61,36.81 499.74,31.55 499.87,35.51 500.00,33.83 500.13,33.93 500.27,33.82 500.40,31.87 500.53,32.12 500.66,34.32 500.80,33.04 500.93,31.34 501.06,37.00 501.19,32.74 501.32,32.07 501.46,31.81 501.59,34.44 501.72,34.98 501.85,33.60 501.99,34.78 502.12,30.28 502.25,29.68 502.38,32.24 502.51,33.14 502.65,34.06 502.78,29.25 502.91,39.06 503.04,31.47 503.18,33.78 503.31,34.69 503.44,34.74 503.57,33.57 503.71,27.58 503.84,31.04 503.97,34.55 504.10,31.35 504.23,31.09 504.37,28.62 504.50,35.41 504.63,34.06 504.76,31.39 504.90,32.83 505.03,32.88 505.16,30.95 505.29,32.55 505.42,33.55 505.56,34.11 505.69,35.46 505.82,36.56 505.95,32.17 506.09,33.81 506.22,31.85 506.35,30.67 506.48,35.22 506.61,32.32 506.75,35.92 506.88,34.27 507.01,30.93 507.14,34.26 507.28,33.89 507.41,32.85 507.54,33.79 507.67,31.60 507.80,26.50 507.94,32.50 508.07,31.30 508.20,34.69 508.33,33.54 508.47,32.03 508.60,33.12 508.73,35.61 508.86,35.19 508.99,33.74 509.13,33.85 509.26,32.51 509.39,29.88 509.52,36.62 509.66,32.81 509.79,33.60 509.92,30.91 510.05,29.86 510.18,28.82 510.32,32.20 510.45,35.55 510.58,35.28 510.71,31.14 510.85,30.07 510.98,34.54 511.11,33.11 511.24,30.43 511.37,35.04 511.51,33.36 511.64,35.54 511.77,33.68 511.90,34.72 512.04,33.64 512.17,31.22 512.30,32.59 512.43,31.74 512.56,34.61 512.70,31.13 512.83,30.11 512.96,34.32 513.09,35.21 513.23,35.77 513.36,31.34 513.49,30.16 513.62,31.70 513.76,29.18 513.89,32.98 514.02,28.93 514.15,33.00 514.28,33.55 514.42,31.22 514.55,33.25 514.68,35.29 514.81,33.11 514.95,35.03 515.08,34.95 515.21,33.80 515.34,33.75 515.47,32.32 515.61,35.38 515.74,32.13 515.87,31.70 516.00,34.36 516.14,31.64 516.27,33.83 516.40,35.06 516.53,34.97 516.66,33.22 516.80,34.77 516.93,34.46 517.06,30.10 517.19,30.53 517.33,35.56 517.46,33.77 517.59,29.07 517.72,30.47 517.85,32.52 517.99,31.17 518.12,33.92 518.25,33.18 518.38,33.96 518.52,29.28 518.65,34.21 518.78,36.76 518.91,31.53 519.04,35.53 519.18,34.90 519.31,34.26 519.44,32.92 519.57,30.83 519.71,31.37 519.84,34.49 519.97,34.90 520.10,35.37 520.23,34.87 520.37,34.76 520.50,32.22 520.63,30.75 520.76,33.43 520.90,34.00 521.03,33.21 521.16,30.16 521.29,32.06 521.42,30.24 521.56,33.32 521.69,31.05 521.82,32.73 521.95,33.66 522.09,33.31 522.22,35.65 522.35,30.95 522.48,28.90 522.62,34.84 522.75,35.71 522.88,35.77 523.01,33.59 523.14,34.08 523.28,33.29 523.41,30.78 523.54,31.97 523.67,34.00 523.81,31.96 523.94,36.68 524.07,30.13 524.20,32.23 524.33,35.17 524.47,31.90 524.60,29.69 524.73,26.62 524.86,31.68 525.00,35.93 525.13,33.84 525.26,34.52 525.39,28.13 525.52,34.66 525.66,33.26 525.79,31.31 525.92,32.20 526.05,33.45 526.19,35.29 526.32,32.95 526.45,34.01 526.58,34.16 526.71,31.55 526.85,30.71 526.98,34.93 527.11,31.12 527.24,32.88 527.38,33.57 527.51,32.44 527.64,34.05 527.77,32.43 527.90,34.59 528.04,30.84 528.17,31.51 528.30,33.29 528.43,32.17 528.57,34.39 528.70,32.99 528.83,32.04 528.96,33.47 529.09,32.07 529.23,30.11 529.36,32.87 529.49,31.55 529.62,32.18 529.76,33.26 529.89,34.80 530.02,34.12 530.15,36.50 530.28,35.50 530.42,32.72 530.55,36.22 530.68,35.33 530.81,32.22 530.95,33.68 531.08,35.16 531.21,33.54 531.34,35.02 531.47,33.84 531.61,34.68 531.74,32.48 531.87,33.81 532.00,32.40 532.14,34.37 532.27,29.88 532.40,33.73 532.53,35.46 532.67,34.19 532.80,33.04 532.93,34.11 533.06,31.48 533.19,31.51 533.33,32.41 533.46,32.81 533.59,37.96 533.72,31.39 533.86,34.99 533.99,30.10 534.12,31.59 534.25,33.02 534.38,35.29 534.52,31.92 534.65,29.02 534.78,33.89 534.91,33.03 535.05,33.70 535.18,31.11 535.31,31.77 535.44,33.27 535.57,34.35 535.71,30.28 535.84,37.44 535.97,33.02 536.10,32.38 536.24,34.37 536.37,32.00 536.50,37.53 536.63,35.17 536.76,32.39 536.90,32.34 537.03,32.14 537.16,32.32 537.29,34.36 537.43,31.86 537.56,38.09 537.69,32.93 537.82,32.81 537.95,34.89 538.09,29.32 538.22,31.30 538.35,34.22 538.48,33.10 538.62,33.06 538.75,33.84 538.88,31.94 539.01,32.76 539.14,30.49 539.28,29.52 539.41,35.48 539.54,31.31 539.67,31.72 539.81,35.73 539.94,35.09 540.07,32.08 540.20,32.07 540.33,32.92 540.47,31.26 540.60,30.66 540.73,33.35 540.86,33.32 541.00,34.51 541.13,34.44 541.26,36.57 541.39,35.96 541.52,29.82 541.66,34.78 541.79,30.95 541.92,30.36 542.05,34.42 542.19,31.74 542.32,32.47 542.45,32.98 542.58,31.81 542.72,31.37 542.85,33.69 542.98,35.40 543.11,34.08 543.24,30.12 543.38,31.84 543.51,32.78 543.64,36.74 543.77,34.77 543.91,34.69 544.04,35.36 544.17,32.49 544.30,33.98 544.43,34.00 544.57,32.51 544.70,29.37 544.83,34.14 544.96,31.02 545.10,34.61 545.23,34.51 545.36,35.04 545.49,31.60 545.62,33.28 545.76,35.83 545.89,34.58 546.02,31.57 546.15,33.50 546.29,35.77 546.42,32.93 546.55,33.80 546.68,37.95 546.81,33.00 546.95,32.87 547.08,31.16 547.21,31.82 547.34,35.89 547.48,32.80 547.61,30.27 547.74,31.29 547.87,33.07 548.00,34.52 548.14,31.65 548.27,31.65 548.40,32.13 548.53,30.78 548.67,34.04 548.80,34.20 548.93,32.23 549.06,32.72 549.19,34.00 549.33,32.49 549.46,33.36 549.59,34.01 549.72,35.01 549.86,32.96 549.99,32.67 550.12,33.29 550.25,31.63 550.38,34.30 550.52,33.79 550.65,33.55 550.78,31.71 550.91,32.39 551.05,25.90 551.18,34.52 551.31,31.99 551.44,33.45 551.57,30.91 551.71,32.83 551.84,33.84 551.97,34.85 552.10,30.40 552.24,34.58 552.37,32.67 552.50,30.42 552.63,33.88 552.77,32.41 552.90,32.41 553.03,31.63 553.16,31.67 553.29,33.04 553.43,32.64 553.56,31.15 553.69,31.99 553.82,33.73 553.96,35.39 554.09,32.91 554.22,35.65 554.35,32.94 554.48,30.89 554.62,34.16 554.75,31.13 554.88,33.73 555.01,35.34 555.15,32.38 555.28,32.79 555.41,37.65 555.54,33.42 555.67,33.46 555.81,34.45 555.94,32.78 556.07,32.80 556.20,33.69 556.34,28.42 556.47,35.65 556.60,31.60" fill="none" stroke="#f07a3a" stroke-width="0.7" stroke-linejoin="round" />
<polyline points="371.60,33.78 371.86,33.25 372.13,32.24 372.39,33.35 372.66,33.15 372.92,32.34 373.19,32.56 373.45,33.99 373.72,31.57 373.98,31.63 374.24,33.53 374.51,32.19 374.77,32.66 375.04,33.84 375.30,32.29 375.57,32.28 375.83,32.93 376.10,33.03 376.36,32.45 376.63,33.87 376.89,32.91 377.15,32.81 377.42,33.96 377.68,31.28 377.95,33.39 378.21,32.01 378.48,31.24 378.74,32.11 379.01,32.87 379.27,31.72 379.53,33.44 379.80,33.33 380.06,31.16 380.33,34.66 380.59,32.54 380.86,33.87 381.12,34.81 381.39,33.74 381.65,34.97 381.91,33.83 382.18,31.79 382.44,33.74 382.71,32.63 382.97,32.17 383.24,33.10 383.50,33.59 383.77,34.30 384.03,32.76 384.29,31.90 384.56,32.54 384.82,32.34 385.09,32.28 385.35,33.66 385.62,34.96 385.88,31.63 386.15,31.23 386.41,32.89 386.68,33.40 386.94,32.65 387.20,32.67 387.47,34.25 387.73,33.55 388.00,32.65 388.26,33.03 388.53,33.24 388.79,33.65 389.06,32.08 389.32,33.86 389.58,30.74 389.85,34.01 390.11,31.84 390.38,32.12 390.64,32.58 390.91,33.49 391.17,33.69 391.44,32.61 391.70,32.14 391.96,33.91 392.23,32.03 392.49,33.26 392.76,32.97 393.02,34.35 393.29,32.78 393.55,32.60 393.82,32.63 394.08,32.36 394.34,32.59 394.61,31.12 394.87,33.56 395.14,32.35 395.40,32.57 395.67,33.29 395.93,33.50 396.20,31.22 396.46,32.31 396.73,33.12 396.99,33.41 397.25,31.39 397.52,33.51 397.78,33.22 398.05,31.58 398.31,32.11 398.58,34.24 398.84,32.64 399.11,33.96 399.37,32.09 399.63,33.47 399.90,32.97 400.16,30.31 400.43,31.99 400.69,34.76 400.96,33.29 401.22,35.09 401.49,34.54 401.75,32.92 402.01,31.98 402.28,34.86 402.54,33.65 402.81,32.18 403.07,33.55 403.34,32.71 403.60,33.43 403.87,34.39 404.13,33.83 404.39,34.96 404.66,31.97 404.92,33.14 405.19,30.62 405.45,33.49 405.72,33.18 405.98,33.27 406.25,34.92 406.51,33.54 406.78,34.50 407.04,31.80 407.30,32.78 407.57,33.49 407.83,30.95 408.10,32.42 408.36,33.13 408.63,34.57 408.89,32.27 409.16,32.18 409.42,33.16 409.68,32.28 409.95,33.27 410.21,31.51 410.48,33.15 410.74,35.27 411.01,34.24 411.27,33.06 411.54,34.05 411.80,34.56 412.06,33.99 412.33,32.61 412.59,33.97 412.86,32.21 413.12,32.17 413.39,32.08 413.65,32.11 413.92,34.65 414.18,32.51 414.44,31.30 414.71,34.12 414.97,32.07 415.24,32.41 415.50,34.55 415.77,33.67 416.03,33.24 416.30,33.06 416.56,34.61 416.83,33.08 417.09,32.17 417.35,32.74 417.62,34.30 417.88,33.22 418.15,32.37 418.41,33.20 418.68,33.00 418.94,33.10 419.21,31.85 419.47,32.48 419.73,32.23 420.00,32.07 420.26,31.60 420.53,33.01 420.79,34.66 421.06,32.37 421.32,33.76 421.59,34.13 421.85,32.06 422.11,34.46 422.38,32.74 422.64,33.51 422.91,33.38 423.17,32.30 423.44,33.60 423.70,33.26 423.97,32.85 424.23,33.39 424.49,33.56 424.76,32.78 425.02,31.89 425.29,33.29 425.55,33.39 425.82,33.80 426.08,33.22 426.35,33.25 426.61,31.76 426.88,32.24 427.14,34.46 427.40,32.19 427.67,31.55 427.93,32.98 428.20,34.07 428.46,33.18 428.73,31.38 428.99,32.19 429.26,33.88 429.52,31.71 429.78,34.07 430.05,33.00 430.31,33.34 430.58,33.75 430.84,33.37 431.11,32.79 431.37,32.12 431.64,30.75 431.90,32.85 432.16,31.80 432.43,34.19 432.69,31.87 432.96,31.19 433.22,34.27 433.49,31.95 433.75,32.28 434.02,32.45 434.28,34.24 434.54,33.35 434.81,33.86 435.07,32.83 435.34,34.31 435.60,33.57 435.87,31.67 436.13,33.48 436.40,32.45 436.66,33.52 436.93,33.01 437.19,32.34 437.45,32.84 437.72,33.31 437.98,34.31 438.25,32.13 438.51,32.45 438.78,31.70 439.04,33.66 439.31,31.62 439.57,33.66 439.83,31.63 440.10,33.11 440.36,32.55 440.63,33.81 440.89,31.27 441.16,31.36 441.42,32.55 441.69,33.32 441.95,34.17 442.21,35.09 442.48,33.34 442.74,34.39 443.01,32.24 443.27,34.25 443.54,32.72 443.80,32.16 444.07,32.89 444.33,30.90 444.59,32.33 444.86,31.76 445.12,34.53 445.39,31.66 445.65,31.46 445.92,31.97 446.18,31.51 446.45,32.13 446.71,32.90 446.98,33.20 447.24,31.38 447.50,33.75 447.77,30.35 448.03,32.49 448.30,32.88 448.56,32.04 448.83,30.20 449.09,32.61 449.36,33.97 449.62,34.65 449.88,32.16 450.15,32.49 450.41,33.65 450.68,33.12 450.94,33.25 451.21,32.52 451.47,33.99 451.74,31.58 452.00,32.84 452.26,32.15 452.53,35.31 452.79,33.70 453.06,32.60 453.32,33.30 453.59,34.22 453.85,32.09 454.12,34.89 454.38,33.11 454.65,33.17 454.91,31.18 455.17,31.07 455.44,31.69 455.70,32.78 455.97,32.02 456.23,34.57 456.50,32.79 456.76,31.88 457.03,32.15 457.29,32.75 457.55,33.15 457.82,34.29 458.08,32.15 458.35,32.97 458.61,33.00 458.88,33.06 459.14,32.50 459.41,31.96 459.67,32.22 459.93,33.11 460.20,32.66 460.46,35.12 460.73,33.61 460.99,33.67 461.26,34.72 461.52,31.38 461.79,31.07 462.05,34.13 462.31,34.31 462.58,32.39 462.84,33.04 463.11,33.96 463.37,31.58 463.64,35.52 463.90,31.39 464.17,34.25 464.43,33.68 464.70,32.64 464.96,32.91 465.22,32.71 465.49,31.92 465.75,32.83 466.02,34.90 466.28,31.85 466.55,33.50 466.81,33.22 467.08,32.14 467.34,33.81 467.60,31.75 467.87,34.04 468.13,33.44 468.40,32.82 468.66,34.71 468.93,33.36 469.19,31.56 469.46,33.38 469.72,32.72 469.98,32.86 470.25,32.06 470.51,33.30 470.78,33.51 471.04,33.06 471.31,32.29 471.57,33.15 471.84,33.54 472.10,33.49 472.36,31.84 472.63,35.32 472.89,32.71 473.16,32.49 473.42,32.93 473.69,32.21 473.95,32.91 474.22,32.69 474.48,33.01 474.75,34.39 475.01,33.99 475.27,33.68 475.54,33.16 475.80,32.27 476.07,33.76 476.33,34.54 476.60,33.59 476.86,34.93 477.13,32.21 477.39,32.24 477.65,34.32 477.92,34.08 478.18,32.21 478.45,30.95 478.71,30.84 478.98,35.62 479.24,34.05 479.51,32.31 479.77,33.33 480.03,31.38 480.30,34.66 480.56,33.37 480.83,32.65 481.09,32.42 481.36,32.37 481.62,32.47 481.89,33.71 482.15,32.31 482.41,32.97 482.68,32.46 482.94,32.11 483.21,32.12 483.47,32.53 483.74,34.74 484.00,34.77 484.27,33.88 484.53,31.32 484.80,33.49 485.06,32.24 485.32,31.38 485.59,32.85 485.85,33.15 486.12,32.65 486.38,34.31 486.65,33.57 486.91,33.74 487.18,34.34 487.44,32.06 487.70,32.73 487.97,34.25 488.23,33.65 488.50,33.59 488.76,33.84 489.03,32.68 489.29,32.36 489.56,33.32 489.82,34.08 490.08,31.90 490.35,34.71 490.61,32.47 490.88,33.26 491.14,34.21 491.41,33.39 491.67,32.40 491.94,33.72 492.20,33.17 492.46,33.47 492.73,32.24 492.99,34.10 493.26,32.25 493.52,32.76 493.79,31.40 494.05,33.09 494.32,32.15 494.58,32.87 494.85,31.46 495.11,32.74 495.37,32.03 495.64,31.50 495.90,32.61 496.17,32.33 496.43,32.15 496.70,32.06 496.96,33.53 497.23,33.51 497.49,33.68 497.75,31.98 498.02,33.67 498.28,32.25 498.55,33.49 498.81,32.72 499.08,31.56 499.34,32.66 499.61,34.24 499.87,32.27 500.13,32.36 500.40,32.57 500.66,31.36 500.93,33.82 501.19,32.74 501.46,31.65 501.72,32.81 501.99,33.56 502.25,33.84 502.51,32.51 502.78,33.38 503.04,32.79 503.31,32.82 503.57,33.39 503.84,32.19 504.10,35.01 504.37,34.44 504.63,32.67 504.90,33.13 505.16,32.40 505.42,33.47 505.69,34.02 505.95,32.90 506.22,30.86 506.48,33.13 506.75,34.82 507.01,33.44 507.28,32.92 507.54,33.13 507.80,32.80 508.07,31.80 508.33,34.33 508.60,32.73 508.86,33.30 509.13,31.03 509.39,33.14 509.66,33.31 509.92,33.05 510.18,33.07 510.45,32.40 510.71,31.94 510.98,33.73 511.24,31.88 511.51,32.72 511.77,33.86 512.04,32.69 512.30,33.35 512.56,32.85 512.83,31.12 513.09,30.58 513.36,32.07 513.62,31.99 513.89,33.31 514.15,34.04 514.42,32.77 514.68,33.44 514.95,33.11 515.21,32.70 515.47,32.45 515.74,33.09 516.00,33.59 516.27,32.95 516.53,31.77 516.80,32.63 517.06,32.99 517.33,34.53 517.59,34.20 517.85,32.73 518.12,33.29 518.38,32.91 518.65,31.47 518.91,32.66 519.18,34.22 519.44,32.08 519.71,34.14 519.97,32.95 520.23,30.60 520.50,32.03 520.76,31.90 521.03,34.44 521.29,32.63 521.56,32.31 521.82,33.59 522.09,32.71 522.35,32.78 522.62,32.52 522.88,32.04 523.14,33.14 523.41,32.98 523.67,33.31 523.94,31.88 524.20,32.98 524.47,33.46 524.73,33.73 525.00,32.55 525.26,31.92 525.52,34.98 525.79,33.62 526.05,33.70 526.32,32.55 526.58,33.46 526.85,35.01 527.11,31.90 527.38,32.97 527.64,33.03 527.90,32.45 528.17,33.98 528.43,33.56 528.70,33.87 528.96,32.37 529.23,32.64 529.49,32.48 529.76,33.90 530.02,33.47 530.28,33.81 530.55,32.94 530.81,34.19 531.08,34.07 531.34,30.69 531.61,34.00 531.87,31.46 532.14,33.66 532.40,31.86 532.67,30.08 532.93,32.14 533.19,32.79 533.46,34.50 533.72,32.72 533.99,32.28 534.25,33.67 534.52,32.32 534.78,31.91 535.05,32.12 535.31,32.69 535.57,32.78 535.84,31.39 536.10,33.30 536.37,33.14 536.63,33.31 536.90,33.40 537.16,32.88 537.43,32.88 537.69,33.58 537.95,31.98 538.22,32.42 538.48,32.43 538.75,34.05 539.01,32.58 539.28,34.34 539.54,30.89 539.81,33.96 540.07,33.28 540.33,33.22 540.60,34.24 540.86,32.87 541.13,33.95 541.39,34.13 541.66,33.84 541.92,33.49 542.19,34.51 542.45,30.10 542.72,34.07 542.98,33.25 543.24,32.48 543.51,31.72 543.77,34.38 544.04,32.21 544.30,32.04 544.57,33.15 544.83,33.24 545.10,34.02 545.36,33.16 545.62,33.46 545.89,32.42 546.15,31.37 546.42,32.75 546.68,31.93 546.95,32.22 547.21,33.46 547.48,33.88 547.74,33.03 548.00,33.10 548.27,33.68 548.53,33.52 548.80,34.07 549.06,33.62 549.33,32.45 549.59,33.55 549.86,32.85 550.12,33.44 550.38,34.08 550.65,32.74 550.91,34.43 551.18,33.89 551.44,34.69 551.71,32.79 551.97,33.69 552.24,32.50 552.50,34.33 552.77,33.92 553.03,33.40 553.29,32.84 553.56,32.88 553.82,32.58 554.09,33.25 554.35,33.04 554.62,34.33 554.88,34.28 555.15,33.29 555.41,34.99 555.67,32.69 555.94,33.67 556.20,34.04 556.47,34.21" fill="none" stroke="#f0441a" stroke-width="0.75" stroke-linejoin="round" />
<line x1="377.80" y1="33.00" x2="377.80" y2="19.00" stroke="#f5b4b0" stroke-width="1.3" />
<line x1="386.50" y1="33.00" x2="386.50" y2="15.00" stroke="#f5b4b0" stroke-width="1.3" />
<line x1="388.70" y1="33.00" x2="388.70" y2="17.50" stroke="#f5b4b0" stroke-width="1.3" />
<line x1="399.00" y1="33.00" x2="399.00" y2="18.00" stroke="#f5b4b0" stroke-width="1.3" />
<line x1="409.60" y1="33.00" x2="409.60" y2="21.00" stroke="#f5b4b0" stroke-width="1.3" />
<line x1="415.80" y1="33.00" x2="415.80" y2="16.50" stroke="#f5b4b0" stroke-width="1.3" />
<line x1="416.90" y1="33.00" x2="416.90" y2="19.00" stroke="#f5b4b0" stroke-width="1.3" />
<line x1="425.70" y1="33.00" x2="425.70" y2="13.00" stroke="#f5b4b0" stroke-width="1.3" />
<line x1="431.80" y1="33.00" x2="431.80" y2="25.00" stroke="#f5b4b0" stroke-width="1.3" />
<line x1="433.70" y1="33.00" x2="433.70" y2="15.00" stroke="#f5b4b0" stroke-width="1.3" />
<line x1="437.70" y1="33.00" x2="437.70" y2="13.30" stroke="#f5b4b0" stroke-width="1.3" />
<line x1="444.20" y1="33.00" x2="444.20" y2="11.00" stroke="#f5b4b0" stroke-width="1.3" />
<line x1="447.10" y1="33.00" x2="447.10" y2="5.10" stroke="#f5b4b0" stroke-width="1.3" />
<line x1="451.50" y1="33.00" x2="451.50" y2="20.00" stroke="#f5b4b0" stroke-width="1.3" />
<line x1="454.40" y1="33.00" x2="454.40" y2="16.50" stroke="#f5b4b0" stroke-width="1.3" />
<line x1="458.80" y1="33.00" x2="458.80" y2="18.30" stroke="#f5b4b0" stroke-width="1.3" />
<line x1="463.40" y1="33.00" x2="463.40" y2="19.00" stroke="#f5b4b0" stroke-width="1.3" />
<line x1="466.00" y1="33.00" x2="466.00" y2="14.20" stroke="#f5b4b0" stroke-width="1.3" />
<line x1="479.90" y1="33.00" x2="479.90" y2="17.50" stroke="#f5b4b0" stroke-width="1.3" />
<line x1="485.00" y1="33.00" x2="485.00" y2="14.60" stroke="#f5b4b0" stroke-width="1.3" />
<line x1="486.80" y1="33.00" x2="486.80" y2="13.00" stroke="#f5b4b0" stroke-width="1.3" />
<line x1="489.40" y1="33.00" x2="489.40" y2="13.90" stroke="#f5b4b0" stroke-width="1.3" />
<line x1="491.50" y1="33.00" x2="491.50" y2="12.40" stroke="#f5b4b0" stroke-width="1.3" />
<line x1="493.30" y1="33.00" x2="493.30" y2="16.00" stroke="#f5b4b0" stroke-width="1.3" />
<line x1="496.30" y1="33.00" x2="496.30" y2="12.00" stroke="#f5b4b0" stroke-width="1.3" />
<line x1="499.90" y1="33.00" x2="499.90" y2="15.30" stroke="#f5b4b0" stroke-width="1.3" />
<line x1="506.90" y1="33.00" x2="506.90" y2="12.00" stroke="#f5b4b0" stroke-width="1.3" />
<line x1="520.10" y1="33.00" x2="520.10" y2="4.40" stroke="#f5b4b0" stroke-width="1.3" />
<line x1="523.00" y1="33.00" x2="523.00" y2="7.00" stroke="#f5b4b0" stroke-width="1.3" />
<line x1="525.90" y1="33.00" x2="525.90" y2="7.00" stroke="#f5b4b0" stroke-width="1.3" />
<line x1="532.80" y1="33.00" x2="532.80" y2="12.40" stroke="#f5b4b0" stroke-width="1.3" />
<line x1="535.20" y1="33.00" x2="535.20" y2="21.00" stroke="#f5b4b0" stroke-width="1.3" />
<line x1="539.00" y1="33.00" x2="539.00" y2="14.60" stroke="#f5b4b0" stroke-width="1.3" />
<line x1="541.50" y1="33.00" x2="541.50" y2="23.00" stroke="#f5b4b0" stroke-width="1.3" />
<line x1="545.20" y1="33.00" x2="545.20" y2="12.00" stroke="#f5b4b0" stroke-width="1.3" />
<line x1="549.50" y1="33.00" x2="549.50" y2="18.00" stroke="#f5b4b0" stroke-width="1.3" />
<line x1="551.00" y1="33.00" x2="551.00" y2="6.50" stroke="#f5b4b0" stroke-width="1.3" />
<line x1="554.70" y1="33.00" x2="554.70" y2="11.00" stroke="#f5b4b0" stroke-width="1.3" />
<line x1="377.30" y1="34.00" x2="377.30" y2="24.69" stroke="#e42a22" stroke-width="0.75" />
<line x1="386.00" y1="34.00" x2="386.00" y2="16.95" stroke="#e42a22" stroke-width="0.75" />
<line x1="388.20" y1="34.00" x2="388.20" y2="23.24" stroke="#e42a22" stroke-width="0.75" />
<line x1="398.50" y1="34.00" x2="398.50" y2="22.52" stroke="#e42a22" stroke-width="0.75" />
<line x1="409.10" y1="34.00" x2="409.10" y2="22.80" stroke="#e42a22" stroke-width="0.75" />
<line x1="415.30" y1="34.00" x2="415.30" y2="19.97" stroke="#e42a22" stroke-width="0.75" />
<line x1="416.40" y1="34.00" x2="416.40" y2="19.22" stroke="#e42a22" stroke-width="0.75" />
<line x1="425.20" y1="34.00" x2="425.20" y2="21.83" stroke="#e42a22" stroke-width="0.75" />
<line x1="431.30" y1="34.00" x2="431.30" y2="28.06" stroke="#e42a22" stroke-width="0.75" />
<line x1="433.20" y1="34.00" x2="433.20" y2="22.34" stroke="#e42a22" stroke-width="0.75" />
<line x1="437.20" y1="34.00" x2="437.20" y2="14.12" stroke="#e42a22" stroke-width="0.75" />
<line x1="443.70" y1="34.00" x2="443.70" y2="11.03" stroke="#e42a22" stroke-width="0.75" />
<line x1="446.60" y1="34.00" x2="446.60" y2="16.73" stroke="#e42a22" stroke-width="0.75" />
<line x1="451.00" y1="34.00" x2="451.00" y2="24.23" stroke="#e42a22" stroke-width="0.75" />
<line x1="453.90" y1="34.00" x2="453.90" y2="19.23" stroke="#e42a22" stroke-width="0.75" />
<line x1="458.30" y1="34.00" x2="458.30" y2="19.37" stroke="#e42a22" stroke-width="0.75" />
<line x1="462.90" y1="34.00" x2="462.90" y2="19.69" stroke="#e42a22" stroke-width="0.75" />
<line x1="465.50" y1="34.00" x2="465.50" y2="17.33" stroke="#e42a22" stroke-width="0.75" />
<line x1="479.40" y1="34.00" x2="479.40" y2="23.92" stroke="#e42a22" stroke-width="0.75" />
<line x1="484.50" y1="34.00" x2="484.50" y2="22.43" stroke="#e42a22" stroke-width="0.75" />
<line x1="486.30" y1="34.00" x2="486.30" y2="16.50" stroke="#e42a22" stroke-width="0.75" />
<line x1="488.90" y1="34.00" x2="488.90" y2="22.41" stroke="#e42a22" stroke-width="0.75" />
<line x1="491.00" y1="34.00" x2="491.00" y2="21.22" stroke="#e42a22" stroke-width="0.75" />
<line x1="492.80" y1="34.00" x2="492.80" y2="19.56" stroke="#e42a22" stroke-width="0.75" />
<line x1="495.80" y1="34.00" x2="495.80" y2="19.50" stroke="#e42a22" stroke-width="0.75" />
<line x1="499.40" y1="34.00" x2="499.40" y2="18.25" stroke="#e42a22" stroke-width="0.75" />
<line x1="506.40" y1="34.00" x2="506.40" y2="16.64" stroke="#e42a22" stroke-width="0.75" />
<line x1="519.60" y1="34.00" x2="519.60" y2="6.72" stroke="#e42a22" stroke-width="0.75" />
<line x1="522.50" y1="34.00" x2="522.50" y2="17.82" stroke="#e42a22" stroke-width="0.75" />
<line x1="525.40" y1="34.00" x2="525.40" y2="12.16" stroke="#e42a22" stroke-width="0.75" />
<line x1="532.30" y1="34.00" x2="532.30" y2="18.95" stroke="#e42a22" stroke-width="0.75" />
<line x1="534.70" y1="34.00" x2="534.70" y2="23.58" stroke="#e42a22" stroke-width="0.75" />
<line x1="538.50" y1="34.00" x2="538.50" y2="19.59" stroke="#e42a22" stroke-width="0.75" />
<line x1="541.00" y1="34.00" x2="541.00" y2="27.43" stroke="#e42a22" stroke-width="0.75" />
<line x1="544.70" y1="34.00" x2="544.70" y2="18.34" stroke="#e42a22" stroke-width="0.75" />
<line x1="549.00" y1="34.00" x2="549.00" y2="21.78" stroke="#e42a22" stroke-width="0.75" />
<line x1="550.50" y1="34.00" x2="550.50" y2="7.75" stroke="#e42a22" stroke-width="0.75" />
<line x1="554.20" y1="34.00" x2="554.20" y2="19.97" stroke="#e42a22" stroke-width="0.75" />
<polyline points="371.60,55.08 371.72,50.81 371.85,56.40 371.97,58.01 372.09,59.73 372.22,57.26 372.34,55.67 372.46,55.12 372.59,58.80 372.71,60.92 372.83,57.65 372.96,54.04 373.08,54.70 373.20,60.84 373.33,57.49 373.45,53.18 373.57,56.80 373.70,54.21 373.82,55.49 373.94,55.83 374.07,55.29 374.19,58.33 374.32,56.85 374.44,55.59 374.56,59.11 374.69,58.99 374.81,53.06 374.93,56.38 375.06,54.65 375.18,57.81 375.30,56.07 375.43,57.05 375.55,58.49 375.67,56.27 375.80,54.48 375.92,56.05 376.04,54.38 376.17,53.75 376.29,57.54 376.41,54.34 376.54,59.81 376.66,72.32 376.78,65.81 376.91,71.25 377.03,67.96 377.15,70.68 377.28,70.70 377.40,65.83 377.52,70.04 377.65,69.99 377.77,72.91 377.89,67.76 378.02,72.37 378.14,67.96 378.26,69.80 378.39,68.58 378.51,74.08 378.63,71.96 378.76,76.44 378.88,72.14 379.00,72.63 379.13,72.62 379.25,69.14 379.38,70.43 379.50,73.84 379.62,69.65 379.75,71.05 379.87,70.55 379.99,72.06 380.12,69.72 380.24,70.23 380.36,71.18 380.49,70.85 380.61,68.52 380.73,72.75 380.86,67.48 380.98,67.72 381.10,67.52 381.23,72.92 381.35,69.73 381.47,68.27 381.60,67.87 381.72,71.61 381.84,68.07 381.97,67.55 382.09,72.07 382.21,67.73 382.34,67.00 382.46,70.58 382.58,69.53 382.71,70.47 382.83,73.81 382.95,69.36 383.08,67.58 383.20,66.19 383.32,70.11 383.45,69.75 383.57,71.24 383.69,69.49 383.82,69.45 383.94,68.87 384.06,69.35 384.19,70.98 384.31,69.69 384.44,70.84 384.56,75.16 384.68,71.75 384.81,66.82 384.93,74.76 385.05,71.43 385.18,68.34 385.30,72.78 385.42,70.64 385.55,69.12 385.67,69.08 385.79,68.22 385.92,70.72 386.04,73.17 386.16,69.82 386.29,71.61 386.41,75.10 386.53,70.07 386.66,71.22 386.78,69.86 386.90,68.06 387.03,67.84 387.15,70.56 387.27,71.64 387.40,69.32 387.52,70.73 387.64,72.33 387.77,71.31 387.89,72.68 388.01,71.71 388.14,71.77 388.26,74.98 388.38,72.10 388.51,70.91 388.63,72.30 388.75,68.39 388.88,69.79 389.00,72.50 389.13,72.11 389.25,74.32 389.37,70.63 389.50,67.09 389.62,75.27 389.74,73.22 389.87,68.06 389.99,73.90 390.11,70.68 390.24,66.25 390.36,69.59 390.48,70.21 390.61,74.42 390.73,68.70 390.85,69.99 390.98,67.99 391.10,65.70 391.22,68.41 391.35,69.15 391.47,73.18 391.59,74.81 391.72,68.37 391.84,67.84 391.96,70.89 392.09,68.90 392.21,69.09 392.33,66.57 392.46,75.28 392.58,72.80 392.70,68.26 392.83,72.78 392.95,73.82 393.07,64.87 393.20,69.28 393.32,69.67 393.44,72.16 393.57,70.31 393.69,70.05 393.81,69.08 393.94,75.05 394.06,75.78 394.19,69.34 394.31,65.16 394.43,77.06 394.56,68.25 394.68,69.22 394.80,70.69 394.93,71.76 395.05,73.07 395.17,71.54 395.30,68.51 395.42,71.82 395.54,71.20 395.67,75.10 395.79,70.56 395.91,67.39 396.04,68.09 396.16,74.08 396.28,69.30 396.41,65.55 396.53,69.21 396.65,55.60 396.78,58.45 396.90,53.17 397.02,57.20 397.15,57.51 397.27,53.92 397.39,55.15 397.52,58.47 397.64,59.73 397.76,57.65 397.89,56.40 398.01,58.33 398.13,55.26 398.26,55.37 398.38,53.54 398.50,55.61 398.63,55.40 398.75,62.26 398.87,55.14 399.00,58.65 399.12,57.27 399.25,55.15 399.37,55.98 399.49,50.38 399.62,55.83 399.74,57.66 399.86,49.85 399.99,52.82 400.11,58.13 400.23,54.98 400.36,52.96 400.48,54.70 400.60,54.30 400.73,57.34 400.85,56.69 400.97,54.93 401.10,54.00 401.22,55.12 401.34,58.78 401.47,56.44 401.59,57.13 401.71,55.24 401.84,52.50 401.96,53.89 402.08,57.16 402.21,55.85 402.33,53.43 402.45,51.72 402.58,55.87 402.70,51.43 402.82,54.76 402.95,54.81 403.07,56.28 403.19,56.31 403.32,57.91 403.44,57.83 403.56,58.80 403.69,57.54 403.81,54.51 403.93,55.47 404.06,56.79 404.18,54.86 404.31,55.91 404.43,61.30 404.55,53.68 404.68,51.35 404.80,58.46 404.92,55.64 405.05,57.30 405.17,52.40 405.29,61.34 405.42,57.37 405.54,55.30 405.66,54.76 405.79,55.87 405.91,55.20 406.03,54.93 406.16,52.91 406.28,58.63 406.40,55.51 406.53,55.78 406.65,55.82 406.77,49.94 406.90,56.87 407.02,54.81 407.14,54.91 407.27,55.77 407.39,53.27 407.51,57.62 407.64,53.93 407.76,53.43 407.88,53.53 408.01,55.98 408.13,57.39 408.25,54.17 408.38,51.98 408.50,58.15 408.62,53.04 408.75,58.47 408.87,55.47 408.99,53.92 409.12,54.06 409.24,56.71 409.37,57.73 409.49,57.79 409.61,57.87 409.74,60.61 409.86,55.10 409.98,52.84 410.11,53.07 410.23,52.26 410.35,54.06 410.48,53.86 410.60,52.42 410.72,56.87 410.85,49.33 410.97,52.43 411.09,60.44 411.22,58.09 411.34,56.85 411.46,56.70 411.59,59.85 411.71,56.89 411.83,55.79 411.96,50.56 412.08,55.42 412.20,53.84 412.33,53.91 412.45,53.89 412.57,55.49 412.70,50.83 412.82,57.69 412.94,52.42 413.07,55.19 413.19,60.06 413.31,55.69 413.44,58.48 413.56,58.33 413.68,58.76 413.81,57.37 413.93,52.29 414.05,54.96 414.18,54.69 414.30,51.88 414.43,54.49 414.55,52.60 414.67,51.60 414.80,56.11 414.92,51.58 415.04,53.95 415.17,53.32 415.29,54.30 415.41,54.65 415.54,54.62 415.66,55.47 415.78,54.55 415.91,55.92 416.03,53.90 416.15,54.09 416.28,54.01 416.40,54.12 416.52,56.64 416.65,56.41 416.77,55.50 416.89,49.62 417.02,49.12 417.14,56.41 417.26,56.39 417.39,58.94 417.51,57.33 417.63,56.13 417.76,58.24 417.88,52.18 418.00,57.72 418.13,54.15 418.25,56.81 418.37,56.08 418.50,56.25 418.62,57.74 418.74,54.42 418.87,54.67 418.99,53.55 419.12,54.69 419.24,59.60 419.36,54.73 419.49,58.45 419.61,57.58 419.73,57.35 419.86,57.53 419.98,53.17 420.10,56.50 420.23,59.41 420.35,53.93 420.47,55.49 420.60,53.95 420.72,56.36 420.84,53.01 420.97,59.46 421.09,54.70 421.21,51.90 421.34,59.90 421.46,57.93 421.58,56.84 421.71,56.88 421.83,54.74 421.95,55.06 422.08,57.34 422.20,57.80 422.32,57.84 422.45,56.11 422.57,54.48 422.69,55.14 422.82,58.26 422.94,59.06 423.06,54.78 423.19,54.45 423.31,58.59 423.43,57.34 423.56,57.27 423.68,52.45 423.80,54.70 423.93,54.36 424.05,56.10 424.18,51.56 424.30,60.47 424.42,56.32 424.55,56.64 424.67,52.76 424.79,55.54 424.92,58.80 425.04,51.83 425.16,56.33 425.29,57.28 425.41,53.94 425.53,57.56 425.66,51.94 425.78,58.55 425.90,56.87 426.03,56.14 426.15,60.42 426.27,57.60 426.40,58.74 426.52,52.75 426.64,54.05 426.77,57.61 426.89,57.77 427.01,55.47 427.14,57.47 427.26,53.06 427.38,56.11 427.51,53.30 427.63,56.42 427.75,54.43 427.88,54.06 428.00,55.74 428.12,59.96 428.25,53.17 428.37,54.16 428.49,58.16 428.62,54.58 428.74,59.85 428.86,56.13 428.99,55.82 429.11,56.46 429.24,59.78 429.36,57.17 429.48,56.84 429.61,56.20 429.73,51.85 429.85,53.48 429.98,59.16 430.10,57.57 430.22,53.33 430.35,57.13 430.47,54.30 430.59,54.67 430.72,53.44 430.84,56.54 430.96,53.89 431.09,55.09 431.21,56.69 431.33,54.82 431.46,57.15 431.58,56.69 431.70,56.46 431.83,58.78 431.95,52.06 432.07,51.77 432.20,57.08 432.32,57.86 432.44,64.05 432.57,57.42 432.69,60.71 432.81,53.48 432.94,57.41 433.06,57.22 433.18,53.07 433.31,53.45 433.43,55.33 433.55,56.29 433.68,48.53 433.80,55.77 433.92,56.15 434.05,70.18 434.17,71.24 434.30,71.69 434.42,54.57 434.54,54.48 434.67,56.40 434.79,54.73 434.91,57.50 435.04,60.57 435.16,53.50 435.28,53.03 435.41,53.03 435.53,61.75 435.65,56.40 435.78,56.86 435.90,55.11 436.02,54.74 436.15,52.14 436.27,57.41 436.39,57.62 436.52,55.46 436.64,54.50 436.76,55.21 436.89,56.94 437.01,57.59 437.13,57.18 437.26,60.27 437.38,59.56 437.50,60.22 437.63,54.20 437.75,55.67 437.87,59.74 438.00,57.69 438.12,57.04 438.24,52.25 438.37,52.54 438.49,58.75 438.61,57.82 438.74,56.29 438.86,52.99 438.98,52.86 439.11,57.89 439.23,59.48 439.36,60.94 439.48,57.12 439.60,56.51 439.73,54.37 439.85,59.94 439.97,61.10 440.10,55.53 440.22,57.70 440.34,57.22 440.47,55.62 440.59,51.01 440.71,56.12 440.84,58.46 440.96,53.54 441.08,54.99 441.21,49.12 441.33,73.68 441.45,71.80 441.58,70.71 441.70,55.55 441.82,54.67 441.95,56.01 442.07,55.46 442.19,55.60 442.32,56.12 442.44,56.50 442.56,59.92 442.69,52.72 442.81,56.83 442.93,54.70 443.06,53.47 443.18,50.52 443.30,57.66 443.43,53.82 443.55,54.38 443.67,57.30 443.80,53.58 443.92,56.24 444.04,52.57 444.17,58.10 444.29,58.60 444.42,54.10 444.54,58.38 444.66,55.94 444.79,56.47 444.91,55.67 445.03,58.04 445.16,53.27 445.28,56.80 445.40,59.00 445.53,54.70 445.65,61.04 445.77,54.41 445.90,56.69 446.02,55.02 446.14,54.69 446.27,53.50 446.39,54.88 446.51,56.05 446.64,54.25 446.76,58.29 446.88,59.82 447.01,52.51 447.13,58.18 447.25,56.63 447.38,71.16 447.50,76.48 447.62,73.47 447.75,71.38 447.87,71.02 447.99,65.40 448.12,72.45 448.24,68.80 448.36,71.02 448.49,70.83 448.61,72.90 448.73,75.47 448.86,72.96 448.98,73.66 449.11,70.04 449.23,71.69 449.35,72.45 449.48,67.14 449.60,75.50 449.72,68.88 449.85,67.53 449.97,74.52 450.09,75.68 450.22,68.91 450.34,69.13 450.46,78.07 450.59,70.87 450.71,65.84 450.83,69.13 450.96,75.41 451.08,72.18 451.20,72.41 451.33,73.39 451.45,72.22 451.57,69.80 451.70,66.77 451.82,71.67 451.94,67.92 452.07,70.47 452.19,74.82 452.31,72.25 452.44,70.74 452.56,70.76 452.68,72.35 452.81,72.81 452.93,67.44 453.05,71.05 453.18,74.72 453.30,72.41 453.42,68.76 453.55,68.97 453.67,65.65 453.79,68.70 453.92,74.46 454.04,70.43 454.17,68.55 454.29,69.22 454.41,73.39 454.54,70.34 454.66,69.75 454.78,68.75 454.91,72.13 455.03,74.29 455.15,69.24 455.28,69.30 455.40,73.45 455.52,67.09 455.65,69.18 455.77,69.69 455.89,71.00 456.02,69.94 456.14,68.47 456.26,71.35 456.39,67.75 456.51,66.42 456.63,65.73 456.76,72.40 456.88,66.43 457.00,71.67 457.13,72.21 457.25,72.54 457.37,70.18 457.50,69.28 457.62,70.81 457.74,68.02 457.87,67.51 457.99,73.61 458.11,68.45 458.24,74.91 458.36,71.84 458.48,69.51 458.61,71.65 458.73,73.55 458.85,67.29 458.98,68.38 459.10,68.08 459.23,71.00 459.35,71.57 459.47,70.67 459.60,68.85 459.72,69.33 459.84,72.78 459.97,73.28 460.09,70.92 460.21,67.45 460.34,72.11 460.46,71.29 460.58,71.21 460.71,74.75 460.83,72.57 460.95,68.26 461.08,68.28 461.20,73.91 461.32,71.09 461.45,72.73 461.57,70.34 461.69,68.32 461.82,71.38 461.94,74.49 462.06,71.56 462.19,68.04 462.31,70.01 462.43,69.57 462.56,71.19 462.68,73.24 462.80,75.53 462.93,71.35 463.05,69.79 463.17,71.01 463.30,70.87 463.42,69.81 463.54,70.88 463.67,70.83 463.79,68.01 463.91,72.15 464.04,69.96 464.16,68.47 464.29,72.01 464.41,69.66 464.53,75.01 464.66,71.97 464.78,71.00 464.90,69.00 465.03,69.84 465.15,72.85 465.27,69.15 465.40,72.62 465.52,65.76 465.64,71.27 465.77,72.75 465.89,71.60 466.01,70.77 466.14,73.21 466.26,68.73 466.38,68.42 466.51,71.03 466.63,73.67 466.75,71.82 466.88,70.31 467.00,71.50 467.12,71.84 467.25,67.79 467.37,64.03 467.49,66.04 467.62,63.42 467.74,69.39 467.86,67.89 467.99,68.70 468.11,71.82 468.23,71.02 468.36,70.73 468.48,74.78 468.60,69.69 468.73,69.89 468.85,73.84 468.97,68.14 469.10,66.90 469.22,73.95 469.35,71.63 469.47,72.27 469.59,72.36 469.72,73.00 469.84,69.70 469.96,56.76 470.09,54.27 470.21,57.28 470.33,57.51 470.46,55.87 470.58,58.56 470.70,64.06 470.83,55.62 470.95,58.97 471.07,59.25 471.20,59.55 471.32,55.06 471.44,59.87 471.57,58.58 471.69,56.71 471.81,56.64 471.94,57.61 472.06,59.27 472.18,59.16 472.31,62.54 472.43,56.20 472.55,58.55 472.68,56.03 472.80,58.95 472.92,57.39 473.05,55.64 473.17,53.89 473.29,55.23 473.42,57.65 473.54,60.60 473.66,58.93 473.79,54.20 473.91,55.90 474.03,57.14 474.16,56.73 474.28,57.16 474.41,58.84 474.53,57.45 474.65,55.26 474.78,52.27 474.90,56.06 475.02,55.00 475.15,56.45 475.27,57.57 475.39,53.58 475.52,56.42 475.64,54.41 475.76,64.90 475.89,57.78 476.01,52.14 476.13,57.71 476.26,57.63 476.38,56.14 476.50,55.71 476.63,58.03 476.75,58.17 476.87,57.62 477.00,54.17 477.12,55.95 477.24,52.80 477.37,52.94 477.49,55.18 477.61,53.98 477.74,55.51 477.86,62.44 477.98,57.67 478.11,54.35 478.23,51.27 478.35,56.48 478.48,53.00 478.60,51.15 478.72,58.15 478.85,55.25 478.97,57.46 479.09,63.82 479.22,57.05 479.34,56.68 479.47,57.24 479.59,55.76 479.71,54.42 479.84,55.89 479.96,59.14 480.08,55.76 480.21,53.12 480.33,53.42 480.45,53.94 480.58,56.44 480.70,57.58 480.82,57.58 480.95,59.29 481.07,55.96 481.19,58.47 481.32,57.27 481.44,58.20 481.56,52.10 481.69,73.43 481.81,66.75 481.93,63.90 482.06,70.71 482.18,69.56 482.30,58.55 482.43,54.70 482.55,51.86 482.67,54.71 482.80,53.38 482.92,58.07 483.04,58.26 483.17,56.13 483.29,53.39 483.41,54.57 483.54,56.88 483.66,52.45 483.78,52.46 483.91,56.41 484.03,56.14 484.16,53.82 484.28,53.73 484.40,49.69 484.53,57.22 484.65,54.10 484.77,50.95 484.90,51.68 485.02,52.24 485.14,58.47 485.27,56.04 485.39,51.18 485.51,60.60 485.64,57.60 485.76,51.85 485.88,48.01 486.01,56.71 486.13,52.95 486.25,54.07 486.38,53.14 486.50,57.42 486.62,57.95 486.75,56.34 486.87,54.04 486.99,55.03 487.12,55.89 487.24,50.62 487.36,57.38 487.49,53.64 487.61,55.03 487.73,54.74 487.86,56.58 487.98,56.97 488.10,59.71 488.23,53.57 488.35,52.25 488.47,54.75 488.60,52.86 488.72,56.50 488.84,52.50 488.97,54.76 489.09,56.70 489.22,56.88 489.34,54.94 489.46,57.84 489.59,61.22 489.71,50.38 489.83,52.51 489.96,54.90 490.08,53.75 490.20,52.94 490.33,54.58 490.45,55.40 490.57,55.14 490.70,57.76 490.82,56.87 490.94,53.07 491.07,52.77 491.19,56.52 491.31,55.84 491.44,54.89 491.56,55.63 491.68,56.96 491.81,55.73 491.93,57.96 492.05,53.39 492.18,56.10 492.30,52.92 492.42,54.94 492.55,52.96 492.67,53.60 492.79,48.25 492.92,56.79 493.04,55.37 493.16,54.84 493.29,52.82 493.41,53.70 493.53,55.59 493.66,70.75 493.78,73.48 493.90,70.98 494.03,68.73 494.15,72.16 494.28,69.18 494.40,71.21 494.52,66.35 494.65,69.85 494.77,72.02 494.89,69.12 495.02,70.61 495.14,72.09 495.26,70.84 495.39,74.96 495.51,70.05 495.63,70.24 495.76,70.28 495.88,65.92 496.00,66.99 496.13,71.95 496.25,69.88 496.37,74.00 496.50,70.48 496.62,73.23 496.74,73.13 496.87,71.33 496.99,74.51 497.11,68.13 497.24,71.72 497.36,70.00 497.48,72.00 497.61,73.44 497.73,73.15 497.85,70.77 497.98,69.35 498.10,73.05 498.22,70.82 498.35,60.11 498.47,61.07 498.59,58.32 498.72,55.69 498.84,70.15 498.96,72.66 499.09,70.21 499.21,73.61 499.34,70.89 499.46,71.12 499.58,69.31 499.71,70.58 499.83,73.45 499.95,70.00 500.08,70.02 500.20,68.94 500.32,72.68 500.45,67.15 500.57,69.22 500.69,72.97 500.82,74.19 500.94,70.24 501.06,73.08 501.19,63.22 501.31,72.58 501.43,71.46 501.56,67.82 501.68,66.48 501.80,69.54 501.93,71.37 502.05,71.63 502.17,71.01 502.30,72.59 502.42,72.42 502.54,67.42 502.67,69.82 502.79,69.51 502.91,73.20 503.04,69.14 503.16,73.15 503.28,70.95 503.41,76.36 503.53,70.61 503.65,70.74 503.78,70.46 503.90,71.08 504.02,76.56 504.15,69.52 504.27,68.64 504.40,70.25 504.52,72.34 504.64,68.35 504.77,72.63 504.89,72.55 505.01,70.32 505.14,70.11 505.26,68.82 505.38,70.05 505.51,68.79 505.63,73.69 505.75,74.61 505.88,70.02 506.00,70.60 506.12,66.14 506.25,69.43 506.37,71.51 506.49,71.34 506.62,70.98 506.74,72.71 506.86,70.90 506.99,69.75 507.11,74.52 507.23,66.08 507.36,67.90 507.48,68.91 507.60,68.92 507.73,68.81 507.85,70.12 507.97,68.95 508.10,70.52 508.22,72.06 508.34,70.71 508.47,70.96 508.59,68.40 508.71,67.92 508.84,69.93 508.96,72.85 509.08,71.53 509.21,73.23 509.33,73.00 509.46,73.31 509.58,68.70 509.70,73.59 509.83,72.44 509.95,75.59 510.07,72.03 510.20,71.41 510.32,70.32 510.44,71.02 510.57,66.68 510.69,70.03 510.81,70.54 510.94,72.99 511.06,69.06 511.18,70.94 511.31,74.99 511.43,69.37 511.55,72.64 511.68,69.36 511.80,70.39 511.92,71.73 512.05,72.73 512.17,69.46 512.29,68.19 512.42,74.25 512.54,71.08 512.66,72.52 512.79,72.80 512.91,72.43 513.03,70.01 513.16,70.31 513.28,66.93 513.40,71.06 513.53,69.52 513.65,70.58 513.77,75.07 513.90,72.26 514.02,70.76 514.15,67.40 514.27,72.36 514.39,74.24 514.52,68.68 514.64,71.64 514.76,69.40 514.89,70.27 515.01,67.13 515.13,66.82 515.26,69.42 515.38,66.80 515.50,73.91 515.63,73.09 515.75,70.63 515.87,71.29 516.00,70.76 516.12,71.10 516.24,71.09 516.37,70.06 516.49,70.24 516.61,67.45 516.74,68.26 516.86,69.20 516.98,71.12 517.11,69.75 517.23,75.13 517.35,70.18 517.48,69.79 517.60,71.65 517.72,73.06 517.85,75.00 517.97,72.93 518.09,69.58 518.22,70.24 518.34,73.11 518.46,68.62 518.59,72.52 518.71,70.47 518.83,74.41 518.96,74.05 519.08,73.30 519.21,71.02 519.33,66.86 519.45,67.48 519.58,56.32 519.70,57.09 519.82,48.72 519.95,54.45 520.07,58.27 520.19,57.80 520.32,54.40 520.44,57.06 520.56,55.64 520.69,55.05 520.81,58.20 520.93,58.24 521.06,54.34 521.18,52.47 521.30,51.10 521.43,50.69 521.55,56.88 521.67,59.98 521.80,57.76 521.92,58.05 522.04,53.98 522.17,55.42 522.29,57.74 522.41,56.33 522.54,58.48 522.66,51.69 522.78,52.19 522.91,54.62 523.03,54.29 523.15,55.42 523.28,54.10 523.40,55.08 523.52,55.73 523.65,56.80 523.77,55.75 523.89,54.31 524.02,54.94 524.14,57.71 524.27,55.11 524.39,53.33 524.51,56.90 524.64,56.25 524.76,56.89 524.88,58.44 525.01,54.83 525.13,58.80 525.25,54.77 525.38,51.59 525.50,54.25 525.62,56.80 525.75,58.02 525.87,55.51 525.99,54.40 526.12,55.36 526.24,55.91 526.36,54.76 526.49,55.09 526.61,54.09 526.73,53.52 526.86,54.56 526.98,56.60 527.10,57.79 527.23,55.53 527.35,56.31 527.47,55.09 527.60,55.26 527.72,52.36 527.84,57.61 527.97,56.94 528.09,58.94 528.21,51.23 528.34,55.85 528.46,53.40 528.58,56.11 528.71,55.26 528.83,57.12 528.95,55.21 529.08,57.05 529.20,54.41 529.33,56.94 529.45,54.85 529.57,54.54 529.70,55.76 529.82,56.41 529.94,52.27 530.07,52.03 530.19,55.99 530.31,55.42 530.44,50.83 530.56,51.59 530.68,56.46 530.81,56.30 530.93,56.03 531.05,57.90 531.18,57.11 531.30,61.07 531.42,52.21 531.55,55.47 531.67,58.04 531.79,52.64 531.92,52.28 532.04,56.02 532.16,58.11 532.29,58.48 532.41,51.43 532.53,52.74 532.66,55.34 532.78,54.33 532.90,56.31 533.03,55.88 533.15,59.67 533.27,55.42 533.40,55.76 533.52,55.74 533.64,58.14 533.77,52.98 533.89,56.47 534.01,53.77 534.14,52.27 534.26,58.32 534.39,56.80 534.51,58.84 534.63,56.18 534.76,57.10 534.88,55.91 535.00,56.08 535.13,54.63 535.25,59.58 535.37,53.53 535.50,59.59 535.62,55.14 535.74,57.64 535.87,55.93 535.99,56.66 536.11,56.03 536.24,55.95 536.36,53.41 536.48,56.18 536.61,57.14 536.73,49.88 536.85,57.91 536.98,58.18 537.10,51.48 537.22,55.27 537.35,57.56 537.47,52.91 537.59,54.64 537.72,54.83 537.84,56.94 537.96,58.24 538.09,55.56 538.21,55.78 538.33,57.81 538.46,56.90 538.58,55.37 538.70,58.76 538.83,52.30 538.95,59.96 539.07,58.06 539.20,54.44 539.32,56.09 539.45,55.71 539.57,61.42 539.69,57.14 539.82,56.45 539.94,59.52 540.06,58.02 540.19,51.22 540.31,52.06 540.43,57.38 540.56,54.19 540.68,56.32 540.80,54.54 540.93,56.50 541.05,51.76 541.17,51.00 541.30,54.31 541.42,56.14 541.54,58.75 541.67,54.94 541.79,53.82 541.91,57.76 542.04,55.67 542.16,59.86 542.28,55.38 542.41,50.98 542.53,53.70 542.65,53.33 542.78,52.28 542.90,53.74 543.02,53.94 543.15,54.90 543.27,54.27 543.39,56.54 543.52,71.65 543.64,71.09 543.76,71.13 543.89,66.20 544.01,53.04 544.14,52.37 544.26,55.06 544.38,50.99 544.51,53.46 544.63,55.05 544.75,59.17 544.88,55.08 545.00,53.19 545.12,57.05 545.25,54.94 545.37,53.74 545.49,57.09 545.62,52.26 545.74,54.89 545.86,54.62 545.99,56.58 546.11,51.70 546.23,67.55 546.36,69.69 546.48,69.96 546.60,70.71 546.73,69.71 546.85,71.63 546.97,72.24 547.10,71.13 547.22,68.09 547.34,73.34 547.47,66.94 547.59,70.10 547.71,71.64 547.84,69.12 547.96,73.66 548.08,75.14 548.21,74.33 548.33,71.62 548.45,72.92 548.58,69.36 548.70,71.53 548.82,71.66 548.95,70.80 549.07,70.95 549.20,70.08 549.32,65.90 549.44,71.53 549.57,71.33 549.69,75.47 549.81,72.27 549.94,70.74 550.06,72.66 550.18,72.06 550.31,70.54 550.43,69.67 550.55,67.08 550.68,70.87 550.80,74.46 550.92,66.13 551.05,68.31 551.17,72.38 551.29,71.04 551.42,71.58 551.54,66.14 551.66,69.17 551.79,71.79 551.91,71.99 552.03,71.29 552.16,68.47 552.28,71.87 552.40,67.73 552.53,68.33 552.65,67.80 552.77,74.02 552.90,69.59 553.02,70.71 553.14,65.32 553.27,73.20 553.39,71.69 553.51,66.62 553.64,66.74 553.76,74.54 553.88,68.32 554.01,74.98 554.13,69.45 554.26,64.63 554.38,73.22 554.50,71.77 554.63,72.20 554.75,72.28 554.87,70.06 555.00,76.59 555.12,68.60 555.24,65.86 555.37,72.74 555.49,69.08 555.61,73.62 555.74,69.41 555.86,69.54 555.98,69.96 556.11,64.92 556.23,73.38 556.35,69.06 556.48,70.09 556.60,74.07" fill="none" stroke="#3a7cc2" stroke-width="0.75" stroke-linejoin="round" />
<line x1="398.20" y1="56.00" x2="398.20" y2="41.50" stroke="#3a7cc2" stroke-width="0.8" />
<line x1="398.80" y1="56.00" x2="398.80" y2="46.00" stroke="#3a7cc2" stroke-width="0.7" />
<polyline points="371.60,57.00 376.57,57.00 376.57,70.60 396.57,70.60 396.57,55.60 433.94,55.60 433.94,70.60 434.38,70.60 434.38,57.00 441.24,57.00 441.24,70.60 441.68,70.60 441.68,56.20 447.37,56.20 447.37,70.60 460.00,70.60 460.00,70.60 469.93,70.60 469.93,56.70 481.61,56.70 481.61,70.60 482.19,70.60 482.19,54.40 493.58,54.40 493.58,70.60 498.25,70.60 498.25,57.70 498.83,57.70 498.83,70.60 519.56,70.60 519.56,55.50 543.50,55.50 543.50,70.60 543.94,70.60 543.94,54.40 546.13,54.40 546.13,70.60 556.60,70.60" fill="none" stroke="#d8383a" stroke-width="0.85" stroke-linejoin="round" />
<text x="500.60" y="52.60" font-size="9.2" text-anchor="start" fill="#4a86c0" font-weight="normal" font-style="normal"  stroke="#4a86c0" stroke-width="0.1">30%</text>
<text x="396.40" y="14.40" font-size="9.6" text-anchor="start" fill="#ea9040" font-weight="normal" font-style="normal"  stroke="#ea9040" stroke-width="0.1">18%</text>
<polyline points="371.60,84.71 371.72,85.79 371.85,85.73 371.97,88.45 372.09,83.16 372.22,88.89 372.34,86.82 372.46,91.81 372.59,91.98 372.71,93.16 372.83,91.47 372.96,89.26 373.08,91.72 373.20,93.46 373.33,87.64 373.45,91.05 373.57,89.28 373.70,93.29 373.82,87.14 373.94,88.59 374.07,90.38 374.19,90.10 374.32,84.97 374.44,90.37 374.56,89.08 374.69,88.75 374.81,88.98 374.93,89.99 375.06,84.50 375.18,93.59 375.30,87.07 375.43,83.35 375.55,89.18 375.67,93.34 375.80,88.00 375.92,93.59 376.04,93.60 376.17,87.07 376.29,82.74 376.41,86.07 376.54,92.61 376.66,87.19 376.78,85.32 376.91,85.79 377.03,89.40 377.15,89.33 377.28,91.75 377.40,92.07 377.52,86.88 377.65,88.98 377.77,86.34 377.89,89.59 378.02,86.29 378.14,86.16 378.26,95.13 378.39,89.49 378.51,91.14 378.63,96.25 378.76,91.52 378.88,89.09 379.00,89.55 379.13,87.39 379.25,92.35 379.38,88.51 379.50,94.16 379.62,88.47 379.75,88.45 379.87,88.27 379.99,91.09 380.12,89.90 380.24,93.10 380.36,87.91 380.49,90.18 380.61,94.63 380.73,88.75 380.86,90.84 380.98,93.64 381.10,90.89 381.23,87.69 381.35,83.83 381.47,110.46 381.60,105.16 381.72,107.40 381.84,102.71 381.97,108.91 382.09,105.40 382.21,101.08 382.34,101.57 382.46,104.99 382.58,102.69 382.71,103.40 382.83,99.62 382.95,102.68 383.08,104.43 383.20,100.62 383.32,104.20 383.45,105.79 383.57,103.17 383.69,102.32 383.82,102.33 383.94,90.54 384.06,83.86 384.19,87.19 384.31,86.87 384.44,88.39 384.56,87.81 384.68,101.01 384.81,109.51 384.93,104.48 385.05,100.38 385.18,101.59 385.30,104.26 385.42,105.66 385.55,100.38 385.67,105.92 385.79,83.69 385.92,85.26 386.04,89.70 386.16,91.99 386.29,87.17 386.41,86.56 386.53,90.82 386.66,84.51 386.78,88.15 386.90,88.03 387.03,90.13 387.15,88.21 387.27,86.68 387.40,89.06 387.52,84.36 387.64,89.60 387.77,85.58 387.89,84.94 388.01,86.41 388.14,87.52 388.26,89.32 388.38,86.83 388.51,89.39 388.63,90.03 388.75,87.11 388.88,81.61 389.00,89.57 389.13,88.14 389.25,81.69 389.37,84.73 389.50,92.20 389.62,83.70 389.74,85.56 389.87,82.78 389.99,88.49 390.11,88.05 390.24,87.88 390.36,91.31 390.48,86.45 390.61,86.62 390.73,92.85 390.85,83.89 390.98,89.37 391.10,83.85 391.22,88.04 391.35,93.11 391.47,88.13 391.59,85.32 391.72,93.84 391.84,85.93 391.96,86.84 392.09,88.22 392.21,83.78 392.33,90.41 392.46,91.77 392.58,89.45 392.70,88.29 392.83,88.22 392.95,89.79 393.07,79.50 393.20,87.06 393.32,88.09 393.44,82.04 393.57,88.55 393.69,87.06 393.81,87.31 393.94,87.67 394.06,88.95 394.19,88.64 394.31,84.60 394.43,87.08 394.56,86.91 394.68,87.50 394.80,85.80 394.93,90.02 395.05,90.92 395.17,91.51 395.30,92.55 395.42,91.43 395.54,86.16 395.67,85.74 395.79,86.33 395.91,88.91 396.04,103.65 396.16,106.68 396.28,108.46 396.41,102.84 396.53,106.65 396.65,102.94 396.78,100.58 396.90,100.57 397.02,86.54 397.15,82.27 397.27,88.75 397.39,91.48 397.52,84.25 397.64,86.50 397.76,87.80 397.89,88.34 398.01,87.93 398.13,86.69 398.26,90.15 398.38,88.29 398.50,82.15 398.63,80.83 398.75,80.16 398.87,89.18 399.00,86.68 399.12,91.31 399.25,88.78 399.37,83.97 399.49,88.18 399.62,90.62 399.74,84.97 399.86,86.03 399.99,92.10 400.11,82.68 400.23,84.46 400.36,90.24 400.48,87.94 400.60,84.32 400.73,83.47 400.85,88.65 400.97,90.68 401.10,89.63 401.22,88.51 401.34,91.44 401.47,104.84 401.59,101.75 401.71,109.49 401.84,100.67 401.96,103.64 402.08,103.80 402.21,91.26 402.33,85.34 402.45,86.65 402.58,80.95 402.70,88.31 402.82,88.60 402.95,89.16 403.07,84.90 403.19,104.64 403.32,101.61 403.44,102.71 403.56,103.79 403.69,107.49 403.81,102.81 403.93,87.87 404.06,85.11 404.18,85.85 404.31,85.50 404.43,86.96 404.55,89.46 404.68,84.40 404.80,89.32 404.92,84.81 405.05,104.88 405.17,102.49 405.29,103.16 405.42,102.91 405.54,106.94 405.66,104.65 405.79,90.25 405.91,86.36 406.03,86.70 406.16,91.70 406.28,82.89 406.40,84.97 406.53,103.46 406.65,108.85 406.77,102.29 406.90,106.08 407.02,108.21 407.14,103.30 407.27,86.86 407.39,95.95 407.51,85.84 407.64,84.49 407.76,89.57 407.88,85.94 408.01,90.83 408.13,88.79 408.25,82.59 408.38,88.08 408.50,87.36 408.62,85.54 408.75,90.31 408.87,82.55 408.99,83.94 409.12,85.99 409.24,89.47 409.37,83.16 409.49,85.60 409.61,85.39 409.74,83.24 409.86,86.27 409.98,81.14 410.11,86.08 410.23,88.07 410.35,84.83 410.48,84.93 410.60,84.61 410.72,84.99 410.85,83.04 410.97,84.09 411.09,87.61 411.22,84.90 411.34,96.13 411.46,85.08 411.59,88.52 411.71,83.21 411.83,86.56 411.96,85.80 412.08,87.07 412.20,92.20 412.33,86.84 412.45,100.62 412.57,110.22 412.70,101.29 412.82,103.59 412.94,108.25 413.07,106.51 413.19,106.88 413.31,105.41 413.44,103.91 413.56,83.19 413.68,86.09 413.81,85.94 413.93,89.23 414.05,90.09 414.18,88.69 414.30,85.24 414.43,92.40 414.55,91.23 414.67,86.81 414.80,87.93 414.92,89.13 415.04,87.68 415.17,87.13 415.29,88.73 415.41,87.43 415.54,87.95 415.66,83.05 415.78,83.06 415.91,92.10 416.03,83.29 416.15,88.72 416.28,88.27 416.40,88.00 416.52,85.53 416.65,89.39 416.77,88.35 416.89,86.48 417.02,83.60 417.14,86.78 417.26,85.78 417.39,84.00 417.51,88.43 417.63,88.97 417.76,90.13 417.88,87.74 418.00,86.76 418.13,90.50 418.25,89.51 418.37,92.25 418.50,88.96 418.62,84.92 418.74,85.55 418.87,93.76 418.99,88.21 419.12,86.98 419.24,85.86 419.36,92.65 419.49,86.98 419.61,86.83 419.73,88.32 419.86,83.66 419.98,86.77 420.10,84.08 420.23,87.13 420.35,88.87 420.47,106.63 420.60,103.00 420.72,106.35 420.84,103.07 420.97,92.69 421.09,105.69 421.21,103.59 421.34,104.44 421.46,80.46 421.58,88.14 421.71,88.24 421.83,81.32 421.95,90.39 422.08,86.61 422.20,93.40 422.32,89.57 422.45,89.08 422.57,80.86 422.69,82.29 422.82,91.68 422.94,88.69 423.06,90.15 423.19,86.62 423.31,87.33 423.43,89.25 423.56,85.53 423.68,91.26 423.80,84.69 423.93,88.30 424.05,86.98 424.18,88.68 424.30,91.10 424.42,84.71 424.55,88.98 424.67,88.09 424.79,90.05 424.92,87.71 425.04,86.45 425.16,89.14 425.29,91.39 425.41,90.00 425.53,88.22 425.66,88.95 425.78,81.13 425.90,86.34 426.03,87.12 426.15,86.35 426.27,85.91 426.40,87.68 426.52,88.89 426.64,93.04 426.77,85.91 426.89,85.35 427.01,90.49 427.14,88.22 427.26,85.40 427.38,91.94 427.51,87.24 427.63,86.92 427.75,86.14 427.88,85.31 428.00,88.06 428.12,85.20 428.25,94.41 428.37,88.67 428.49,87.10 428.62,85.67 428.74,88.44 428.86,90.43 428.99,88.38 429.11,84.64 429.24,87.09 429.36,83.23 429.48,91.58 429.61,89.54 429.73,88.26 429.85,88.48 429.98,86.16 430.10,81.61 430.22,90.29 430.35,87.58 430.47,89.28 430.59,88.29 430.72,88.32 430.84,88.56 430.96,90.51 431.09,86.91 431.21,89.54 431.33,85.57 431.46,86.14 431.58,85.78 431.70,90.02 431.83,86.90 431.95,91.03 432.07,84.97 432.20,88.77 432.32,84.61 432.44,90.76 432.57,85.86 432.69,88.97 432.81,85.88 432.94,85.67 433.06,88.39 433.18,83.10 433.31,84.51 433.43,91.81 433.55,85.52 433.68,89.93 433.80,81.05 433.92,83.30 434.05,86.61 434.17,90.07 434.30,87.66 434.42,86.93 434.54,90.03 434.67,85.67 434.79,89.67 434.91,88.56 435.04,84.94 435.16,90.20 435.28,90.74 435.41,87.04 435.53,84.12 435.65,86.94 435.78,84.66 435.90,89.82 436.02,84.96 436.15,89.10 436.27,86.23 436.39,84.89 436.52,89.32 436.64,88.96 436.76,92.64 436.89,87.47 437.01,88.06 437.13,87.97 437.26,86.98 437.38,91.21 437.50,108.32 437.63,106.10 437.75,101.55 437.87,105.49 438.00,104.43 438.12,108.72 438.24,100.09 438.37,90.07 438.49,90.92 438.61,88.52 438.74,88.91 438.86,92.43 438.98,92.91 439.11,88.28 439.23,79.98 439.36,89.61 439.48,88.10 439.60,89.53 439.73,86.29 439.85,84.98 439.97,89.05 440.10,86.87 440.22,87.95 440.34,88.79 440.47,87.94 440.59,83.78 440.71,89.20 440.84,86.33 440.96,87.07 441.08,88.78 441.21,83.71 441.33,86.90 441.45,79.86 441.58,86.10 441.70,88.51 441.82,87.19 441.95,86.80 442.07,89.09 442.19,86.44 442.32,83.20 442.44,90.36 442.56,88.03 442.69,89.57 442.81,86.33 442.93,86.25 443.06,85.41 443.18,82.20 443.30,86.12 443.43,85.75 443.55,91.61 443.67,82.21 443.80,87.41 443.92,86.82 444.04,87.08 444.17,86.87 444.29,87.85 444.42,89.55 444.54,82.78 444.66,89.47 444.79,86.46 444.91,84.54 445.03,82.18 445.16,82.26 445.28,103.56 445.40,100.73 445.53,100.71 445.65,102.41 445.77,103.79 445.90,102.47 446.02,100.69 446.14,102.06 446.27,103.28 446.39,100.92 446.51,106.20 446.64,107.19 446.76,107.26 446.88,102.92 447.01,102.87 447.13,101.33 447.25,107.52 447.38,102.53 447.50,109.68 447.62,98.33 447.75,104.44 447.87,105.19 447.99,103.86 448.12,105.42 448.24,109.23 448.36,103.75 448.49,106.08 448.61,102.67 448.73,100.51 448.86,101.03 448.98,101.96 449.11,104.75 449.23,100.03 449.35,104.75 449.48,105.53 449.60,105.23 449.72,106.96 449.85,100.01 449.97,101.40 450.09,101.06 450.22,104.35 450.34,107.48 450.46,102.78 450.59,104.90 450.71,106.32 450.83,102.75 450.96,106.50 451.08,103.68 451.20,108.76 451.33,107.78 451.45,102.81 451.57,102.58 451.70,109.00 451.82,83.90 451.94,89.37 452.07,85.15 452.19,83.15 452.31,90.92 452.44,87.44 452.56,83.49 452.68,85.63 452.81,84.30 452.93,83.67 453.05,85.99 453.18,89.22 453.30,82.47 453.42,87.61 453.55,82.35 453.67,86.07 453.79,82.37 453.92,82.65 454.04,84.38 454.17,88.89 454.29,88.45 454.41,85.82 454.54,85.33 454.66,86.50 454.78,111.58 454.91,104.92 455.03,103.63 455.15,102.68 455.28,103.14 455.40,105.65 455.52,105.54 455.65,97.54 455.77,109.64 455.89,105.17 456.02,103.72 456.14,111.21 456.26,99.80 456.39,100.60 456.51,107.00 456.63,103.98 456.76,106.37 456.88,107.29 457.00,108.92 457.13,105.78 457.25,102.27 457.37,99.46 457.50,104.35 457.62,99.23 457.74,104.14 457.87,98.19 457.99,105.01 458.11,105.86 458.24,103.87 458.36,100.26 458.48,104.38 458.61,102.02 458.73,104.82 458.85,102.74 458.98,110.29 459.10,102.49 459.23,98.76 459.35,101.50 459.47,104.20 459.60,111.49 459.72,107.77 459.84,102.37 459.97,103.99 460.09,100.71 460.21,100.01 460.34,106.52 460.46,105.09 460.58,101.93 460.71,102.02 460.83,105.12 460.95,105.81 461.08,101.79 461.20,99.32 461.32,106.41 461.45,101.97 461.57,99.00 461.69,103.45 461.82,104.54 461.94,106.58 462.06,106.34 462.19,104.72 462.31,100.52 462.43,105.23 462.56,99.78 462.68,105.83 462.80,104.43 462.93,99.83 463.05,102.26 463.17,108.47 463.30,101.09 463.42,99.49 463.54,103.18 463.67,104.42 463.79,106.19 463.91,103.57 464.04,102.70 464.16,103.33 464.29,106.06 464.41,103.48 464.53,105.48 464.66,99.11 464.78,102.99 464.90,103.73 465.03,109.53 465.15,105.22 465.27,104.55 465.40,106.91 465.52,104.44 465.64,112.53 465.77,101.51 465.89,104.32 466.01,108.99 466.14,106.12 466.26,104.85 466.38,106.75 466.51,102.74 466.63,104.33 466.75,104.49 466.88,109.29 467.00,104.91 467.12,109.67 467.25,103.95 467.37,104.75 467.49,99.40 467.62,105.73 467.74,98.65 467.86,105.85 467.99,112.48 468.11,105.12 468.23,101.17 468.36,103.24 468.48,96.80 468.60,102.05 468.73,104.64 468.85,104.01 468.97,102.99 469.10,113.00 469.22,104.93 469.35,103.97 469.47,104.49 469.59,101.07 469.72,103.48 469.84,98.63 469.96,96.44 470.09,102.98 470.21,106.45 470.33,100.93 470.46,104.98 470.58,99.17 470.70,103.85 470.83,103.97 470.95,103.90 471.07,100.00 471.20,105.42 471.32,105.82 471.44,105.40 471.57,108.63 471.69,102.98 471.81,104.47 471.94,107.26 472.06,100.31 472.18,101.48 472.31,106.95 472.43,103.03 472.55,106.15 472.68,105.31 472.80,100.29 472.92,104.37 473.05,101.16 473.17,102.21 473.29,96.76 473.42,104.56 473.54,104.65 473.66,103.50 473.79,102.18 473.91,104.62 474.03,104.14 474.16,106.37 474.28,102.07 474.41,87.66 474.53,86.32 474.65,88.47 474.78,83.71 474.90,91.06 475.02,84.89 475.15,84.30 475.27,87.97 475.39,91.49 475.52,82.47 475.64,87.20 475.76,89.35 475.89,111.36 476.01,99.97 476.13,107.11 476.26,102.06 476.38,103.15 476.50,106.64 476.63,104.20 476.75,83.35 476.87,86.45 477.00,85.99 477.12,87.53 477.24,83.51 477.37,85.14 477.49,86.10 477.61,87.08 477.74,86.55 477.86,88.17 477.98,88.74 478.11,87.88 478.23,85.20 478.35,82.78 478.48,84.57 478.60,88.92 478.72,86.24 478.85,89.41 478.97,86.70 479.09,84.31 479.22,83.31 479.34,86.54 479.47,86.16 479.59,83.96 479.71,82.38 479.84,85.88 479.96,87.87 480.08,87.38 480.21,82.87 480.33,85.62 480.45,86.27 480.58,84.18 480.70,86.56 480.82,85.06 480.95,89.29 481.07,85.02 481.19,91.18 481.32,89.55 481.44,87.88 481.56,87.58 481.69,90.70 481.81,85.94 481.93,88.07 482.06,86.28 482.18,91.11 482.30,86.15 482.43,86.29 482.55,79.83 482.67,87.63 482.80,85.99 482.92,88.49 483.04,82.99 483.17,84.60 483.29,90.49 483.41,101.88 483.54,104.49 483.66,101.03 483.78,104.17 483.91,104.13 484.03,107.23 484.16,102.53 484.28,105.52 484.40,103.24 484.53,100.93 484.65,104.10 484.77,107.57 484.90,103.52 485.02,102.10 485.14,103.43 485.27,102.68 485.39,105.37 485.51,101.28 485.64,106.42 485.76,105.11 485.88,107.31 486.01,102.76 486.13,106.54 486.25,101.30 486.38,88.63 486.50,86.39 486.62,83.97 486.75,89.14 486.87,93.46 486.99,91.84 487.12,88.23 487.24,86.36 487.36,91.00 487.49,84.44 487.61,87.39 487.73,83.00 487.86,87.39 487.98,87.70 488.10,85.91 488.23,89.83 488.35,86.66 488.47,88.29 488.60,88.46 488.72,86.67 488.84,80.07 488.97,85.88 489.09,87.43 489.22,101.24 489.34,104.13 489.46,99.95 489.59,105.68 489.71,105.66 489.83,108.56 489.96,102.67 490.08,104.76 490.20,100.56 490.33,101.85 490.45,105.11 490.57,102.13 490.70,103.28 490.82,103.89 490.94,106.83 491.07,82.62 491.19,82.92 491.31,82.54 491.44,79.96 491.56,84.94 491.68,79.50 491.81,82.21 491.93,87.92 492.05,84.43 492.18,79.50 492.30,79.50 492.42,88.90 492.55,83.62 492.67,89.39 492.79,82.88 492.92,79.50 493.04,85.09 493.16,85.04 493.29,85.13 493.41,81.52 493.53,81.46 493.66,82.76 493.78,81.48 493.90,86.67 494.03,87.38 494.15,83.77 494.28,86.91 494.40,82.47 494.52,83.51 494.65,79.84 494.77,87.75 494.89,82.91 495.02,87.77 495.14,87.76 495.26,85.81 495.39,85.04 495.51,81.63 495.63,86.77 495.76,86.11 495.88,87.45 496.00,85.42 496.13,81.17 496.25,81.42 496.37,87.02 496.50,88.93 496.62,83.81 496.74,84.31 496.87,85.37 496.99,89.19 497.11,85.31 497.24,83.79 497.36,85.01 497.48,82.94 497.61,84.17 497.73,83.68 497.85,84.60 497.98,82.75 498.10,85.24 498.22,81.46 498.35,102.17 498.47,101.10 498.59,104.70 498.72,105.66 498.84,102.93 498.96,101.51 499.09,105.19 499.21,104.60 499.34,99.67 499.46,106.53 499.58,106.41 499.71,103.21 499.83,103.71 499.95,103.61 500.08,102.59 500.20,102.27 500.32,101.91 500.45,103.03 500.57,104.23 500.69,99.28 500.82,102.43 500.94,84.83 501.06,86.95 501.19,86.79 501.31,87.62 501.43,88.50 501.56,85.34 501.68,88.87 501.80,83.44 501.93,90.57 502.05,87.83 502.17,90.16 502.30,82.87 502.42,91.74 502.54,87.22 502.67,88.91 502.79,87.58 502.91,87.83 503.04,86.76 503.16,88.31 503.28,97.23 503.41,93.08 503.53,86.41 503.65,91.70 503.78,90.63 503.90,89.06 504.02,87.76 504.15,89.74 504.27,86.40 504.40,87.25 504.52,86.72 504.64,86.15 504.77,85.87 504.89,89.80 505.01,89.99 505.14,86.00 505.26,88.00 505.38,87.67 505.51,83.50 505.63,90.27 505.75,85.24 505.88,91.28 506.00,81.93 506.12,86.13 506.25,90.30 506.37,89.43 506.49,89.62 506.62,88.15 506.74,93.83 506.86,88.46 506.99,84.88 507.11,86.33 507.23,86.14 507.36,92.02 507.48,107.64 507.60,102.80 507.73,102.43 507.85,107.33 507.97,104.19 508.10,106.60 508.22,99.07 508.34,104.47 508.47,104.02 508.59,104.16 508.71,102.22 508.84,103.89 508.96,108.81 509.08,101.07 509.21,103.81 509.33,103.16 509.46,103.27 509.58,108.91 509.70,108.31 509.83,103.01 509.95,105.45 510.07,101.78 510.20,104.89 510.32,103.00 510.44,108.04 510.57,105.26 510.69,101.15 510.81,99.13 510.94,100.97 511.06,109.78 511.18,101.36 511.31,100.15 511.43,102.17 511.55,102.68 511.68,105.70 511.80,101.95 511.92,108.57 512.05,104.05 512.17,104.86 512.29,107.91 512.42,103.14 512.54,104.92 512.66,105.79 512.79,102.05 512.91,102.57 513.03,105.89 513.16,101.91 513.28,102.47 513.40,89.59 513.53,88.66 513.65,87.97 513.77,83.93 513.90,92.42 514.02,86.62 514.15,86.17 514.27,86.54 514.39,84.73 514.52,86.28 514.64,92.47 514.76,82.91 514.89,93.11 515.01,84.41 515.13,84.41 515.26,93.31 515.38,92.21 515.50,85.90 515.63,89.24 515.75,84.85 515.87,85.98 516.00,84.89 516.12,87.28 516.24,85.14 516.37,87.26 516.49,85.94 516.61,86.87 516.74,87.04 516.86,85.00 516.98,85.77 517.11,83.67 517.23,88.17 517.35,88.80 517.48,85.78 517.60,85.99 517.72,85.26 517.85,85.51 517.97,87.14 518.09,82.15 518.22,82.78 518.34,86.91 518.46,89.12 518.59,84.82 518.71,88.87 518.83,89.27 518.96,87.00 519.08,92.75 519.21,88.39 519.33,89.07 519.45,85.63 519.58,85.93 519.70,88.99 519.82,95.05 519.95,88.12 520.07,88.53 520.19,88.96 520.32,90.70 520.44,84.05 520.56,90.78 520.69,101.35 520.81,104.94 520.93,105.73 521.06,99.80 521.18,100.50 521.30,103.73 521.43,102.10 521.55,108.37 521.67,100.10 521.80,99.43 521.92,104.02 522.04,104.68 522.17,87.90 522.29,90.05 522.41,82.11 522.54,91.20 522.66,88.98 522.78,85.59 522.91,85.28 523.03,89.80 523.15,104.63 523.28,101.78 523.40,103.87 523.52,103.68 523.65,106.52 523.77,102.68 523.89,106.38 524.02,103.94 524.14,103.81 524.27,105.13 524.39,102.39 524.51,99.84 524.64,99.28 524.76,106.46 524.88,99.01 525.01,89.53 525.13,84.81 525.25,89.70 525.38,84.23 525.50,87.57 525.62,87.25 525.75,88.86 525.87,85.69 525.99,87.98 526.12,91.04 526.24,83.10 526.36,89.59 526.49,83.94 526.61,89.44 526.73,85.79 526.86,90.74 526.98,86.15 527.10,85.48 527.23,89.68 527.35,86.20 527.47,86.32 527.60,89.47 527.72,90.76 527.84,89.24 527.97,81.78 528.09,87.86 528.21,87.75 528.34,91.48 528.46,89.85 528.58,89.78 528.71,90.80 528.83,92.54 528.95,86.68 529.08,85.30 529.20,83.72 529.33,86.10 529.45,89.26 529.57,90.95 529.70,90.97 529.82,87.17 529.94,85.75 530.07,91.32 530.19,86.68 530.31,90.32 530.44,81.18 530.56,83.70 530.68,85.82 530.81,101.43 530.93,104.90 531.05,104.45 531.18,104.83 531.30,101.84 531.42,98.67 531.55,102.45 531.67,108.22 531.79,108.80 531.92,106.63 532.04,101.93 532.16,100.29 532.29,104.44 532.41,106.67 532.53,99.55 532.66,102.58 532.78,105.70 532.90,103.27 533.03,103.17 533.15,106.05 533.27,104.40 533.40,104.45 533.52,102.60 533.64,104.69 533.77,102.59 533.89,107.78 534.01,95.62 534.14,104.26 534.26,105.92 534.39,101.39 534.51,105.56 534.63,102.03 534.76,105.83 534.88,108.42 535.00,103.31 535.13,109.96 535.25,103.88 535.37,97.41 535.50,102.84 535.62,104.28 535.74,104.53 535.87,103.87 535.99,104.95 536.11,103.39 536.24,107.50 536.36,104.78 536.48,103.53 536.61,108.85 536.73,85.85 536.85,84.21 536.98,87.43 537.10,82.39 537.22,90.64 537.35,88.46 537.47,94.97 537.59,91.78 537.72,87.38 537.84,91.11 537.96,91.00 538.09,91.08 538.21,87.71 538.33,87.70 538.46,90.76 538.58,88.86 538.70,91.79 538.83,92.32 538.95,88.52 539.07,90.83 539.20,84.10 539.32,93.60 539.45,93.43 539.57,89.80 539.69,88.77 539.82,88.24 539.94,90.10 540.06,89.26 540.19,87.71 540.31,84.54 540.43,92.75 540.56,84.31 540.68,88.11 540.80,87.27 540.93,86.40 541.05,89.40 541.17,83.52 541.30,88.30 541.42,91.71 541.54,91.84 541.67,91.25 541.79,90.34 541.91,91.66 542.04,89.87 542.16,90.78 542.28,91.45 542.41,93.52 542.53,92.30 542.65,91.93 542.78,85.51 542.90,90.27 543.02,89.99 543.15,88.09 543.27,86.74 543.39,91.28 543.52,89.73 543.64,88.68 543.76,86.53 543.89,87.45 544.01,88.06 544.14,90.29 544.26,93.87 544.38,89.97 544.51,81.17 544.63,90.57 544.75,90.65 544.88,86.65 545.00,85.81 545.12,89.39 545.25,91.37 545.37,90.45 545.49,93.53 545.62,88.95 545.74,89.33 545.86,86.94 545.99,94.80 546.11,89.83 546.23,90.76 546.36,83.13 546.48,84.43 546.60,90.20 546.73,86.51 546.85,88.06 546.97,88.36 547.10,91.13 547.22,86.98 547.34,89.21 547.47,86.58 547.59,87.56 547.71,91.37 547.84,84.45 547.96,87.13 548.08,82.43 548.21,90.01 548.33,89.69 548.45,96.93 548.58,88.09 548.70,93.59 548.82,92.11 548.95,92.30 549.07,87.10 549.20,92.52 549.32,81.84 549.44,90.48 549.57,87.18 549.69,87.08 549.81,86.34 549.94,90.07 550.06,86.37 550.18,89.55 550.31,93.81 550.43,87.18 550.55,89.40 550.68,87.49 550.80,85.55 550.92,90.67 551.05,92.41 551.17,87.29 551.29,89.23 551.42,88.71 551.54,87.08 551.66,91.32 551.79,83.67 551.91,93.11 552.03,87.61 552.16,93.83 552.28,90.42 552.40,88.84 552.53,89.14 552.65,85.48 552.77,86.71 552.90,87.04 553.02,91.43 553.14,85.55 553.27,96.20 553.39,88.95 553.51,90.08 553.64,86.60 553.76,87.83 553.88,90.35 554.01,82.82 554.13,86.37 554.26,89.53 554.38,84.96 554.50,92.83 554.63,90.49 554.75,87.60 554.87,88.13 555.00,100.78 555.12,103.77 555.24,96.11 555.37,103.47 555.49,108.10 555.61,97.84 555.74,103.97 555.86,102.02 555.98,103.06 556.11,100.36 556.23,106.19 556.35,104.28 556.48,106.17 556.60,106.45" fill="none" stroke="#7ce83c" stroke-width="0.85" stroke-linejoin="round" />
<polyline points="371.60,89.40 381.39,89.40 381.39,104.00 383.87,104.00 383.87,88.00 384.60,88.00 384.60,104.00 385.77,104.00 385.77,87.40 395.99,87.40 395.99,104.00 397.01,104.00 397.01,87.40 401.39,87.40 401.39,104.00 402.12,104.00 402.12,87.40 403.14,87.40 403.14,104.00 403.87,104.00 403.87,87.40 405.04,87.40 405.04,104.00 405.77,104.00 405.77,87.40 406.50,87.40 406.50,104.00 407.23,104.00 407.23,87.40 412.34,87.40 412.34,104.00 413.50,104.00 413.50,87.40 420.36,87.40 420.36,104.00 421.39,104.00 421.39,87.40 437.45,87.40 437.45,104.00 438.32,104.00 438.32,87.40 445.18,87.40 445.18,104.00 451.75,104.00 451.75,86.20 454.67,86.20 454.67,104.00 460.00,104.00 460.00,104.00 474.31,104.00 474.31,87.00 475.77,87.00 475.77,104.00 476.64,104.00 476.64,87.00 483.36,87.00 483.36,104.00 486.28,104.00 486.28,87.00 489.20,87.00 489.20,104.00 490.95,104.00 490.95,84.50 498.25,84.50 498.25,104.00 500.88,104.00 500.88,88.40 507.45,88.40 507.45,104.00 513.28,104.00 513.28,87.00 519.12,87.00 519.12,89.00 520.58,89.00 520.58,104.00 522.04,104.00 522.04,89.00 523.07,89.00 523.07,104.00 524.96,104.00 524.96,87.00 530.80,87.00 530.80,104.00 536.64,104.00 536.64,89.40 554.89,89.40 554.89,104.00 556.60,104.00" fill="none" stroke="#e04040" stroke-width="0.7" stroke-linejoin="round" />
<text x="453.4" y="89.6" font-size="9.3" fill="#8ee060" opacity="0.9" stroke="#8ee060" stroke-width="0.1">72%</text>
<rect x="371.60" y="2.60" width="185.00" height="37.00" fill="none" stroke="#555" stroke-width="0.8"/>
<line x1="402.43" y1="2.60" x2="402.43" y2="4.60" stroke="#555" stroke-width="0.6" />
<line x1="402.43" y1="39.60" x2="402.43" y2="37.60" stroke="#555" stroke-width="0.6" />
<line x1="433.27" y1="2.60" x2="433.27" y2="4.60" stroke="#555" stroke-width="0.6" />
<line x1="433.27" y1="39.60" x2="433.27" y2="37.60" stroke="#555" stroke-width="0.6" />
<line x1="464.10" y1="2.60" x2="464.10" y2="4.60" stroke="#555" stroke-width="0.6" />
<line x1="464.10" y1="39.60" x2="464.10" y2="37.60" stroke="#555" stroke-width="0.6" />
<line x1="494.93" y1="2.60" x2="494.93" y2="4.60" stroke="#555" stroke-width="0.6" />
<line x1="494.93" y1="39.60" x2="494.93" y2="37.60" stroke="#555" stroke-width="0.6" />
<line x1="525.77" y1="2.60" x2="525.77" y2="4.60" stroke="#555" stroke-width="0.6" />
<line x1="525.77" y1="39.60" x2="525.77" y2="37.60" stroke="#555" stroke-width="0.6" />
<rect x="371.60" y="40.80" width="185.00" height="37.40" fill="none" stroke="#555" stroke-width="0.8"/>
<line x1="402.43" y1="40.80" x2="402.43" y2="42.80" stroke="#555" stroke-width="0.6" />
<line x1="402.43" y1="78.20" x2="402.43" y2="76.20" stroke="#555" stroke-width="0.6" />
<line x1="433.27" y1="40.80" x2="433.27" y2="42.80" stroke="#555" stroke-width="0.6" />
<line x1="433.27" y1="78.20" x2="433.27" y2="76.20" stroke="#555" stroke-width="0.6" />
<line x1="464.10" y1="40.80" x2="464.10" y2="42.80" stroke="#555" stroke-width="0.6" />
<line x1="464.10" y1="78.20" x2="464.10" y2="76.20" stroke="#555" stroke-width="0.6" />
<line x1="494.93" y1="40.80" x2="494.93" y2="42.80" stroke="#555" stroke-width="0.6" />
<line x1="494.93" y1="78.20" x2="494.93" y2="76.20" stroke="#555" stroke-width="0.6" />
<line x1="525.77" y1="40.80" x2="525.77" y2="42.80" stroke="#555" stroke-width="0.6" />
<line x1="525.77" y1="78.20" x2="525.77" y2="76.20" stroke="#555" stroke-width="0.6" />
<rect x="371.60" y="78.60" width="185.00" height="36.30" fill="none" stroke="#555" stroke-width="0.8"/>
<line x1="402.43" y1="78.60" x2="402.43" y2="80.60" stroke="#555" stroke-width="0.6" />
<line x1="402.43" y1="114.90" x2="402.43" y2="112.90" stroke="#555" stroke-width="0.6" />
<line x1="433.27" y1="78.60" x2="433.27" y2="80.60" stroke="#555" stroke-width="0.6" />
<line x1="433.27" y1="114.90" x2="433.27" y2="112.90" stroke="#555" stroke-width="0.6" />
<line x1="464.10" y1="78.60" x2="464.10" y2="80.60" stroke="#555" stroke-width="0.6" />
<line x1="464.10" y1="114.90" x2="464.10" y2="112.90" stroke="#555" stroke-width="0.6" />
<line x1="494.93" y1="78.60" x2="494.93" y2="80.60" stroke="#555" stroke-width="0.6" />
<line x1="494.93" y1="114.90" x2="494.93" y2="112.90" stroke="#555" stroke-width="0.6" />
<line x1="525.77" y1="78.60" x2="525.77" y2="80.60" stroke="#555" stroke-width="0.6" />
<line x1="525.77" y1="114.90" x2="525.77" y2="112.90" stroke="#555" stroke-width="0.6" />
<line x1="371.60" y1="9.20" x2="373.60" y2="9.20" stroke="#555" stroke-width="0.6" />
<line x1="556.60" y1="9.20" x2="554.60" y2="9.20" stroke="#555" stroke-width="0.6" />
<line x1="371.60" y1="15.60" x2="373.60" y2="15.60" stroke="#555" stroke-width="0.6" />
<line x1="556.60" y1="15.60" x2="554.60" y2="15.60" stroke="#555" stroke-width="0.6" />
<line x1="371.60" y1="22.20" x2="373.60" y2="22.20" stroke="#555" stroke-width="0.6" />
<line x1="556.60" y1="22.20" x2="554.60" y2="22.20" stroke="#555" stroke-width="0.6" />
<line x1="371.60" y1="28.70" x2="373.60" y2="28.70" stroke="#555" stroke-width="0.6" />
<line x1="556.60" y1="28.70" x2="554.60" y2="28.70" stroke="#555" stroke-width="0.6" />
<line x1="371.60" y1="35.20" x2="373.60" y2="35.20" stroke="#555" stroke-width="0.6" />
<line x1="556.60" y1="35.20" x2="554.60" y2="35.20" stroke="#555" stroke-width="0.6" />
<line x1="371.60" y1="47.60" x2="373.60" y2="47.60" stroke="#555" stroke-width="0.6" />
<line x1="556.60" y1="47.60" x2="554.60" y2="47.60" stroke="#555" stroke-width="0.6" />
<line x1="371.60" y1="54.80" x2="373.60" y2="54.80" stroke="#555" stroke-width="0.6" />
<line x1="556.60" y1="54.80" x2="554.60" y2="54.80" stroke="#555" stroke-width="0.6" />
<line x1="371.60" y1="62.00" x2="373.60" y2="62.00" stroke="#555" stroke-width="0.6" />
<line x1="556.60" y1="62.00" x2="554.60" y2="62.00" stroke="#555" stroke-width="0.6" />
<line x1="371.60" y1="69.20" x2="373.60" y2="69.20" stroke="#555" stroke-width="0.6" />
<line x1="556.60" y1="69.20" x2="554.60" y2="69.20" stroke="#555" stroke-width="0.6" />
<line x1="371.60" y1="91.20" x2="373.60" y2="91.20" stroke="#555" stroke-width="0.6" />
<line x1="556.60" y1="91.20" x2="554.60" y2="91.20" stroke="#555" stroke-width="0.6" />
<line x1="371.60" y1="98.40" x2="373.60" y2="98.40" stroke="#555" stroke-width="0.6" />
<line x1="556.60" y1="98.40" x2="554.60" y2="98.40" stroke="#555" stroke-width="0.6" />
<line x1="371.60" y1="105.60" x2="373.60" y2="105.60" stroke="#555" stroke-width="0.6" />
<line x1="556.60" y1="105.60" x2="554.60" y2="105.60" stroke="#555" stroke-width="0.6" />
<text x="371.60" y="126.20" font-size="11.2" text-anchor="middle" fill="#222" font-weight="normal" font-style="normal"  stroke="#222" stroke-width="0.1">0</text>
<text x="433.27" y="126.20" font-size="11.2" text-anchor="middle" fill="#222" font-weight="normal" font-style="normal"  stroke="#222" stroke-width="0.1">100</text>
<text x="494.93" y="126.20" font-size="11.2" text-anchor="middle" fill="#222" font-weight="normal" font-style="normal"  stroke="#222" stroke-width="0.1">200</text>
<text x="556.60" y="126.20" font-size="11.2" text-anchor="middle" fill="#222" font-weight="normal" font-style="normal"  stroke="#222" stroke-width="0.1">300</text>
<text x="463.60" y="137.00" font-size="11.5" text-anchor="middle" fill="#222" font-weight="normal" font-style="normal"  stroke="#222" stroke-width="0.1">Time (s)</text>
<text x="0" y="0" font-size="11.5" fill="#222" text-anchor="middle" transform="translate(338.9,61.3) rotate(-90)" stroke="#222" stroke-width="0.1">Fluorescence</text>
<text x="564.60" y="12.20" font-size="13.0" text-anchor="start" fill="#111" font-weight="bold" font-style="normal" >D</text>
<circle cx="650.80" cy="60.30" r="19.60" fill="#d2f5b0" stroke="#c8d4e8" stroke-width="0.6"/>
<circle cx="653.00" cy="44.20" r="14.60" fill="#4b8ccc" opacity="0.92"/>
<clipPath id="clipG"><circle cx="650.8" cy="60.3" r="19.6"/></clipPath>
<circle cx="653.00" cy="44.20" r="14.60" fill="#4fa878" clip-path="url(#clipG)"/>
<circle cx="620.60" cy="55.40" r="10.40" fill="#ec8455" />
<text x="652.90" y="40.80" font-size="8.8" text-anchor="middle" fill="#1a1a1a" font-weight="normal" font-style="normal"  stroke="#1a1a1a" stroke-width="0.1">10%</text>
<text x="652.90" y="53.80" font-size="8.8" text-anchor="middle" fill="#1a1a1a" font-weight="normal" font-style="normal"  stroke="#1a1a1a" stroke-width="0.1">20%</text>
<text x="648.60" y="74.80" font-size="8.8" text-anchor="middle" fill="#1a1a1a" font-weight="normal" font-style="normal"  stroke="#1a1a1a" stroke-width="0.1">52%</text>
<text x="620.60" y="59.20" font-size="8.8" text-anchor="middle" fill="#1a1a1a" font-weight="normal" font-style="normal"  stroke="#1a1a1a" stroke-width="0.1">18%</text>
<text x="619.20" y="16.60" font-size="8.7" text-anchor="middle" fill="#222" font-weight="normal" font-style="normal"  stroke="#222" stroke-width="0.1">only long lived 3’ NS</text>
<text x="618.40" y="26.00" font-size="8.7" text-anchor="middle" fill="#222" font-weight="normal" font-style="normal"  stroke="#222" stroke-width="0.1">binding</text>
<text x="599.80" y="76.00" font-size="8.6" text-anchor="middle" fill="#222" font-weight="normal" font-style="normal"  stroke="#222" stroke-width="0.1">Transient 3’NS</text>
<text x="599.40" y="85.20" font-size="8.6" text-anchor="middle" fill="#222" font-weight="normal" font-style="normal"  stroke="#222" stroke-width="0.1">binding</text>
<text x="645.40" y="101.80" font-size="8.6" text-anchor="middle" fill="#222" font-weight="normal" font-style="normal"  stroke="#222" stroke-width="0.1">only 5’S binding</text>
<line x1="643.40" y1="21.40" x2="647.52" y2="26.66" stroke="#111" stroke-width="1.3" />
<path d="M650.60,30.60 L645.55,28.20 L649.49,25.12 Z" fill="#111" stroke="none" stroke-width="1" />
<line x1="603.40" y1="68.60" x2="608.11" y2="65.28" stroke="#111" stroke-width="1.3" />
<path d="M612.20,62.40 L609.55,67.32 L606.67,63.24 Z" fill="#111" stroke="none" stroke-width="1" />
<line x1="650.00" y1="92.00" x2="648.35" y2="83.51" stroke="#111" stroke-width="1.3" />
<path d="M647.40,78.60 L650.81,83.03 L645.90,83.98 Z" fill="#111" stroke="none" stroke-width="1" />
<text x="127.20" y="149.90" font-size="13.0" text-anchor="start" fill="#111" font-weight="bold" font-style="normal" >F</text>
<line x1="169.60" y1="138.80" x2="179.40" y2="138.80" stroke="#44ee33" stroke-width="1.8" />
<text x="181.80" y="142.00" font-size="7.9" text-anchor="start" fill="#222" font-weight="normal" font-style="normal"  stroke="#222" stroke-width="0.1">Cy3 signal</text>
<line x1="230.40" y1="138.80" x2="240.10" y2="138.80" stroke="#ea3c3c" stroke-width="1.8" />
<text x="243.60" y="142.00" font-size="7.9" text-anchor="start" fill="#222" font-weight="normal" font-style="normal"  stroke="#222" stroke-width="0.1">Cy5 signal</text>
<polyline points="168.40,163.76 168.71,169.06 169.02,167.00 169.33,161.81 169.64,171.24 169.95,173.38 170.25,171.48 170.56,165.49 170.87,170.73 171.18,162.78 171.49,163.05 171.80,168.29 172.11,163.20 172.42,167.75 172.73,168.04 173.04,162.19 173.34,166.64 173.65,160.35 173.96,162.69 174.27,169.70 174.58,160.96 174.89,163.46 175.20,163.78 175.51,167.91 175.82,169.08 176.13,161.55 176.44,164.35 176.74,161.44 177.05,169.63 177.36,167.99 177.67,164.62 177.98,162.49 178.29,172.77 178.60,162.85 178.91,168.59 179.22,163.74 179.53,163.68 179.84,164.68 180.14,167.56 180.45,163.20 180.76,168.36 181.07,161.46 181.38,164.25 181.69,161.68 182.00,166.25 182.31,161.26 182.62,161.29 182.93,169.72 183.23,173.20 183.54,163.35 183.85,168.85 184.16,167.92 184.47,158.94 184.78,171.77 185.09,169.13 185.40,173.22 185.71,162.11 186.02,162.04 186.33,162.04 186.63,161.55 186.94,161.50 187.25,163.13 187.56,162.49 187.87,169.64 188.18,172.97 188.49,170.63 188.80,170.05 189.11,160.57 189.42,163.49 189.72,161.83 190.03,163.66 190.34,161.75 190.65,163.74 190.96,162.84 191.27,171.54 191.58,165.10 191.89,162.43 192.20,175.39 192.51,173.02 192.82,172.84 193.12,173.68 193.43,172.22 193.74,175.18 194.05,174.70 194.36,174.37 194.67,173.23 194.98,174.44 195.29,174.87 195.60,174.10 195.91,173.01 196.22,171.04 196.52,174.73 196.83,172.91 197.14,172.22 197.45,174.65 197.76,173.87 198.07,176.46 198.38,170.61 198.69,173.02 199.00,174.79 199.31,170.75 199.61,172.86 199.92,173.21 200.23,175.39 200.54,171.88 200.85,169.28 201.16,171.46 201.47,172.78 201.78,174.53 202.09,175.83 202.40,173.96 202.71,172.28 203.01,174.64 203.32,173.38 203.63,173.12 203.94,173.42 204.25,175.18 204.56,172.14 204.87,171.97 205.18,173.31 205.49,173.31 205.80,172.26 206.10,172.17 206.41,173.93 206.72,175.27 207.03,174.40 207.34,174.36 207.65,175.14 207.96,170.61 208.27,171.29 208.58,172.41 208.89,171.73 209.20,172.01 209.50,173.50 209.81,171.60 210.12,172.78 210.43,170.54 210.74,172.04 211.05,175.28 211.36,172.64 211.67,173.85 211.98,174.39 212.29,173.32 212.59,174.21 212.90,173.70 213.21,174.38 213.52,172.51 213.83,171.38 214.14,171.97 214.45,172.62 214.76,174.15 215.07,173.11 215.38,172.84 215.69,173.15 215.99,174.94 216.30,172.59 216.61,175.52 216.92,171.68 217.23,172.57 217.54,174.60 217.85,174.12 218.16,172.20 218.47,170.76 218.78,172.41 219.09,174.59 219.39,174.16 219.70,172.40 220.01,173.96 220.32,170.94 220.63,173.30 220.94,173.49 221.25,172.61 221.56,174.00 221.87,163.94 222.18,163.90 222.48,164.85 222.79,167.27 223.10,161.22 223.41,162.62 223.72,163.58 224.03,163.33 224.34,164.11 224.65,164.43 224.96,163.14 225.27,163.15 225.58,161.92 225.88,164.75 226.19,162.93 226.50,161.78 226.81,161.74 227.12,162.72 227.43,165.48 227.74,164.38 228.05,160.93 228.36,163.13 228.67,163.67 228.97,164.18 229.28,163.78 229.59,162.40 229.90,163.88 230.21,162.52 230.52,160.16 230.83,167.60 231.14,162.34 231.45,164.64 231.76,164.78 232.07,161.84 232.37,163.54 232.68,163.43 232.99,164.44 233.30,160.43 233.61,163.17 233.92,163.49 234.23,162.47 234.54,159.50 234.85,163.26 235.16,162.49 235.47,162.05 235.77,162.85 236.08,161.72 236.39,164.08 236.70,164.45 237.01,162.52 237.32,169.26 237.63,163.26 237.94,161.17 238.25,163.10 238.56,162.66 238.86,160.86 239.17,164.23 239.48,163.90 239.79,162.43 240.10,165.27 240.41,165.68 240.72,162.87 241.03,164.07 241.34,166.09 241.65,162.84 241.96,162.04 242.26,160.45 242.57,161.38 242.88,162.60 243.19,163.59 243.50,166.59 243.81,160.86 244.12,163.98 244.43,162.23 244.74,163.03 245.05,162.92 245.35,162.36 245.66,162.13 245.97,163.74 246.28,163.10 246.59,163.77 246.90,164.70 247.21,164.72 247.52,161.74 247.83,162.10 248.14,162.94 248.45,163.47 248.75,164.61 249.06,161.95 249.37,162.69 249.68,163.65 249.99,165.02 250.30,165.23 250.61,161.89 250.92,163.00 251.23,162.17 251.54,164.49 251.85,163.93 252.15,162.80 252.46,162.44 252.77,163.71 253.08,164.67 253.39,162.23 253.70,166.68 254.01,168.33 254.32,163.33 254.63,163.77 254.94,161.90 255.24,162.47 255.55,160.36 255.86,163.38 256.17,164.80 256.48,160.42 256.79,162.42 257.10,164.56 257.41,163.10 257.72,160.65 258.03,164.94 258.34,161.30 258.64,165.22 258.95,162.48 259.26,162.31 259.57,163.34 259.88,163.27 260.19,164.14 260.50,164.00 260.81,163.04 261.12,165.15 261.43,164.30 261.73,163.68 262.04,163.49 262.35,163.17 262.66,163.19 262.97,166.07 263.28,163.96 263.59,163.36 263.90,164.72 264.21,157.60 264.52,163.91 264.83,157.60 265.13,161.74 265.44,162.64 265.75,165.64 266.06,161.96 266.37,165.51 266.68,161.82 266.99,163.87 267.30,161.81 267.61,162.44 267.92,162.77 268.23,162.53 268.53,164.71 268.84,164.47 269.15,164.52 269.46,160.89 269.77,165.59 270.08,164.74 270.39,163.75 270.70,161.83 271.01,164.26 271.32,164.21 271.62,163.43 271.93,164.30 272.24,171.20 272.55,162.88 272.86,163.27 273.17,163.79 273.48,163.74 273.79,162.82 274.10,162.65 274.41,167.17 274.72,165.30 275.02,166.56 275.33,162.78 275.64,161.82 275.95,162.82 276.26,162.13 276.57,162.72 276.88,163.86 277.19,162.02 277.50,164.15 277.81,164.41 278.11,165.42 278.42,165.85 278.73,165.44 279.04,166.47 279.35,162.60 279.66,163.69 279.97,163.54 280.28,163.91 280.59,164.73 280.90,162.85 281.21,165.70 281.51,165.09 281.82,163.79 282.13,163.96 282.44,167.85 282.75,159.83 283.06,163.19 283.37,163.75 283.68,163.63 283.99,161.77 284.30,163.64 284.61,165.76 284.91,164.33 285.22,164.17 285.53,162.88 285.84,164.35 286.15,165.11 286.46,164.37 286.77,162.75 287.08,163.71 287.39,162.09 287.70,162.89 288.00,164.14 288.31,162.57 288.62,163.00 288.93,165.32 289.24,163.08 289.55,164.39 289.86,173.60 290.17,172.44 290.48,174.03 290.79,173.52 291.10,171.22 291.40,172.35 291.71,173.44 292.02,176.07 292.33,173.22 292.64,173.98 292.95,174.90 293.26,174.43 293.57,173.55 293.88,176.38 294.19,175.88 294.49,170.63 294.80,175.36 295.11,172.75 295.42,177.73 295.73,174.14 296.04,175.17 296.35,176.12 296.66,176.40 296.97,176.51 297.28,175.48 297.59,175.30 297.89,175.33 298.20,175.72 298.51,177.18 298.82,174.35 299.13,180.91 299.44,174.19 299.75,174.68 300.06,171.08 300.37,174.34 300.68,172.26 300.98,172.65 301.29,171.44 301.60,171.64 301.91,179.49 302.22,173.34 302.53,173.88 302.84,173.78 303.15,172.40 303.46,177.20 303.77,172.27 304.08,173.58 304.38,170.93 304.69,173.47 305.00,176.40 305.31,175.69 305.62,175.60 305.93,174.70 306.24,172.61 306.55,175.27 306.86,174.73 307.17,174.38 307.48,172.32 307.78,174.55 308.09,175.97 308.40,175.04 308.71,173.69 309.02,174.76 309.33,171.84 309.64,174.25 309.95,175.18 310.26,174.48 310.57,174.10 310.87,174.54 311.18,172.86 311.49,172.62 311.80,174.68 312.11,173.18 312.42,174.78 312.73,171.44 313.04,175.67 313.35,173.86 313.66,176.32 313.97,170.56 314.27,171.66 314.58,175.96 314.89,179.13 315.20,174.43 315.51,174.18 315.82,174.23 316.13,174.75 316.44,172.60 316.75,173.77 317.06,175.82 317.36,174.26 317.67,173.14 317.98,174.14 318.29,175.46 318.60,172.29 318.91,173.76 319.22,174.69 319.53,175.19 319.84,176.06 320.15,173.83 320.46,174.49 320.76,180.95 321.07,171.36 321.38,174.21 321.69,176.61 322.00,173.90 322.31,172.83 322.62,174.83 322.93,175.75 323.24,173.90 323.55,173.35 323.86,173.72 324.16,176.19 324.47,175.76 324.78,174.09 325.09,172.50 325.40,172.27 325.71,175.83 326.02,173.59 326.33,174.40 326.64,172.46 326.95,177.55 327.25,174.78 327.56,171.68 327.87,177.24 328.18,174.84 328.49,174.77 328.80,172.22" fill="none" stroke="#3cf01e" stroke-width="1.15" stroke-linejoin="round" />
<polyline points="168.40,171.36 168.71,171.10 169.02,170.56 169.33,174.29 169.64,170.67 169.95,175.16 170.25,171.36 170.56,173.48 170.87,171.85 171.18,170.75 171.49,171.41 171.80,173.61 172.11,171.43 172.42,168.86 172.73,174.43 173.04,170.65 173.34,170.67 173.65,173.83 173.96,165.79 174.27,170.94 174.58,172.61 174.89,172.60 175.20,172.52 175.51,170.98 175.82,173.05 176.13,171.02 176.44,171.95 176.74,170.32 177.05,174.23 177.36,171.13 177.67,171.58 177.98,170.88 178.29,172.27 178.60,169.71 178.91,171.55 179.22,171.36 179.53,174.09 179.84,171.36 180.14,171.42 180.45,169.36 180.76,173.23 181.07,174.71 181.38,172.37 181.69,172.48 182.00,174.13 182.31,171.82 182.62,172.37 182.93,169.49 183.23,171.51 183.54,170.58 183.85,174.99 184.16,172.91 184.47,172.77 184.78,170.24 185.09,171.91 185.40,170.70 185.71,170.70 186.02,169.70 186.33,170.75 186.63,175.66 186.94,170.82 187.25,172.75 187.56,173.16 187.87,172.43 188.18,172.87 188.49,170.25 188.80,174.05 189.11,173.63 189.42,171.80 189.72,170.68 190.03,170.49 190.34,169.74 190.65,172.64 190.96,172.99 191.27,174.27 191.58,169.78 191.89,174.55 192.20,153.16 192.51,151.73 192.82,158.34 193.12,148.61 193.43,155.43 193.74,150.20 194.05,151.22 194.36,151.32 194.67,151.89 194.98,152.35 195.29,149.99 195.60,147.29 195.91,148.80 196.22,148.77 196.52,151.08 196.83,150.92 197.14,148.97 197.45,151.77 197.76,147.94 198.07,155.79 198.38,152.63 198.69,148.31 199.00,151.57 199.31,152.22 199.61,149.98 199.92,150.91 200.23,146.50 200.54,154.59 200.85,151.27 201.16,149.82 201.47,151.29 201.78,150.09 202.09,153.70 202.40,150.59 202.71,153.37 203.01,155.72 203.32,147.20 203.63,150.33 203.94,151.95 204.25,149.70 204.56,149.79 204.87,149.90 205.18,153.83 205.49,148.35 205.80,151.75 206.10,153.69 206.41,157.71 206.72,150.71 207.03,151.28 207.34,151.35 207.65,150.12 207.96,150.43 208.27,150.32 208.58,154.46 208.89,153.44 209.20,155.05 209.50,153.66 209.81,149.33 210.12,151.76 210.43,149.57 210.74,150.83 211.05,150.50 211.36,147.80 211.67,150.27 211.98,151.24 212.29,151.09 212.59,147.25 212.90,148.49 213.21,151.56 213.52,149.12 213.83,155.82 214.14,151.10 214.45,151.14 214.76,150.38 215.07,149.47 215.38,151.05 215.69,150.31 215.99,152.89 216.30,150.89 216.61,151.02 216.92,155.38 217.23,153.55 217.54,147.61 217.85,153.60 218.16,148.36 218.47,149.13 218.78,150.20 219.09,149.46 219.39,153.37 219.70,150.70 220.01,148.96 220.32,150.09 220.63,149.46 220.94,149.63 221.25,151.24 221.56,151.46 221.87,170.62 222.18,168.88 222.48,169.90 222.79,168.51 223.10,171.65 223.41,170.38 223.72,175.31 224.03,168.06 224.34,169.82 224.65,170.91 224.96,171.32 225.27,172.44 225.58,170.98 225.88,171.31 226.19,171.09 226.50,169.27 226.81,170.58 227.12,173.00 227.43,171.94 227.74,170.40 228.05,170.88 228.36,173.45 228.67,173.24 228.97,173.68 229.28,172.81 229.59,170.67 229.90,170.59 230.21,168.46 230.52,172.80 230.83,174.30 231.14,170.47 231.45,169.73 231.76,173.48 232.07,171.73 232.37,171.12 232.68,171.32 232.99,169.20 233.30,170.82 233.61,169.44 233.92,170.20 234.23,171.25 234.54,170.22 234.85,172.00 235.16,169.89 235.47,170.11 235.77,170.08 236.08,171.25 236.39,171.33 236.70,172.44 237.01,170.49 237.32,169.96 237.63,171.39 237.94,173.65 238.25,172.29 238.56,168.17 238.86,171.14 239.17,170.38 239.48,170.69 239.79,172.22 240.10,171.07 240.41,170.84 240.72,168.60 241.03,170.83 241.34,169.88 241.65,171.36 241.96,172.60 242.26,169.68 242.57,170.65 242.88,171.90 243.19,168.55 243.50,169.93 243.81,168.82 244.12,170.06 244.43,170.83 244.74,170.46 245.05,173.11 245.35,174.54 245.66,171.26 245.97,172.66 246.28,173.84 246.59,170.43 246.90,170.73 247.21,171.50 247.52,172.58 247.83,167.98 248.14,170.90 248.45,175.01 248.75,171.05 249.06,173.89 249.37,174.72 249.68,172.18 249.99,174.49 250.30,171.10 250.61,168.41 250.92,170.32 251.23,173.25 251.54,175.08 251.85,169.65 252.15,168.61 252.46,171.06 252.77,168.04 253.08,171.18 253.39,173.50 253.70,169.66 254.01,168.17 254.32,170.34 254.63,170.52 254.94,171.94 255.24,171.58 255.55,172.19 255.86,169.53 256.17,172.87 256.48,172.04 256.79,169.72 257.10,172.61 257.41,170.07 257.72,165.49 258.03,173.98 258.34,172.00 258.64,171.15 258.95,172.79 259.26,170.81 259.57,170.81 259.88,173.04 260.19,169.49 260.50,169.72 260.81,168.48 261.12,170.53 261.43,172.61 261.73,170.24 262.04,173.35 262.35,170.22 262.66,171.35 262.97,169.39 263.28,172.11 263.59,174.09 263.90,170.56 264.21,158.00 264.52,170.86 264.83,158.00 265.13,169.74 265.44,173.95 265.75,169.04 266.06,171.88 266.37,173.18 266.68,171.45 266.99,174.89 267.30,171.74 267.61,170.36 267.92,170.27 268.23,173.79 268.53,168.29 268.84,171.35 269.15,169.75 269.46,170.29 269.77,172.26 270.08,169.63 270.39,168.57 270.70,172.79 271.01,172.88 271.32,171.00 271.62,169.56 271.93,169.40 272.24,171.42 272.55,171.58 272.86,171.66 273.17,171.92 273.48,170.89 273.79,171.83 274.10,170.84 274.41,171.46 274.72,170.54 275.02,171.34 275.33,169.46 275.64,170.55 275.95,169.12 276.26,171.74 276.57,169.96 276.88,169.83 277.19,169.88 277.50,169.56 277.81,169.39 278.11,171.74 278.42,171.62 278.73,172.23 279.04,169.93 279.35,171.24 279.66,167.86 279.97,172.20 280.28,169.30 280.59,172.78 280.90,171.92 281.21,174.05 281.51,171.63 281.82,169.86 282.13,174.19 282.44,172.85 282.75,172.64 283.06,173.61 283.37,170.85 283.68,167.35 283.99,170.59 284.30,170.03 284.61,171.89 284.91,170.32 285.22,171.79 285.53,169.62 285.84,172.65 286.15,171.88 286.46,169.84 286.77,173.02 287.08,173.27 287.39,171.86 287.70,170.04 288.00,171.48 288.31,171.10 288.62,170.26 288.93,170.82 289.24,170.70 289.55,167.31 289.86,164.72 290.17,153.88 290.48,155.46 290.79,155.20 291.10,156.79 291.40,154.76 291.71,159.07 292.02,153.28 292.33,157.28 292.64,162.77 292.95,155.33 293.26,156.30 293.57,159.70 293.88,155.26 294.19,156.89 294.49,154.71 294.80,155.35 295.11,155.41 295.42,154.59 295.73,153.38 296.04,157.05 296.35,155.69 296.66,154.36 296.97,157.37 297.28,155.29 297.59,154.00 297.89,156.30 298.20,155.56 298.51,156.13 298.82,157.09 299.13,155.79 299.44,156.43 299.75,157.28 300.06,156.27 300.37,152.05 300.68,161.17 300.98,155.89 301.29,156.37 301.60,167.22 301.91,155.20 302.22,156.24 302.53,152.30 302.84,157.79 303.15,155.41 303.46,155.12 303.77,155.11 304.08,156.39 304.38,152.69 304.69,158.35 305.00,155.68 305.31,155.35 305.62,157.63 305.93,156.84 306.24,156.29 306.55,154.12 306.86,157.18 307.17,155.90 307.48,154.25 307.78,155.23 308.09,155.93 308.40,154.37 308.71,156.79 309.02,162.46 309.33,156.84 309.64,155.94 309.95,156.21 310.26,153.98 310.57,155.63 310.87,165.83 311.18,156.01 311.49,154.93 311.80,156.02 312.11,154.97 312.42,155.42 312.73,157.31 313.04,158.02 313.35,161.26 313.66,156.39 313.97,154.64 314.27,155.09 314.58,171.40 314.89,155.70 315.20,157.84 315.51,154.98 315.82,156.86 316.13,153.53 316.44,155.03 316.75,156.28 317.06,156.12 317.36,155.75 317.67,153.81 317.98,154.66 318.29,155.04 318.60,154.50 318.91,155.83 319.22,154.24 319.53,154.51 319.84,158.78 320.15,154.09 320.46,157.36 320.76,154.71 321.07,158.57 321.38,153.49 321.69,153.47 322.00,153.55 322.31,156.19 322.62,154.05 322.93,154.15 323.24,154.54 323.55,169.40 323.86,154.85 324.16,156.36 324.47,153.88 324.78,164.19 325.09,155.41 325.40,164.33 325.71,168.40 326.02,155.20 326.33,156.36 326.64,163.22 326.95,156.30 327.25,155.51 327.56,156.22 327.87,154.54 328.18,157.56 328.49,153.31 328.80,163.66" fill="none" stroke="#ec3c3c" stroke-width="1.15" stroke-linejoin="round" />
<polyline points="168.40,197.97 168.71,196.29 169.02,196.73 169.33,198.98 169.64,201.55 169.95,200.62 170.25,198.77 170.56,198.23 170.87,199.37 171.18,197.33 171.49,200.53 171.80,199.32 172.11,201.41 172.42,197.60 172.73,196.87 173.04,196.90 173.34,199.85 173.65,198.71 173.96,200.00 174.27,197.79 174.58,197.34 174.89,198.15 175.20,202.47 175.51,199.66 175.82,201.99 176.13,200.24 176.44,200.74 176.74,198.42 177.05,197.96 177.36,197.54 177.67,198.57 177.98,197.74 178.29,200.86 178.60,199.64 178.91,196.98 179.22,198.20 179.53,201.26 179.84,199.34 180.14,204.54 180.45,199.49 180.76,198.78 181.07,195.38 181.38,198.73 181.69,196.65 182.00,199.96 182.31,199.30 182.62,199.23 182.93,200.88 183.23,199.75 183.54,197.87 183.85,200.02 184.16,198.70 184.47,201.84 184.78,198.14 185.09,199.39 185.40,198.46 185.71,199.04 186.02,199.55 186.33,199.95 186.63,197.47 186.94,206.67 187.25,199.91 187.56,199.28 187.87,202.14 188.18,203.23 188.49,207.51 188.80,197.19 189.11,200.72 189.42,203.74 189.72,201.24 190.03,205.63 190.34,198.17 190.65,200.46 190.96,198.25 191.27,206.79 191.58,199.48 191.89,198.77 192.20,198.20 192.51,199.02 192.82,197.58 193.12,199.11 193.43,200.24 193.74,198.17 194.05,199.35 194.36,199.06 194.67,197.69 194.98,199.41 195.29,203.60 195.60,197.93 195.91,197.98 196.22,201.26 196.52,201.50 196.83,210.13 197.14,199.32 197.45,199.11 197.76,199.08 198.07,199.87 198.38,197.99 198.69,198.80 199.00,197.09 199.31,199.39 199.61,199.60 199.92,199.81 200.23,198.03 200.54,198.70 200.85,202.30 201.16,197.96 201.47,198.00 201.78,199.71 202.09,199.23 202.40,200.35 202.71,199.83 203.01,205.94 203.32,201.01 203.63,198.50 203.94,202.44 204.25,200.11 204.56,199.38 204.87,198.04 205.18,195.91 205.49,199.85 205.80,199.19 206.10,197.96 206.41,199.40 206.72,200.76 207.03,198.04 207.34,199.74 207.65,198.49 207.96,198.81 208.27,198.14 208.58,203.29 208.89,199.59 209.20,199.32 209.50,208.80 209.81,199.53 210.12,200.25 210.43,200.79 210.74,199.47 211.05,200.05 211.36,200.05 211.67,199.92 211.98,204.48 212.29,199.02 212.59,198.75 212.90,200.66 213.21,199.66 213.52,199.62 213.83,201.44 214.14,199.64 214.45,200.34 214.76,197.41 215.07,199.52 215.38,201.25 215.69,197.75 215.99,198.54 216.30,200.32 216.61,202.00 216.92,198.91 217.23,200.28 217.54,196.98 217.85,197.35 218.16,198.96 218.47,199.64 218.78,198.21 219.09,200.77 219.39,199.19 219.70,196.54 220.01,199.87 220.32,203.51 220.63,199.83 220.94,196.95 221.25,197.74 221.56,199.37 221.87,198.36 222.18,201.36 222.48,197.67 222.79,197.58 223.10,204.38 223.41,202.30 223.72,201.60 224.03,203.30 224.34,199.96 224.65,196.85 224.96,201.19 225.27,197.97 225.58,198.94 225.88,197.59 226.19,201.30 226.50,196.81 226.81,199.68 227.12,199.73 227.43,199.87 227.74,198.26 228.05,198.00 228.36,199.00 228.67,203.51 228.97,207.07 229.28,198.94 229.59,198.41 229.90,198.04 230.21,206.42 230.52,199.93 230.83,197.67 231.14,198.92 231.45,200.20 231.76,203.02 232.07,207.04 232.37,198.58 232.68,198.69 232.99,199.06 233.30,197.42 233.61,198.23 233.92,197.03 234.23,198.39 234.54,200.38 234.85,201.04 235.16,201.34 235.47,199.73 235.77,197.28 236.08,200.10 236.39,199.27 236.70,199.80 237.01,199.72 237.32,198.51 237.63,198.26 237.94,198.65 238.25,198.61 238.56,200.62 238.86,206.03 239.17,199.21 239.48,197.97 239.79,201.07 240.10,200.26 240.41,201.21 240.72,198.66 241.03,202.45 241.34,200.19 241.65,200.32 241.96,203.59 242.26,199.51 242.57,197.37 242.88,197.30 243.19,200.87 243.50,200.75 243.81,198.17 244.12,198.60 244.43,200.86 244.74,199.15 245.05,198.63 245.35,198.01 245.66,196.44 245.97,198.60 246.28,199.14 246.59,198.86 246.90,199.88 247.21,197.44 247.52,201.07 247.83,200.71 248.14,197.41 248.45,196.39 248.75,198.51 249.06,198.53 249.37,201.02 249.68,198.44 249.99,198.87 250.30,197.16 250.61,197.63 250.92,200.29 251.23,196.31 251.54,198.38 251.85,198.14 252.15,200.96 252.46,203.13 252.77,200.12 253.08,196.28 253.39,199.60 253.70,200.83 254.01,198.16 254.32,200.47 254.63,199.93 254.94,201.55 255.24,198.11 255.55,197.62 255.86,200.97 256.17,201.04 256.48,197.85 256.79,200.02 257.10,196.95 257.41,198.65 257.72,201.09 258.03,206.63 258.34,198.96 258.64,199.01 258.95,202.46 259.26,199.51 259.57,199.43 259.88,199.15 260.19,200.11 260.50,199.42 260.81,199.28 261.12,200.08 261.43,198.84 261.73,206.59 262.04,200.35 262.35,199.76 262.66,197.75 262.97,199.67 263.28,197.81 263.59,198.66 263.90,197.36 264.21,198.60 264.52,200.21 264.83,199.50 265.13,198.62 265.44,200.18 265.75,200.54 266.06,198.40 266.37,196.36 266.68,198.10 266.99,198.91 267.30,198.72 267.61,198.34 267.92,200.40 268.23,199.15 268.53,200.88 268.84,200.95 269.15,198.71 269.46,199.93 269.77,200.45 270.08,200.08 270.39,199.43 270.70,199.49 271.01,198.99 271.32,202.03 271.62,200.06 271.93,201.40 272.24,199.78 272.55,198.89 272.86,206.05 273.17,205.64 273.48,196.64 273.79,198.72 274.10,203.33 274.41,197.65 274.72,200.62 275.02,197.41 275.33,199.96 275.64,198.72 275.95,199.44 276.26,199.52 276.57,198.93 276.88,197.21 277.19,199.38 277.50,204.54 277.81,205.87 278.11,199.43 278.42,197.25 278.73,198.61 279.04,198.58 279.35,200.48 279.66,197.08 279.97,198.78 280.28,199.11 280.59,201.24 280.90,200.82 281.21,200.42 281.51,198.04 281.82,199.82 282.13,199.46 282.44,199.63 282.75,199.29 283.06,199.62 283.37,199.11 283.68,199.75 283.99,201.59 284.30,199.74 284.61,200.74 284.91,204.29 285.22,203.10 285.53,199.97 285.84,199.63 286.15,199.69 286.46,197.31 286.77,198.49 287.08,198.86 287.39,198.09 287.70,197.60 288.00,199.70 288.31,198.32 288.62,197.55 288.93,203.87 289.24,199.38 289.55,198.09 289.86,198.27 290.17,197.74 290.48,199.05 290.79,207.94 291.10,201.06 291.40,199.61 291.71,202.98 292.02,198.82 292.33,207.64 292.64,203.23 292.95,201.73 293.26,198.56 293.57,198.63 293.88,195.96 294.19,198.69 294.49,200.77 294.80,198.17 295.11,199.54 295.42,199.02 295.73,201.34 296.04,201.39 296.35,200.26 296.66,198.38 296.97,197.91 297.28,198.45 297.59,205.88 297.89,199.62 298.20,200.30 298.51,196.32 298.82,198.51 299.13,200.02 299.44,200.27 299.75,201.06 300.06,200.27 300.37,203.36 300.68,200.65 300.98,201.92 301.29,198.73 301.60,200.22 301.91,198.75 302.22,200.39 302.53,203.39 302.84,197.85 303.15,199.10 303.46,198.88 303.77,199.83 304.08,198.75 304.38,198.80 304.69,198.61 305.00,201.63 305.31,197.57 305.62,199.49 305.93,200.61 306.24,198.15 306.55,197.69 306.86,201.01 307.17,199.43 307.48,197.75 307.78,201.88 308.09,198.92 308.40,199.39 308.71,201.22 309.02,197.68 309.33,199.09 309.64,198.75 309.95,200.66 310.26,197.51 310.57,200.18 310.87,199.87 311.18,200.02 311.49,197.68 311.80,196.71 312.11,199.87 312.42,201.08 312.73,200.86 313.04,199.52 313.35,200.66 313.66,201.79 313.97,199.50 314.27,200.16 314.58,198.15 314.89,202.88 315.20,198.18 315.51,200.16 315.82,199.12 316.13,201.01 316.44,197.87 316.75,196.83 317.06,200.26 317.36,197.59 317.67,200.61 317.98,199.47 318.29,199.77 318.60,219.00 318.91,215.86 319.22,215.49 319.53,216.71 319.84,215.75 320.15,215.78 320.46,216.83 320.76,217.84 321.07,213.79 321.38,215.08 321.69,216.38 322.00,215.12 322.31,214.12 322.62,214.50 322.93,215.36 323.24,215.48 323.55,215.09 323.86,200.81 324.16,200.86 324.47,200.10 324.78,198.10 325.09,200.42 325.40,197.96 325.71,202.30 326.02,198.41 326.33,198.23 326.64,199.24 326.95,198.98 327.25,197.38 327.56,199.22 327.87,200.78 328.18,198.08 328.49,199.42 328.80,198.42" fill="none" stroke="#3cf01e" stroke-width="1.15" stroke-linejoin="round" />
<polyline points="168.40,211.33 168.71,211.36 169.02,211.82 169.33,208.73 169.64,209.69 169.95,207.80 170.25,210.31 170.56,207.14 170.87,208.71 171.18,212.81 171.49,213.84 171.80,208.09 172.11,208.20 172.42,209.33 172.73,208.97 173.04,208.44 173.34,207.28 173.65,211.28 173.96,209.84 174.27,210.05 174.58,209.37 174.89,209.68 175.20,209.41 175.51,209.33 175.82,210.71 176.13,207.72 176.44,214.92 176.74,206.22 177.05,211.36 177.36,208.67 177.67,208.38 177.98,209.15 178.29,208.21 178.60,209.21 178.91,209.72 179.22,208.60 179.53,207.50 179.84,209.14 180.14,209.89 180.45,210.53 180.76,208.22 181.07,206.34 181.38,208.42 181.69,210.39 182.00,208.59 182.31,209.62 182.62,209.38 182.93,208.05 183.23,211.39 183.54,212.23 183.85,208.62 184.16,209.00 184.47,209.62 184.78,214.33 185.09,209.04 185.40,207.06 185.71,211.48 186.02,208.96 186.33,209.20 186.63,209.45 186.94,208.89 187.25,209.30 187.56,209.21 187.87,210.47 188.18,209.71 188.49,216.17 188.80,210.69 189.11,209.47 189.42,209.07 189.72,206.46 190.03,214.19 190.34,209.19 190.65,208.80 190.96,209.72 191.27,209.23 191.58,212.56 191.89,212.41 192.20,208.52 192.51,211.19 192.82,210.75 193.12,209.02 193.43,211.37 193.74,210.94 194.05,207.43 194.36,208.04 194.67,208.24 194.98,208.71 195.29,209.60 195.60,207.63 195.91,209.20 196.22,208.98 196.52,208.76 196.83,208.36 197.14,210.31 197.45,207.98 197.76,209.09 198.07,207.13 198.38,213.48 198.69,208.75 199.00,211.27 199.31,208.18 199.61,210.42 199.92,206.65 200.23,210.93 200.54,209.64 200.85,207.58 201.16,207.53 201.47,209.01 201.78,209.40 202.09,207.54 202.40,213.99 202.71,210.15 203.01,209.95 203.32,210.65 203.63,206.47 203.94,211.41 204.25,208.04 204.56,208.71 204.87,208.67 205.18,210.42 205.49,209.97 205.80,208.85 206.10,210.13 206.41,208.47 206.72,207.08 207.03,209.91 207.34,209.96 207.65,210.60 207.96,208.66 208.27,209.03 208.58,207.47 208.89,212.20 209.20,210.43 209.50,208.78 209.81,207.59 210.12,207.78 210.43,209.81 210.74,207.38 211.05,208.58 211.36,209.68 211.67,210.76 211.98,210.27 212.29,211.72 212.59,209.84 212.90,208.26 213.21,209.31 213.52,208.68 213.83,207.44 214.14,208.48 214.45,207.39 214.76,207.55 215.07,211.81 215.38,212.53 215.69,212.14 215.99,209.51 216.30,209.66 216.61,209.03 216.92,209.95 217.23,210.06 217.54,207.44 217.85,209.57 218.16,208.48 218.47,209.89 218.78,209.01 219.09,209.82 219.39,212.62 219.70,210.90 220.01,208.27 220.32,208.70 220.63,207.63 220.94,209.68 221.25,206.31 221.56,208.02 221.87,209.26 222.18,212.64 222.48,209.74 222.79,211.40 223.10,212.18 223.41,209.24 223.72,210.66 224.03,208.06 224.34,210.45 224.65,208.52 224.96,210.04 225.27,208.11 225.58,208.75 225.88,212.33 226.19,208.67 226.50,209.56 226.81,209.77 227.12,209.70 227.43,211.36 227.74,211.51 228.05,207.38 228.36,208.88 228.67,208.38 228.97,211.06 229.28,211.98 229.59,208.71 229.90,208.55 230.21,207.79 230.52,212.48 230.83,207.68 231.14,209.39 231.45,209.81 231.76,209.25 232.07,210.57 232.37,208.65 232.68,209.59 232.99,208.92 233.30,208.33 233.61,208.47 233.92,210.40 234.23,212.23 234.54,208.45 234.85,209.37 235.16,214.38 235.47,208.33 235.77,211.33 236.08,210.57 236.39,216.72 236.70,209.09 237.01,211.59 237.32,208.87 237.63,209.96 237.94,209.66 238.25,211.01 238.56,206.27 238.86,207.09 239.17,211.07 239.48,206.77 239.79,209.60 240.10,206.84 240.41,210.35 240.72,207.30 241.03,211.18 241.34,207.10 241.65,209.11 241.96,210.58 242.26,211.83 242.57,209.41 242.88,209.63 243.19,207.35 243.50,208.02 243.81,210.05 244.12,208.38 244.43,206.73 244.74,208.65 245.05,209.77 245.35,207.63 245.66,210.65 245.97,210.25 246.28,207.65 246.59,209.92 246.90,206.02 247.21,206.97 247.52,210.25 247.83,208.59 248.14,207.71 248.45,209.98 248.75,209.67 249.06,210.17 249.37,209.98 249.68,210.78 249.99,209.67 250.30,210.86 250.61,212.45 250.92,208.14 251.23,209.86 251.54,208.68 251.85,211.12 252.15,211.00 252.46,210.07 252.77,211.79 253.08,210.18 253.39,210.73 253.70,209.03 254.01,209.96 254.32,210.18 254.63,209.61 254.94,212.19 255.24,208.61 255.55,211.26 255.86,210.05 256.17,209.33 256.48,209.67 256.79,211.36 257.10,210.61 257.41,206.91 257.72,211.45 258.03,205.97 258.34,209.52 258.64,209.68 258.95,210.92 259.26,209.08 259.57,207.06 259.88,215.64 260.19,208.18 260.50,209.78 260.81,207.25 261.12,208.84 261.43,208.93 261.73,213.67 262.04,209.55 262.35,210.37 262.66,208.76 262.97,210.96 263.28,208.84 263.59,210.02 263.90,208.82 264.21,209.93 264.52,210.50 264.83,208.98 265.13,214.45 265.44,206.97 265.75,208.62 266.06,208.07 266.37,209.27 266.68,210.57 266.99,209.01 267.30,208.62 267.61,208.11 267.92,210.19 268.23,209.23 268.53,209.03 268.84,209.10 269.15,208.63 269.46,208.71 269.77,208.06 270.08,209.68 270.39,208.50 270.70,210.43 271.01,209.67 271.32,206.86 271.62,211.55 271.93,208.71 272.24,210.55 272.55,209.01 272.86,209.42 273.17,210.67 273.48,208.74 273.79,207.63 274.10,208.13 274.41,211.34 274.72,209.04 275.02,207.21 275.33,209.37 275.64,207.75 275.95,207.17 276.26,210.37 276.57,210.77 276.88,212.14 277.19,207.59 277.50,206.31 277.81,209.75 278.11,210.54 278.42,207.40 278.73,211.89 279.04,204.95 279.35,207.77 279.66,211.33 279.97,211.29 280.28,206.84 280.59,210.73 280.90,211.47 281.21,210.62 281.51,209.42 281.82,209.60 282.13,207.01 282.44,209.36 282.75,209.15 283.06,207.67 283.37,207.65 283.68,208.29 283.99,208.88 284.30,210.97 284.61,209.58 284.91,210.19 285.22,211.11 285.53,207.55 285.84,209.33 286.15,208.67 286.46,208.22 286.77,210.48 287.08,209.20 287.39,211.80 287.70,208.65 288.00,211.45 288.31,207.75 288.62,210.43 288.93,208.48 289.24,210.52 289.55,210.56 289.86,216.02 290.17,208.62 290.48,210.19 290.79,208.24 291.10,208.33 291.40,209.23 291.71,206.28 292.02,210.24 292.33,208.06 292.64,209.94 292.95,207.85 293.26,210.03 293.57,207.49 293.88,210.59 294.19,210.01 294.49,209.04 294.80,209.06 295.11,207.45 295.42,208.68 295.73,211.76 296.04,209.65 296.35,211.47 296.66,211.61 296.97,204.95 297.28,209.96 297.59,210.00 297.89,211.26 298.20,209.57 298.51,208.82 298.82,210.05 299.13,218.72 299.44,210.52 299.75,208.01 300.06,209.71 300.37,209.72 300.68,207.45 300.98,211.63 301.29,212.84 301.60,209.12 301.91,207.53 302.22,208.34 302.53,210.39 302.84,205.43 303.15,209.38 303.46,207.63 303.77,206.78 304.08,208.39 304.38,210.19 304.69,208.78 305.00,209.39 305.31,212.13 305.62,208.99 305.93,207.64 306.24,209.30 306.55,208.69 306.86,211.14 307.17,207.80 307.48,207.66 307.78,208.37 308.09,209.53 308.40,210.66 308.71,210.78 309.02,211.52 309.33,209.94 309.64,208.11 309.95,209.49 310.26,211.77 310.57,207.97 310.87,207.24 311.18,207.47 311.49,208.89 311.80,208.26 312.11,208.02 312.42,208.54 312.73,209.67 313.04,211.15 313.35,209.51 313.66,209.52 313.97,209.32 314.27,209.02 314.58,209.64 314.89,215.11 315.20,208.39 315.51,209.09 315.82,211.28 316.13,210.18 316.44,209.65 316.75,209.95 317.06,213.04 317.36,208.19 317.67,212.92 317.98,210.89 318.29,213.55 318.60,191.46 318.91,188.66 319.22,188.54 319.53,188.35 319.84,185.00 320.15,185.28 320.46,189.22 320.76,194.67 321.07,187.51 321.38,186.82 321.69,187.63 322.00,185.47 322.31,189.39 322.62,187.35 322.93,187.24 323.24,188.44 323.55,185.54 323.86,208.84 324.16,210.58 324.47,210.44 324.78,212.63 325.09,208.91 325.40,208.63 325.71,209.66 326.02,209.27 326.33,211.21 326.64,208.20 326.95,209.93 327.25,210.39 327.56,213.28 327.87,207.87 328.18,211.19 328.49,210.93 328.80,209.20" fill="none" stroke="#ec3c3c" stroke-width="1.15" stroke-linejoin="round" />
<polyline points="168.40,246.63 168.71,235.43 169.02,235.15 169.33,235.51 169.64,237.36 169.95,234.38 170.25,235.23 170.56,235.76 170.87,238.38 171.18,234.93 171.49,235.19 171.80,237.30 172.11,237.77 172.42,236.39 172.73,236.09 173.04,236.80 173.34,235.58 173.65,235.03 173.96,242.96 174.27,235.55 174.58,234.46 174.89,237.46 175.20,234.76 175.51,234.45 175.82,234.25 176.13,236.27 176.44,238.07 176.74,236.86 177.05,232.37 177.36,235.81 177.67,235.89 177.98,238.81 178.29,236.19 178.60,233.57 178.91,234.62 179.22,233.87 179.53,236.57 179.84,236.91 180.14,237.57 180.45,236.99 180.76,234.11 181.07,234.68 181.38,240.64 181.69,235.42 182.00,235.80 182.31,238.42 182.62,234.61 182.93,235.08 183.23,234.96 183.54,246.90 183.85,233.71 184.16,234.46 184.47,233.48 184.78,237.02 185.09,233.67 185.40,234.23 185.71,233.21 186.02,235.73 186.33,234.13 186.63,237.01 186.94,233.81 187.25,236.21 187.56,231.88 187.87,240.34 188.18,234.40 188.49,235.05 188.80,233.84 189.11,236.10 189.42,234.27 189.72,235.23 190.03,236.24 190.34,235.62 190.65,236.86 190.96,250.71 191.27,249.32 191.58,236.26 191.89,235.37 192.20,234.60 192.51,241.81 192.82,241.04 193.12,236.51 193.43,236.72 193.74,234.34 194.05,235.17 194.36,234.70 194.67,235.27 194.98,233.75 195.29,235.65 195.60,236.93 195.91,236.13 196.22,244.66 196.52,234.93 196.83,235.90 197.14,237.79 197.45,234.85 197.76,235.51 198.07,234.87 198.38,250.66 198.69,235.68 199.00,241.63 199.31,235.17 199.61,237.02 199.92,235.15 200.23,235.01 200.54,236.26 200.85,237.08 201.16,235.22 201.47,237.20 201.78,236.88 202.09,235.48 202.40,237.64 202.71,236.78 203.01,236.80 203.32,251.32 203.63,235.54 203.94,246.10 204.25,238.44 204.56,234.86 204.87,249.08 205.18,233.43 205.49,236.30 205.80,234.38 206.10,244.10 206.41,234.09 206.72,235.77 207.03,234.84 207.34,235.82 207.65,235.19 207.96,236.18 208.27,234.57 208.58,235.42 208.89,232.27 209.20,236.07 209.50,250.17 209.81,245.38 210.12,236.03 210.43,237.24 210.74,233.45 211.05,234.48 211.36,246.61 211.67,234.93 211.98,244.03 212.29,235.77 212.59,235.96 212.90,236.96 213.21,235.14 213.52,234.91 213.83,236.88 214.14,247.88 214.45,232.76 214.76,249.92 215.07,240.55 215.38,234.90 215.69,235.21 215.99,236.09 216.30,233.79 216.61,234.57 216.92,234.75 217.23,234.69 217.54,236.92 217.85,250.77 218.16,234.51 218.47,238.38 218.78,233.25 219.09,235.77 219.39,234.54 219.70,234.25 220.01,251.34 220.32,237.85 220.63,236.37 220.94,234.92 221.25,234.57 221.56,235.32 221.87,234.28 222.18,246.12 222.48,242.77 222.79,243.97 223.10,236.13 223.41,239.40 223.72,235.29 224.03,234.84 224.34,235.69 224.65,235.24 224.96,235.48 225.27,236.63 225.58,236.58 225.88,234.17 226.19,235.13 226.50,237.03 226.81,232.81 227.12,234.11 227.43,235.71 227.74,235.40 228.05,238.06 228.36,234.99 228.67,237.39 228.97,235.57 229.28,234.58 229.59,237.87 229.90,234.63 230.21,236.90 230.52,236.55 230.83,236.73 231.14,235.59 231.45,251.62 231.76,236.38 232.07,235.11 232.37,235.25 232.68,234.63 232.99,235.51 233.30,237.97 233.61,236.52 233.92,235.83 234.23,234.01 234.54,235.13 234.85,234.00 235.16,234.92 235.47,235.60 235.77,233.76 236.08,234.41 236.39,236.02 236.70,235.39 237.01,234.77 237.32,236.53 237.63,236.51 237.94,232.18 238.25,234.94 238.56,238.12 238.86,244.95 239.17,233.31 239.48,233.55 239.79,233.97 240.10,236.68 240.41,241.45 240.72,251.46 241.03,234.41 241.34,233.77 241.65,236.58 241.96,236.92 242.26,233.59 242.57,251.91 242.88,236.95 243.19,236.13 243.50,230.28 243.81,253.60 244.12,235.72 244.43,237.02 244.74,234.61 245.05,233.42 245.35,234.78 245.66,247.96 245.97,235.51 246.28,235.69 246.59,242.41 246.90,236.26 247.21,238.92 247.52,242.47 247.83,234.86 248.14,232.92 248.45,235.86 248.75,235.77 249.06,232.94 249.37,236.04 249.68,234.14 249.99,237.44 250.30,236.58 250.61,235.52 250.92,233.67 251.23,235.43 251.54,234.38 251.85,238.07 252.15,236.72 252.46,235.93 252.77,234.71 253.08,235.73 253.39,234.80 253.70,238.43 254.01,236.18 254.32,233.99 254.63,233.82 254.94,237.51 255.24,235.65 255.55,235.25 255.86,232.91 256.17,246.76 256.48,233.49 256.79,244.65 257.10,236.08 257.41,236.59 257.72,235.88 258.03,235.60 258.34,232.64 258.64,245.55 258.95,237.79 259.26,235.80 259.57,236.80 259.88,235.55 260.19,234.86 260.50,235.89 260.81,233.66 261.12,235.92 261.43,233.95 261.73,252.93 262.04,234.47 262.35,238.29 262.66,234.88 262.97,233.54 263.28,235.06 263.59,235.97 263.90,235.95 264.21,234.65 264.52,232.97 264.83,235.95 265.13,238.91 265.44,247.36 265.75,234.92 266.06,235.65 266.37,236.23 266.68,235.12 266.99,236.53 267.30,236.88 267.61,235.24 267.92,235.71 268.23,238.79 268.53,234.77 268.84,235.29 269.15,234.15 269.46,244.78 269.77,234.70 270.08,234.10 270.39,235.93 270.70,235.11 271.01,234.66 271.32,250.52 271.62,237.27 271.93,235.09 272.24,234.48 272.55,236.11 272.86,237.52 273.17,234.59 273.48,235.05 273.79,234.29 274.10,234.10 274.41,233.70 274.72,234.65 275.02,233.27 275.33,234.82 275.64,233.25 275.95,234.82 276.26,233.67 276.57,233.74 276.88,233.19 277.19,235.35 277.50,237.92 277.81,237.82 278.11,236.22 278.42,235.45 278.73,234.04 279.04,237.56 279.35,234.26 279.66,238.15 279.97,236.53 280.28,236.10 280.59,236.00 280.90,236.86 281.21,241.20 281.51,235.00 281.82,238.08 282.13,235.76 282.44,235.73 282.75,233.73 283.06,247.67 283.37,236.69 283.68,234.58 283.99,233.89 284.30,234.81 284.61,234.47 284.91,235.96 285.22,234.66 285.53,236.25 285.84,238.96 286.15,245.78 286.46,236.27 286.77,235.70 287.08,235.73 287.39,234.94 287.70,236.96 288.00,235.01 288.31,233.07 288.62,237.94 288.93,251.15 289.24,243.56 289.55,235.55 289.86,235.78 290.17,240.27 290.48,234.95 290.79,236.40 291.10,235.88 291.40,235.94 291.71,249.61 292.02,236.05 292.33,235.93 292.64,233.37 292.95,239.74 293.26,233.83 293.57,236.24 293.88,235.34 294.19,234.12 294.49,236.20 294.80,237.97 295.11,236.10 295.42,240.92 295.73,238.06 296.04,234.08 296.35,236.42 296.66,237.10 296.97,236.68 297.28,239.98 297.59,235.13 297.89,235.74 298.20,235.66 298.51,235.83 298.82,235.30 299.13,238.27 299.44,232.53 299.75,238.34 300.06,234.74 300.37,245.39 300.68,237.11 300.98,233.78 301.29,237.27 301.60,235.22 301.91,235.03 302.22,235.26 302.53,237.56 302.84,235.16 303.15,237.38 303.46,234.93 303.77,236.00 304.08,245.15 304.38,238.24 304.69,234.91 305.00,235.84 305.31,236.07 305.62,235.27 305.93,248.14 306.24,237.62 306.55,238.09 306.86,233.83 307.17,237.03 307.48,235.40 307.78,234.24 308.09,237.53 308.40,235.70 308.71,237.68 309.02,241.16 309.33,237.37 309.64,237.70 309.95,235.57 310.26,243.18 310.57,236.88 310.87,235.84 311.18,234.19 311.49,233.49 311.80,234.64 312.11,231.99 312.42,245.70 312.73,234.10 313.04,232.75 313.35,235.59 313.66,235.59 313.97,235.02 314.27,236.33 314.58,234.56 314.89,234.88 315.20,250.28 315.51,234.82 315.82,235.28 316.13,236.28 316.44,234.63 316.75,247.41 317.06,237.58 317.36,236.01 317.67,243.61 317.98,234.52 318.29,236.48 318.60,234.67 318.91,233.92 319.22,232.64 319.53,233.23 319.84,236.98 320.15,236.34 320.46,235.15 320.76,235.26 321.07,235.00 321.38,235.67 321.69,234.80 322.00,235.55 322.31,236.27 322.62,234.96 322.93,236.07 323.24,237.45 323.55,246.04 323.86,238.55 324.16,236.72 324.47,235.42 324.78,238.34 325.09,234.32 325.40,233.36 325.71,234.08 326.02,235.07 326.33,250.13 326.64,234.99 326.95,238.15 327.25,234.07 327.56,236.96 327.87,234.35 328.18,232.24 328.49,234.31 328.80,237.51" fill="none" stroke="#3cf01e" stroke-width="1.15" stroke-linejoin="round" />
<polyline points="168.40,250.34 168.71,246.45 169.02,254.45 169.33,249.96 169.64,253.06 169.95,248.76 170.25,247.34 170.56,252.17 170.87,251.64 171.18,251.23 171.49,256.00 171.80,248.00 172.11,247.46 172.42,254.14 172.73,252.11 173.04,252.52 173.34,253.13 173.65,251.64 173.96,250.06 174.27,248.90 174.58,248.24 174.89,249.02 175.20,250.29 175.51,252.39 175.82,248.49 176.13,249.76 176.44,249.66 176.74,247.25 177.05,251.02 177.36,253.31 177.67,247.89 177.98,248.25 178.29,251.34 178.60,246.58 178.91,249.74 179.22,249.77 179.53,250.52 179.84,248.07 180.14,251.14 180.45,251.35 180.76,250.99 181.07,248.88 181.38,248.08 181.69,249.61 182.00,250.98 182.31,247.69 182.62,251.15 182.93,250.60 183.23,251.85 183.54,251.02 183.85,246.76 184.16,248.59 184.47,245.53 184.78,250.92 185.09,249.87 185.40,256.52 185.71,251.39 186.02,247.79 186.33,248.59 186.63,251.35 186.94,247.57 187.25,249.57 187.56,248.09 187.87,250.49 188.18,249.05 188.49,250.75 188.80,251.45 189.11,249.87 189.42,250.09 189.72,249.33 190.03,249.78 190.34,250.08 190.65,259.23 190.96,249.01 191.27,248.30 191.58,252.00 191.89,252.26 192.20,248.63 192.51,248.08 192.82,250.80 193.12,249.46 193.43,251.62 193.74,249.69 194.05,247.76 194.36,249.22 194.67,249.03 194.98,250.14 195.29,250.65 195.60,249.57 195.91,247.63 196.22,248.89 196.52,249.67 196.83,251.75 197.14,249.64 197.45,251.02 197.76,250.16 198.07,252.05 198.38,249.21 198.69,245.54 199.00,253.28 199.31,253.93 199.61,251.08 199.92,249.39 200.23,250.52 200.54,256.05 200.85,248.27 201.16,250.88 201.47,251.34 201.78,252.69 202.09,246.59 202.40,248.90 202.71,248.94 203.01,248.28 203.32,250.88 203.63,250.74 203.94,249.61 204.25,251.57 204.56,253.11 204.87,249.90 205.18,249.45 205.49,247.79 205.80,248.84 206.10,249.89 206.41,250.39 206.72,249.26 207.03,249.43 207.34,250.31 207.65,247.21 207.96,252.28 208.27,247.89 208.58,252.11 208.89,249.03 209.20,249.22 209.50,251.29 209.81,250.53 210.12,248.26 210.43,247.72 210.74,251.15 211.05,252.18 211.36,250.02 211.67,251.37 211.98,251.26 212.29,251.26 212.59,250.74 212.90,250.35 213.21,251.94 213.52,249.63 213.83,250.41 214.14,251.72 214.45,252.27 214.76,250.54 215.07,251.96 215.38,252.10 215.69,251.86 215.99,248.82 216.30,250.03 216.61,250.63 216.92,252.74 217.23,249.50 217.54,249.28 217.85,248.47 218.16,249.15 218.47,249.71 218.78,252.63 219.09,249.83 219.39,245.71 219.70,251.89 220.01,248.84 220.32,249.75 220.63,250.70 220.94,250.86 221.25,252.83 221.56,247.65 221.87,253.04 222.18,251.46 222.48,249.85 222.79,251.55 223.10,252.59 223.41,249.87 223.72,246.74 224.03,252.51 224.34,251.76 224.65,250.41 224.96,251.00 225.27,247.75 225.58,255.79 225.88,246.82 226.19,250.25 226.50,249.20 226.81,250.66 227.12,244.33 227.43,251.34 227.74,248.38 228.05,248.80 228.36,249.30 228.67,249.73 228.97,248.38 229.28,248.37 229.59,252.23 229.90,249.72 230.21,249.01 230.52,251.36 230.83,246.73 231.14,251.07 231.45,249.59 231.76,250.51 232.07,251.75 232.37,251.64 232.68,250.14 232.99,252.78 233.30,247.76 233.61,249.94 233.92,250.01 234.23,251.51 234.54,251.09 234.85,250.56 235.16,250.42 235.47,249.29 235.77,249.96 236.08,250.02 236.39,250.61 236.70,252.49 237.01,251.51 237.32,247.25 237.63,248.79 237.94,249.86 238.25,248.04 238.56,249.12 238.86,248.69 239.17,249.94 239.48,250.31 239.79,255.48 240.10,248.29 240.41,250.96 240.72,247.69 241.03,250.46 241.34,251.70 241.65,247.58 241.96,258.60 242.26,250.01 242.57,246.64 242.88,248.47 243.19,247.80 243.50,251.03 243.81,250.72 244.12,250.32 244.43,248.16 244.74,251.41 245.05,254.85 245.35,251.71 245.66,249.75 245.97,254.88 246.28,249.96 246.59,252.50 246.90,250.74 247.21,249.09 247.52,250.65 247.83,249.07 248.14,248.91 248.45,251.58 248.75,249.63 249.06,251.34 249.37,249.71 249.68,252.49 249.99,251.45 250.30,249.25 250.61,250.01 250.92,250.64 251.23,249.85 251.54,250.15 251.85,251.90 252.15,250.94 252.46,253.94 252.77,247.30 253.08,251.09 253.39,249.13 253.70,250.02 254.01,251.36 254.32,252.99 254.63,249.23 254.94,249.91 255.24,249.44 255.55,247.13 255.86,250.08 256.17,252.34 256.48,251.11 256.79,249.33 257.10,243.56 257.41,245.65 257.72,252.35 258.03,254.36 258.34,250.94 258.64,251.52 258.95,248.00 259.26,251.49 259.57,247.97 259.88,249.93 260.19,247.55 260.50,251.62 260.81,253.88 261.12,249.01 261.43,251.25 261.73,250.30 262.04,249.30 262.35,246.29 262.66,249.66 262.97,249.26 263.28,252.25 263.59,254.59 263.90,252.10 264.21,248.50 264.52,250.20 264.83,257.64 265.13,246.89 265.44,250.23 265.75,250.88 266.06,249.90 266.37,250.61 266.68,250.44 266.99,250.75 267.30,251.22 267.61,249.75 267.92,249.76 268.23,250.98 268.53,248.95 268.84,249.83 269.15,249.67 269.46,252.42 269.77,252.96 270.08,250.24 270.39,251.57 270.70,250.31 271.01,251.73 271.32,248.43 271.62,249.89 271.93,252.93 272.24,252.87 272.55,250.98 272.86,250.76 273.17,248.63 273.48,250.55 273.79,250.45 274.10,250.56 274.41,249.77 274.72,248.79 275.02,249.58 275.33,250.44 275.64,251.40 275.95,248.62 276.26,250.02 276.57,248.69 276.88,250.13 277.19,250.85 277.50,247.86 277.81,250.10 278.11,248.52 278.42,248.37 278.73,251.33 279.04,249.15 279.35,250.87 279.66,246.58 279.97,250.91 280.28,258.00 280.59,248.30 280.90,251.46 281.21,249.85 281.51,251.95 281.82,254.19 282.13,249.51 282.44,250.12 282.75,247.01 283.06,247.04 283.37,251.19 283.68,249.56 283.99,251.20 284.30,250.41 284.61,247.87 284.91,249.01 285.22,249.96 285.53,248.51 285.84,249.04 286.15,252.55 286.46,253.84 286.77,250.80 287.08,251.20 287.39,252.64 287.70,251.37 288.00,254.02 288.31,247.14 288.62,252.47 288.93,250.12 289.24,251.09 289.55,247.67 289.86,251.18 290.17,252.93 290.48,250.44 290.79,250.04 291.10,251.42 291.40,251.30 291.71,252.86 292.02,249.19 292.33,249.21 292.64,247.68 292.95,254.67 293.26,248.27 293.57,246.48 293.88,252.71 294.19,248.18 294.49,257.21 294.80,250.35 295.11,249.07 295.42,250.35 295.73,248.01 296.04,250.53 296.35,249.34 296.66,252.82 296.97,249.53 297.28,253.33 297.59,252.42 297.89,249.00 298.20,250.69 298.51,249.40 298.82,249.05 299.13,249.52 299.44,248.41 299.75,247.84 300.06,249.81 300.37,252.01 300.68,247.03 300.98,248.19 301.29,249.30 301.60,250.06 301.91,251.47 302.22,246.24 302.53,251.10 302.84,260.80 303.15,248.69 303.46,251.36 303.77,248.02 304.08,249.88 304.38,250.50 304.69,249.62 305.00,249.48 305.31,248.53 305.62,246.47 305.93,249.61 306.24,250.34 306.55,250.37 306.86,252.28 307.17,250.49 307.48,249.89 307.78,248.37 308.09,257.22 308.40,249.49 308.71,249.41 309.02,251.75 309.33,251.23 309.64,247.85 309.95,249.35 310.26,251.65 310.57,248.44 310.87,251.56 311.18,249.81 311.49,248.65 311.80,248.54 312.11,248.93 312.42,251.46 312.73,250.61 313.04,249.51 313.35,250.53 313.66,250.12 313.97,254.47 314.27,249.18 314.58,251.46 314.89,249.29 315.20,251.21 315.51,250.85 315.82,250.63 316.13,249.22 316.44,249.26 316.75,251.58 317.06,250.22 317.36,256.18 317.67,246.12 317.98,250.93 318.29,248.74 318.60,249.06 318.91,250.86 319.22,249.14 319.53,249.20 319.84,251.22 320.15,249.37 320.46,252.67 320.76,249.93 321.07,249.38 321.38,252.46 321.69,251.20 322.00,250.47 322.31,250.24 322.62,249.86 322.93,249.99 323.24,250.33 323.55,251.07 323.86,251.93 324.16,251.31 324.47,249.13 324.78,249.45 325.09,251.41 325.40,249.52 325.71,251.78 326.02,253.98 326.33,249.53 326.64,246.22 326.95,250.82 327.25,248.62 327.56,254.03 327.87,246.66 328.18,255.09 328.49,249.54 328.80,250.37" fill="none" stroke="#ec3c3c" stroke-width="1.15" stroke-linejoin="round" />
<line x1="168.40" y1="145.30" x2="168.40" y2="263.00" stroke="#111" stroke-width="1.4" />
<line x1="167.70" y1="145.50" x2="329.50" y2="145.50" stroke="#111" stroke-width="1.5" />
<line x1="328.80" y1="145.30" x2="328.80" y2="178.00" stroke="#111" stroke-width="1.5" />
<line x1="165.40" y1="184.00" x2="328.80" y2="184.00" stroke="#666" stroke-width="0.7" />
<line x1="328.80" y1="184.00" x2="328.80" y2="220.30" stroke="#777" stroke-width="0.7" />
<line x1="165.40" y1="220.30" x2="328.80" y2="220.30" stroke="#666" stroke-width="0.7" />
<line x1="328.80" y1="228.30" x2="328.80" y2="263.00" stroke="#111" stroke-width="1.5" />
<line x1="167.70" y1="263.00" x2="329.50" y2="263.00" stroke="#111" stroke-width="1.4" />
<line x1="208.50" y1="184.00" x2="208.50" y2="186.00" stroke="#555" stroke-width="0.6" />
<line x1="208.50" y1="220.30" x2="208.50" y2="222.30" stroke="#555" stroke-width="0.6" />
<line x1="208.50" y1="263.00" x2="208.50" y2="261.00" stroke="#555" stroke-width="0.6" />
<line x1="248.60" y1="184.00" x2="248.60" y2="186.00" stroke="#555" stroke-width="0.6" />
<line x1="248.60" y1="220.30" x2="248.60" y2="222.30" stroke="#555" stroke-width="0.6" />
<line x1="248.60" y1="263.00" x2="248.60" y2="261.00" stroke="#555" stroke-width="0.6" />
<line x1="288.70" y1="184.00" x2="288.70" y2="186.00" stroke="#555" stroke-width="0.6" />
<line x1="288.70" y1="220.30" x2="288.70" y2="222.30" stroke="#555" stroke-width="0.6" />
<line x1="288.70" y1="263.00" x2="288.70" y2="261.00" stroke="#555" stroke-width="0.6" />
<line x1="168.40" y1="154.60" x2="166.20" y2="154.60" stroke="#333" stroke-width="0.7" />
<line x1="168.40" y1="164.40" x2="166.20" y2="164.40" stroke="#333" stroke-width="0.7" />
<line x1="168.40" y1="174.10" x2="166.20" y2="174.10" stroke="#333" stroke-width="0.7" />
<line x1="168.40" y1="199.20" x2="166.20" y2="199.20" stroke="#333" stroke-width="0.7" />
<line x1="168.40" y1="209.60" x2="166.20" y2="209.60" stroke="#333" stroke-width="0.7" />
<line x1="168.40" y1="235.60" x2="166.20" y2="235.60" stroke="#333" stroke-width="0.7" />
<line x1="168.40" y1="245.60" x2="166.20" y2="245.60" stroke="#333" stroke-width="0.7" />
<line x1="168.40" y1="255.60" x2="166.20" y2="255.60" stroke="#333" stroke-width="0.7" />
<text x="165.20" y="159.60" font-size="11.0" text-anchor="end" fill="#222" font-weight="normal" font-style="normal"  stroke="#222" stroke-width="0.1">200</text>
<text x="165.20" y="178.60" font-size="11.0" text-anchor="end" fill="#222" font-weight="normal" font-style="normal"  stroke="#222" stroke-width="0.1">0</text>
<text x="165.20" y="203.40" font-size="11.0" text-anchor="end" fill="#222" font-weight="normal" font-style="normal"  stroke="#222" stroke-width="0.1">200</text>
<text x="165.20" y="214.40" font-size="11.0" text-anchor="end" fill="#222" font-weight="normal" font-style="normal"  stroke="#222" stroke-width="0.1">0</text>
<text x="165.20" y="240.60" font-size="11.0" text-anchor="end" fill="#222" font-weight="normal" font-style="normal"  stroke="#222" stroke-width="0.1">200</text>
<text x="165.20" y="260.80" font-size="11.0" text-anchor="end" fill="#222" font-weight="normal" font-style="normal"  stroke="#222" stroke-width="0.1">0</text>
<text x="168.40" y="275.90" font-size="10.9" text-anchor="middle" fill="#222" font-weight="normal" font-style="normal"  stroke="#222" stroke-width="0.1">0</text>
<text x="208.50" y="275.90" font-size="10.9" text-anchor="middle" fill="#222" font-weight="normal" font-style="normal"  stroke="#222" stroke-width="0.1">100</text>
<text x="248.60" y="275.90" font-size="10.9" text-anchor="middle" fill="#222" font-weight="normal" font-style="normal"  stroke="#222" stroke-width="0.1">200</text>
<text x="288.70" y="275.90" font-size="10.9" text-anchor="middle" fill="#222" font-weight="normal" font-style="normal"  stroke="#222" stroke-width="0.1">300</text>
<text x="328.80" y="275.90" font-size="10.9" text-anchor="middle" fill="#222" font-weight="normal" font-style="normal"  stroke="#222" stroke-width="0.1">400</text>
<text x="256.20" y="289.00" font-size="11.4" text-anchor="middle" fill="#222" font-weight="normal" font-style="normal"  stroke="#222" stroke-width="0.1">Time (s)</text>
<text x="0" y="0" font-size="11.2" fill="#222" text-anchor="middle" transform="translate(142.4,218.0) rotate(-90)" stroke="#222" stroke-width="0.1">Fluorescence</text>
<text x="223.00" y="153.20" font-size="7.5" text-anchor="start" fill="#111" font-weight="normal" font-style="normal"  stroke="#111" stroke-width="0.1">S and NS both binds</text>
<text x="230.40" y="194.40" font-size="7.4" text-anchor="start" fill="#111" font-weight="normal" font-style="normal"  stroke="#111" stroke-width="0.1">S and NS both binds</text>
<text x="196.80" y="230.60" font-size="7.4" text-anchor="start" fill="#111" font-weight="normal" font-style="normal"  stroke="#111" stroke-width="0.1">no FRET - Only S probe binds</text>
<line x1="227.20" y1="152.40" x2="224.40" y2="158.82" stroke="#111" stroke-width="1.2" />
<path d="M222.40,163.40 L222.11,157.82 L226.69,159.82 Z" fill="#111" stroke="none" stroke-width="1" />
<line x1="279.40" y1="152.40" x2="285.39" y2="158.14" stroke="#111" stroke-width="1.2" />
<path d="M289.00,161.60 L283.66,159.95 L287.12,156.34 Z" fill="#111" stroke="none" stroke-width="1" />
<line x1="303.20" y1="192.40" x2="313.35" y2="194.97" stroke="#111" stroke-width="1.2" />
<path d="M318.20,196.20 L312.76,197.30 L313.94,192.65 Z" fill="#111" stroke="none" stroke-width="1" />
<text x="339.50" y="147.40" font-size="13.0" text-anchor="start" fill="#111" font-weight="bold" font-style="normal" >G</text>
<text x="438.60" y="148.60" font-size="10.7" text-anchor="middle" fill="#222" font-weight="normal" font-style="normal"  stroke="#222" stroke-width="0.1">5’ Seed accessible miRISC</text>
<line x1="380.40" y1="152.00" x2="380.40" y2="250.30" stroke="#333" stroke-width="0.9" />
<line x1="380.40" y1="250.30" x2="498.80" y2="250.30" stroke="#333" stroke-width="0.9" />
<line x1="380.4" y1="152.3" x2="497.8" y2="152.3" stroke="#222" stroke-width="0.9" stroke-dasharray="3,2"/>
<line x1="380.40" y1="250.30" x2="378.20" y2="250.30" stroke="#333" stroke-width="0.8" />
<text x="376.40" y="253.70" font-size="9.8" text-anchor="end" fill="#222" font-weight="normal" font-style="normal"  stroke="#222" stroke-width="0.1">0.0</text>
<line x1="380.40" y1="231.02" x2="378.20" y2="231.02" stroke="#333" stroke-width="0.8" />
<text x="376.40" y="234.42" font-size="9.8" text-anchor="end" fill="#222" font-weight="normal" font-style="normal"  stroke="#222" stroke-width="0.1">0.2</text>
<line x1="380.40" y1="211.74" x2="378.20" y2="211.74" stroke="#333" stroke-width="0.8" />
<text x="376.40" y="215.14" font-size="9.8" text-anchor="end" fill="#222" font-weight="normal" font-style="normal"  stroke="#222" stroke-width="0.1">0.4</text>
<line x1="380.40" y1="192.46" x2="378.20" y2="192.46" stroke="#333" stroke-width="0.8" />
<text x="376.40" y="195.86" font-size="9.8" text-anchor="end" fill="#222" font-weight="normal" font-style="normal"  stroke="#222" stroke-width="0.1">0.6</text>
<line x1="380.40" y1="173.18" x2="378.20" y2="173.18" stroke="#333" stroke-width="0.8" />
<text x="376.40" y="176.58" font-size="9.8" text-anchor="end" fill="#222" font-weight="normal" font-style="normal"  stroke="#222" stroke-width="0.1">0.8</text>
<line x1="380.40" y1="153.90" x2="378.20" y2="153.90" stroke="#333" stroke-width="0.8" />
<text x="376.40" y="157.30" font-size="9.8" text-anchor="end" fill="#222" font-weight="normal" font-style="normal"  stroke="#222" stroke-width="0.1">1.0</text>
<line x1="380.40" y1="240.66" x2="379.00" y2="240.66" stroke="#333" stroke-width="0.6" />
<line x1="380.40" y1="221.38" x2="379.00" y2="221.38" stroke="#333" stroke-width="0.6" />
<line x1="380.40" y1="202.10" x2="379.00" y2="202.10" stroke="#333" stroke-width="0.6" />
<line x1="380.40" y1="182.82" x2="379.00" y2="182.82" stroke="#333" stroke-width="0.6" />
<line x1="380.40" y1="163.54" x2="379.00" y2="163.54" stroke="#333" stroke-width="0.6" />
<text x="379.80" y="263.80" font-size="10.0" text-anchor="middle" fill="#222" font-weight="normal" font-style="normal"  stroke="#222" stroke-width="0.1">0</text>
<text x="393.50" y="263.80" font-size="10.0" text-anchor="middle" fill="#222" font-weight="normal" font-style="normal"  stroke="#222" stroke-width="0.1">1</text>
<text x="406.40" y="263.80" font-size="10.0" text-anchor="middle" fill="#222" font-weight="normal" font-style="normal"  stroke="#222" stroke-width="0.1">2</text>
<text x="419.10" y="263.80" font-size="10.0" text-anchor="middle" fill="#222" font-weight="normal" font-style="normal"  stroke="#222" stroke-width="0.1">3</text>
<text x="432.40" y="263.80" font-size="10.0" text-anchor="middle" fill="#222" font-weight="normal" font-style="normal"  stroke="#222" stroke-width="0.1">4</text>
<text x="445.50" y="263.80" font-size="10.0" text-anchor="middle" fill="#222" font-weight="normal" font-style="normal"  stroke="#222" stroke-width="0.1">5</text>
<text x="458.60" y="263.80" font-size="10.0" text-anchor="middle" fill="#222" font-weight="normal" font-style="normal"  stroke="#222" stroke-width="0.1">6</text>
<text x="473.60" y="263.80" font-size="10.0" text-anchor="middle" fill="#222" font-weight="normal" font-style="normal"  stroke="#222" stroke-width="0.1">7</text>
<line x1="382.70" y1="250.30" x2="382.70" y2="252.40" stroke="#333" stroke-width="0.7" />
<line x1="394.10" y1="250.30" x2="394.10" y2="252.40" stroke="#333" stroke-width="0.7" />
<line x1="406.40" y1="250.30" x2="406.40" y2="252.40" stroke="#333" stroke-width="0.7" />
<line x1="419.10" y1="250.30" x2="419.10" y2="252.40" stroke="#333" stroke-width="0.7" />
<line x1="431.80" y1="250.30" x2="431.80" y2="252.40" stroke="#333" stroke-width="0.7" />
<line x1="445.30" y1="250.30" x2="445.30" y2="252.40" stroke="#333" stroke-width="0.7" />
<line x1="458.30" y1="250.30" x2="458.30" y2="252.40" stroke="#333" stroke-width="0.7" />
<line x1="473.30" y1="250.30" x2="473.30" y2="252.40" stroke="#333" stroke-width="0.7" />
<line x1="490.70" y1="250.30" x2="490.70" y2="252.40" stroke="#333" stroke-width="0.7" />
<text x="426.20" y="275.80" font-size="11.0" text-anchor="middle" fill="#222" font-weight="normal" font-style="normal"  stroke="#222" stroke-width="0.1">Time (min)</text>
<text x="0" y="0" font-size="9.8" fill="#222" text-anchor="middle" transform="translate(357.4,208.2) rotate(-90)" stroke="#222" stroke-width="0.1">Non-seed accessibility</text>
<rect x="384.10" y="232.80" width="3.40" height="3.40" fill="#4caf3c" />
<rect x="388.60" y="224.50" width="3.40" height="3.40" fill="#4caf3c" />
<rect x="396.30" y="212.00" width="3.40" height="3.40" fill="#4caf3c" />
<rect x="411.80" y="199.10" width="3.40" height="3.40" fill="#4caf3c" />
<rect x="427.30" y="193.90" width="3.40" height="3.40" fill="#4caf3c" />
<rect x="442.80" y="187.40" width="3.40" height="3.40" fill="#4caf3c" />
<rect x="458.00" y="182.20" width="3.40" height="3.40" fill="#4caf3c" />
<rect x="473.20" y="180.10" width="3.40" height="3.40" fill="#4caf3c" />
<rect x="488.70" y="179.30" width="3.40" height="3.40" fill="#4caf3c" />
<rect x="384.10" y="242.70" width="3.40" height="3.40" fill="#3a7ee0" />
<rect x="388.60" y="238.30" width="3.40" height="3.40" fill="#3a7ee0" />
<rect x="396.30" y="231.70" width="3.40" height="3.40" fill="#3a7ee0" />
<rect x="411.80" y="226.00" width="3.40" height="3.40" fill="#3a7ee0" />
<rect x="427.30" y="220.20" width="3.40" height="3.40" fill="#3a7ee0" />
<rect x="442.80" y="216.70" width="3.40" height="3.40" fill="#3a7ee0" />
<rect x="458.00" y="213.40" width="3.40" height="3.40" fill="#3a7ee0" />
<rect x="473.20" y="212.00" width="3.40" height="3.40" fill="#3a7ee0" />
<rect x="488.70" y="209.90" width="3.40" height="3.40" fill="#3a7ee0" />
<rect x="445.20" y="228.10" width="4.30" height="4.20" fill="#4caf3c" />
<rect x="445.20" y="241.40" width="4.30" height="4.20" fill="#3a7ee0" />
<text x="452.2" y="233.4" font-size="9.4" fill="#222" stroke="#222" stroke-width="0.1">t10<tspan font-size="6" dy="1.2">NS</tspan><tspan dy="-1.2"> (t13 - t22)</tspan></text>
<text x="452.2" y="247.0" font-size="9.4" fill="#222" stroke="#222" stroke-width="0.1">t8<tspan font-size="6" dy="1.2">NS</tspan><tspan dy="-1.2"> (t14 - t21)</tspan></text>
<text x="516.10" y="147.50" font-size="13.0" text-anchor="start" fill="#111" font-weight="bold" font-style="normal" >H</text>
<line x1="559.50" y1="143.90" x2="559.50" y2="237.30" stroke="#555" stroke-width="1.3" />
<line x1="557.00" y1="236.70" x2="683.40" y2="236.70" stroke="#555" stroke-width="1.3" />
<line x1="559.50" y1="236.70" x2="557.20" y2="236.70" stroke="#555" stroke-width="1.0" />
<line x1="559.50" y1="214.60" x2="557.20" y2="214.60" stroke="#555" stroke-width="1.0" />
<line x1="559.50" y1="192.50" x2="557.20" y2="192.50" stroke="#555" stroke-width="1.0" />
<line x1="559.50" y1="170.40" x2="557.20" y2="170.40" stroke="#555" stroke-width="1.0" />
<line x1="559.50" y1="148.30" x2="557.20" y2="148.30" stroke="#555" stroke-width="1.0" />
<text x="554.80" y="242.20" font-size="12.3" text-anchor="end" fill="#1e1e1e" font-weight="normal" font-style="normal" stroke="none">0</text>
<text x="554.80" y="221.40" font-size="12.3" text-anchor="end" fill="#1e1e1e" font-weight="normal" font-style="normal" stroke="none">20</text>
<text x="554.80" y="199.60" font-size="12.3" text-anchor="end" fill="#1e1e1e" font-weight="normal" font-style="normal" stroke="none">40</text>
<text x="554.80" y="177.30" font-size="12.3" text-anchor="end" fill="#1e1e1e" font-weight="normal" font-style="normal" stroke="none">60</text>
<text x="554.80" y="155.20" font-size="12.3" text-anchor="end" fill="#1e1e1e" font-weight="normal" font-style="normal" stroke="none">80</text>
<line x1="559.50" y1="225.65" x2="558.00" y2="225.65" stroke="#555" stroke-width="0.7" />
<line x1="559.50" y1="203.55" x2="558.00" y2="203.55" stroke="#555" stroke-width="0.7" />
<line x1="559.50" y1="181.45" x2="558.00" y2="181.45" stroke="#555" stroke-width="0.7" />
<line x1="559.50" y1="159.35" x2="558.00" y2="159.35" stroke="#555" stroke-width="0.7" />
<rect x="565.3" y="158.6" width="49.8" height="78.10" fill="#c873ac" stroke="#a05a90" stroke-width="0.6"/>
<rect x="627.6" y="205.0" width="50.0" height="31.70" fill="#e2ea4a" stroke="#a8ae40" stroke-width="0.6"/>
<line x1="590.20" y1="236.70" x2="590.20" y2="238.90" stroke="#444" stroke-width="0.9" />
<line x1="652.60" y1="236.70" x2="652.60" y2="238.90" stroke="#444" stroke-width="0.9" />
<line x1="590.40" y1="153.20" x2="590.40" y2="164.20" stroke="#111" stroke-width="0.9" />
<line x1="588.60" y1="153.20" x2="592.20" y2="153.20" stroke="#111" stroke-width="0.9" />
<line x1="588.60" y1="164.20" x2="592.20" y2="164.20" stroke="#111" stroke-width="0.9" />
<circle cx="590.40" cy="153.60" r="1.70" fill="#f2c264" opacity="0.9"/>
<circle cx="590.20" cy="160.20" r="1.70" fill="#f2c264" opacity="0.9"/>
<circle cx="590.60" cy="163.00" r="1.70" fill="#f2c264" opacity="0.9"/>
<line x1="652.60" y1="199.40" x2="652.60" y2="210.20" stroke="#111" stroke-width="0.9" />
<line x1="650.80" y1="199.40" x2="654.40" y2="199.40" stroke="#111" stroke-width="0.9" />
<line x1="650.80" y1="210.20" x2="654.40" y2="210.20" stroke="#111" stroke-width="0.9" />
<circle cx="650.20" cy="199.40" r="1.70" fill="#f2c264" opacity="0.9"/>
<circle cx="652.60" cy="202.80" r="1.70" fill="#f2c264" opacity="0.9"/>
<circle cx="652.00" cy="212.40" r="1.70" fill="#f2c264" opacity="0.9"/>
<text x="0" y="0" font-size="13" fill="#1e1e1e" stroke="none" text-anchor="middle" transform="translate(534.1,193.3) rotate(-90)">% population</text>
<text x="584.80" y="258.00" font-size="13.5" text-anchor="middle" fill="#1e1e1e" font-weight="normal" font-style="normal" stroke="none">5’S</text>
<text x="583.00" y="273.40" font-size="13.5" text-anchor="middle" fill="#1e1e1e" font-weight="normal" font-style="normal" stroke="none">accessible</text>
<text x="585.00" y="289.00" font-size="13.5" text-anchor="middle" fill="#1e1e1e" font-weight="normal" font-style="normal" stroke="none">miRISC</text>
<text x="649.50" y="258.00" font-size="13.5" text-anchor="middle" fill="#1e1e1e" font-weight="normal" font-style="normal" stroke="none">Suppl. plus</text>
<text x="649.50" y="273.40" font-size="13.5" text-anchor="middle" fill="#1e1e1e" font-weight="normal" font-style="normal" stroke="none">3’ NS</text>
<text x="649.50" y="289.00" font-size="13.5" text-anchor="middle" fill="#1e1e1e" font-weight="normal" font-style="normal" stroke="none">accessible</text>
<text x="649.50" y="304.60" font-size="13.5" text-anchor="middle" fill="#1e1e1e" font-weight="normal" font-style="normal" stroke="none">miRISC</text>
</svg>
</div>
</body></html>
